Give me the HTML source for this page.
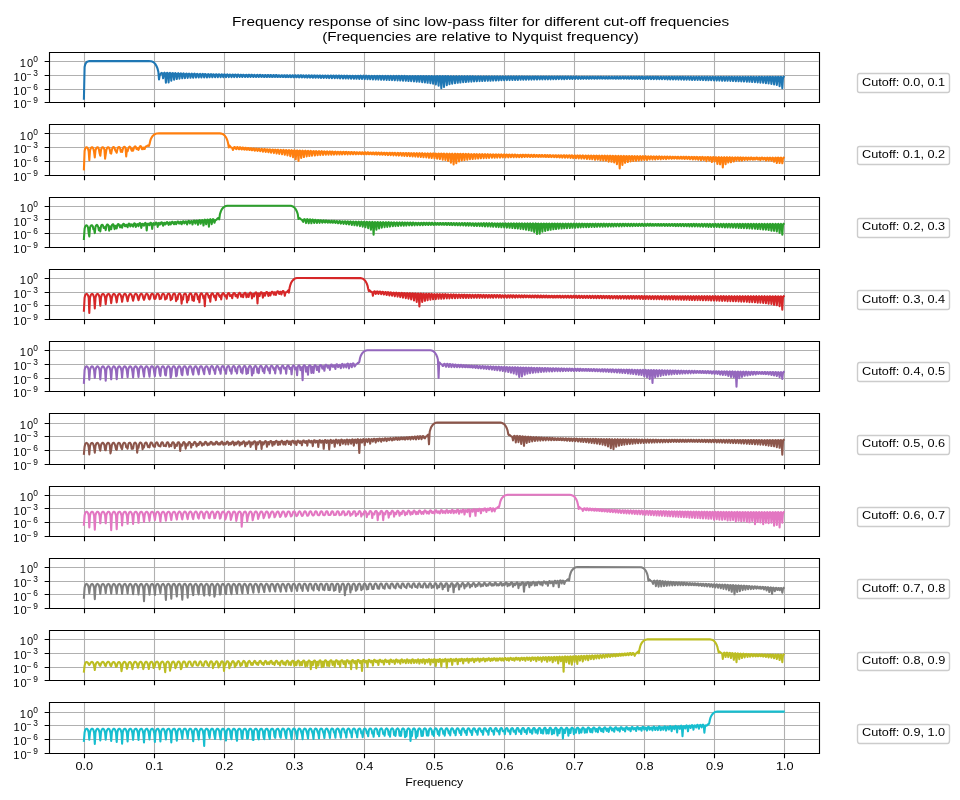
<!DOCTYPE html>
<html><head><meta charset="utf-8"><title>Frequency response of sinc low-pass filter</title>
<style>html,body{margin:0;padding:0;background:#fff;width:960px;height:800px;overflow:hidden}svg{display:block;will-change:transform}text{font-family:"Liberation Sans",sans-serif;fill:#000}</style>
</head><body>
<svg width="960" height="800" viewBox="0 0 960 800">
<defs><clipPath id="c0"><rect x="48.88" y="52" width="769.78" height="50.27"/></clipPath><clipPath id="c1"><rect x="48.88" y="124.27" width="769.78" height="50.27"/></clipPath><clipPath id="c2"><rect x="48.88" y="196.54" width="769.78" height="50.27"/></clipPath><clipPath id="c3"><rect x="48.88" y="268.82" width="769.78" height="50.27"/></clipPath><clipPath id="c4"><rect x="48.88" y="341.09" width="769.78" height="50.27"/></clipPath><clipPath id="c5"><rect x="48.88" y="413.36" width="769.78" height="50.27"/></clipPath><clipPath id="c6"><rect x="48.88" y="485.63" width="769.78" height="50.27"/></clipPath><clipPath id="c7"><rect x="48.88" y="557.91" width="769.78" height="50.27"/></clipPath><clipPath id="c8"><rect x="48.88" y="630.18" width="769.78" height="50.27"/></clipPath><clipPath id="c9"><rect x="48.88" y="702.45" width="769.78" height="50.27"/></clipPath></defs>
<rect width="960" height="800" fill="#fff"/>
<path d="M84.5 52.5V102.5M154.5 52.5V102.5M224.5 52.5V102.5M294.5 52.5V102.5M364.5 52.5V102.5M434.5 52.5V102.5M504.5 52.5V102.5M574.5 52.5V102.5M644.5 52.5V102.5M714.5 52.5V102.5M784.5 52.5V102.5M49.5 102.5H819.5M49.5 89.5H819.5M49.5 75.5H819.5M49.5 61.5H819.5" stroke="#b0b0b0" stroke-width="1.11" fill="none" stroke-linecap="square" clip-path="url(#c0)"/>
<path d="M84.5 102.5v4.86M154.5 102.5v4.86M224.5 102.5v4.86M294.5 102.5v4.86M364.5 102.5v4.86M434.5 102.5v4.86M504.5 102.5v4.86M574.5 102.5v4.86M644.5 102.5v4.86M714.5 102.5v4.86M784.5 102.5v4.86M49.5 102.5h-4.86M49.5 89.5h-4.86M49.5 75.5h-4.86M49.5 61.5h-4.86" stroke="#000" stroke-width="1.11" fill="none"/>
<path d="M49.5 52.5H819.5V102.5H49.5Z" stroke="#000" stroke-width="1.11" fill="none" stroke-linecap="square"/>
<path d="M859.5 92.5L947.5 92.5Q949.5 92.5 949.5 90.5L949.5 76.5Q949.5 73.5 947.5 73.5L859.5 73.5Q857.5 73.5 857.5 76.5L857.5 90.5Q857.5 92.5 859.5 92.5Z" fill="#fff" fill-opacity="0.8" stroke="#ccc" stroke-width="1.39"/>
<path d="M83.9 98.8 84.6 67.1 85.2 64.5 85.9 63.1 86.6 62.2 87.3 61.7 88.0 61.4 89.3 61.1 94.8 61.1 102.3 61.1 111.2 61.1 124.9 61.1 148.8 61.1 150.8 61.3 152.2 61.6 153.6 62.3 154.3 62.9 154.9 63.6 155.6 64.5 156.3 65.7 157.0 67.2 157.7 69.2 158.4 72.1 159.0 79.5 159.7 75.6 160.4 74.3 161.1 73.2 161.8 72.9 162.5 73.7 163.1 78.3 163.8 73.3 164.5 72.7 165.2 73.4 165.9 82.7 166.6 73.4 167.2 72.8 167.9 73.5 168.6 82.4 169.3 73.5 170.0 72.9 170.7 73.7 171.3 80.6 172.0 73.6 172.7 73.0 173.4 73.8 174.1 79.6 174.8 73.7 175.4 73.1 176.1 73.9 176.8 79.0 177.5 73.8 178.2 73.2 178.9 74.1 179.5 78.6 180.2 73.9 180.9 73.3 181.6 74.2 182.3 78.3 183.0 73.9 183.6 73.4 184.3 74.3 185.0 78.1 185.7 74.0 186.4 73.5 187.1 74.4 187.7 77.9 188.4 74.1 189.1 73.6 189.8 74.6 190.5 77.8 191.2 74.1 191.8 73.7 192.5 74.7 193.2 77.7 193.9 74.2 194.6 73.7 195.3 74.8 196.0 77.6 196.6 74.2 197.3 73.8 198.0 74.9 198.7 77.5 199.4 74.3 200.1 73.9 200.7 74.9 201.4 77.5 202.1 74.3 202.8 73.9 203.5 75.0 204.2 77.4 204.8 74.3 205.5 74.0 206.2 75.1 206.9 77.4 207.6 74.4 208.3 74.1 208.9 75.2 209.6 77.3 210.3 74.4 211.0 74.1 211.7 75.3 212.4 77.3 213.0 74.5 213.7 74.2 214.4 75.4 215.1 77.2 215.8 74.5 216.5 74.2 217.1 75.4 217.8 77.2 218.5 74.5 219.2 74.3 219.9 75.5 220.6 77.2 221.2 74.6 221.9 74.3 222.6 75.6 223.3 77.2 224.0 74.6 224.7 74.4 226.0 77.1 226.7 74.7 227.4 74.4 228.8 77.1 229.4 74.7 230.1 74.5 231.5 77.1 232.2 74.7 232.9 74.5 234.2 77.1 234.9 74.8 235.6 74.6 237.0 77.1 237.6 74.8 238.3 74.6 239.0 76.0 239.7 77.0 240.4 74.8 241.1 74.7 241.7 76.1 242.4 77.0 243.1 74.8 243.8 74.7 244.5 76.1 245.2 77.0 245.8 74.9 246.5 74.7 247.2 76.2 247.9 77.0 248.6 74.9 249.3 74.8 249.9 76.3 250.6 77.0 251.3 74.9 252.0 74.8 252.7 76.3 253.4 77.0 254.0 75.0 254.7 74.9 255.4 76.4 256.1 77.0 256.8 75.0 257.5 74.9 258.1 76.4 258.8 77.0 259.5 75.0 260.2 74.9 260.9 76.5 261.6 77.0 262.2 75.0 262.9 75.0 263.6 76.6 264.3 77.0 265.0 75.1 265.7 75.0 266.3 76.6 267.0 77.0 267.7 75.1 268.4 75.0 269.1 76.7 269.8 76.9 270.4 75.1 271.1 75.1 271.8 76.8 272.5 76.9 273.2 75.1 273.9 75.1 274.5 76.8 275.2 76.9 275.9 75.1 276.6 75.1 277.3 76.9 278.0 76.9 278.6 75.2 279.3 75.2 280.0 76.9 280.7 76.9 281.4 75.2 282.1 75.2 282.7 77.0 283.4 76.9 284.1 75.2 284.8 75.2 285.5 77.1 286.2 76.9 286.8 75.2 287.5 75.3 288.2 77.1 288.9 76.9 289.6 75.3 290.3 75.3 290.9 77.2 291.6 76.9 292.3 75.3 293.0 75.3 293.7 77.3 294.4 76.9 295.0 75.3 295.7 75.4 296.4 77.3 297.1 76.9 297.8 75.3 298.5 75.4 299.1 77.4 299.8 76.9 300.5 75.3 301.2 75.4 301.9 77.4 302.6 76.9 303.2 75.4 303.9 75.5 304.6 77.5 305.3 76.9 306.0 75.4 306.7 75.5 307.3 77.6 308.0 76.9 308.7 75.4 309.4 75.5 310.1 77.6 310.8 76.9 311.4 75.4 312.1 75.6 312.8 77.7 313.5 76.9 314.2 75.4 314.9 75.6 315.5 77.8 316.2 76.9 316.9 75.5 317.6 75.6 318.3 77.8 319.0 76.9 319.6 75.5 320.3 75.6 321.0 77.9 321.7 76.9 322.4 75.5 323.1 75.7 323.7 78.0 324.4 76.9 325.1 75.5 325.8 75.7 326.5 78.0 327.8 75.5 328.5 75.7 329.2 78.1 330.6 75.5 331.3 75.8 331.9 78.2 333.3 75.6 334.0 75.8 334.7 78.2 336.0 75.6 336.7 75.8 337.4 78.3 338.8 75.6 339.5 75.8 340.1 78.4 340.8 76.8 341.5 75.6 342.2 75.9 342.9 78.5 343.6 76.8 344.2 75.6 344.9 75.9 345.6 78.5 346.3 76.8 347.0 75.6 347.7 75.9 348.3 78.6 349.0 76.8 349.7 75.7 350.4 76.0 351.1 78.7 351.8 76.8 352.4 75.7 353.1 76.0 353.8 78.8 354.5 76.8 355.2 75.7 355.9 76.0 356.5 78.8 357.2 76.8 357.9 75.7 358.6 76.0 359.3 78.9 360.0 76.8 360.6 75.7 361.3 76.1 362.0 79.0 362.7 76.8 363.4 75.7 364.1 76.1 364.7 79.1 365.4 76.8 366.1 75.7 366.8 76.1 367.5 79.2 368.2 76.8 368.8 75.8 369.5 76.1 370.2 79.3 370.9 76.8 371.6 75.8 372.3 76.2 372.9 79.4 373.6 76.8 374.3 75.8 375.0 76.2 375.7 79.5 376.4 76.8 377.1 75.8 377.7 76.2 378.4 79.6 379.1 76.8 379.8 75.8 380.5 76.2 381.2 79.7 381.8 76.8 382.5 75.8 383.2 76.3 383.9 79.8 384.6 76.8 385.3 75.8 385.9 76.3 386.6 79.9 387.3 76.8 388.0 75.9 388.7 76.3 389.4 80.0 390.0 76.8 390.7 75.9 391.4 76.3 392.1 80.1 392.8 76.8 393.5 75.9 394.1 76.4 394.8 80.2 395.5 76.8 396.2 75.9 396.9 76.4 397.6 80.4 398.2 76.8 398.9 75.9 399.6 76.4 400.3 80.5 401.0 76.8 401.7 75.9 402.3 76.4 403.0 80.7 403.7 76.8 404.4 75.9 405.1 76.5 405.8 80.8 406.4 76.8 407.1 76.0 407.8 76.5 408.5 81.0 409.2 76.8 409.9 76.0 410.5 76.5 411.2 81.2 411.9 76.8 412.6 76.0 413.3 76.5 414.0 81.4 414.6 76.8 415.3 76.0 416.0 76.6 416.7 81.6 417.4 76.8 418.1 76.0 418.7 76.6 419.4 81.8 420.1 76.8 420.8 76.0 421.5 76.6 422.2 82.1 422.8 76.8 423.5 76.0 424.2 76.6 424.9 82.4 425.6 76.8 426.3 76.0 426.9 76.7 427.6 82.8 428.3 76.8 429.0 76.1 429.7 76.7 430.4 83.2 431.0 76.8 431.7 76.1 432.4 76.7 433.1 83.7 433.8 76.8 434.5 76.1 435.1 76.7 435.8 84.4 436.5 76.8 437.2 76.1 437.9 76.8 438.6 85.6 439.2 76.8 439.9 76.1 440.6 76.8 441.3 88.2 442.0 76.8 442.7 76.1 443.3 76.8 444.0 87.0 444.7 76.8 445.4 76.1 446.1 76.8 446.8 85.2 447.4 76.8 448.1 76.1 448.8 76.9 449.5 84.2 450.2 76.8 450.9 76.2 451.5 76.9 452.2 83.6 452.9 76.8 453.6 76.2 454.3 76.9 455.0 83.1 455.6 76.8 456.3 76.2 457.0 76.9 457.7 82.8 458.4 76.8 459.1 76.2 459.7 77.0 460.4 82.5 461.1 76.8 461.8 76.2 462.5 77.0 463.2 82.2 463.8 76.8 464.5 76.2 465.2 77.0 465.9 82.0 466.6 76.8 467.3 76.2 467.9 77.0 468.6 81.8 469.3 76.8 470.0 76.2 470.7 77.1 471.4 81.6 472.0 76.8 472.7 76.2 473.4 77.1 474.1 81.4 474.8 76.8 475.5 76.3 476.1 77.1 476.8 81.3 477.5 76.8 478.2 76.3 478.9 77.1 479.6 81.1 480.2 76.8 480.9 76.3 481.6 77.2 482.3 81.0 483.0 76.8 483.7 76.3 484.3 77.2 485.0 80.9 485.7 76.8 486.4 76.3 487.1 77.2 487.8 80.8 488.4 76.8 489.1 76.3 489.8 77.2 490.5 80.7 491.2 76.8 491.9 76.3 492.5 77.3 493.2 80.6 493.9 76.8 494.6 76.3 495.3 77.3 496.0 80.5 496.6 76.8 497.3 76.3 498.0 77.3 498.7 80.4 499.4 76.8 500.1 76.4 500.7 77.3 501.4 80.3 502.1 76.8 502.8 76.4 503.5 77.4 504.2 80.2 504.8 76.8 505.5 76.4 506.2 77.4 506.9 80.1 507.6 76.8 508.3 76.4 508.9 77.4 509.6 80.1 510.3 76.8 511.0 76.4 511.7 77.4 512.4 80.0 513.0 76.8 513.7 76.4 514.4 77.5 515.1 79.9 515.8 76.8 516.5 76.4 517.1 77.5 517.8 79.9 518.5 76.8 519.2 76.4 519.9 77.5 520.6 79.8 521.2 76.8 521.9 76.4 522.6 77.5 523.3 79.7 524.0 76.8 524.7 76.5 525.3 77.6 526.0 79.7 526.7 76.8 527.4 76.5 528.1 77.6 528.8 79.6 529.4 76.8 530.1 76.5 530.8 77.6 531.5 79.6 532.2 76.8 532.9 76.5 533.5 77.7 534.2 79.5 534.9 76.8 535.6 76.5 536.3 77.7 537.0 79.5 537.6 76.8 538.3 76.5 539.0 77.7 539.7 79.4 540.4 76.8 541.1 76.5 541.7 77.7 542.4 79.4 543.1 76.8 543.8 76.5 544.5 77.8 545.2 79.3 545.8 76.8 546.5 76.5 547.2 77.8 547.9 79.3 548.6 76.8 549.3 76.5 550.6 79.3 551.3 76.8 552.0 76.6 553.4 79.2 554.1 76.8 554.7 76.6 556.1 79.2 556.8 76.8 557.5 76.6 558.8 79.1 559.5 76.8 560.2 76.6 561.6 79.1 562.3 76.8 562.9 76.6 563.6 78.0 564.3 79.1 565.0 76.8 565.7 76.6 566.4 78.0 567.0 79.0 567.7 76.8 568.4 76.6 569.1 78.0 569.8 79.0 570.5 76.8 571.1 76.6 571.8 78.1 572.5 79.0 573.2 76.8 573.9 76.6 574.6 78.1 575.2 78.9 575.9 76.8 576.6 76.6 577.3 78.1 578.0 78.9 578.7 76.8 579.3 76.7 580.0 78.1 580.7 78.9 581.4 76.8 582.1 76.7 582.8 78.2 583.4 78.8 584.1 76.8 584.8 76.7 585.5 78.2 586.2 78.8 586.9 76.8 587.5 76.7 588.2 78.2 588.9 78.8 589.6 76.8 590.3 76.7 591.0 78.3 591.6 78.7 592.3 76.8 593.0 76.7 593.7 78.3 594.4 78.7 595.1 76.8 595.7 76.7 596.4 78.3 597.1 78.7 597.8 76.8 598.5 76.7 599.2 78.4 599.8 78.6 600.5 76.8 601.2 76.7 601.9 78.4 602.6 78.6 603.3 76.8 603.9 76.8 604.6 78.4 605.3 78.6 606.0 76.8 606.7 76.8 607.4 78.5 608.0 78.6 608.7 76.8 609.4 76.8 610.1 78.5 610.8 78.5 611.5 76.8 612.1 76.8 612.8 78.5 613.5 78.5 614.2 76.8 614.9 76.8 615.6 78.6 616.2 78.5 616.9 76.8 617.6 76.8 618.3 78.6 619.0 78.5 619.7 76.8 620.3 76.8 621.0 78.6 621.7 78.4 622.4 76.8 623.1 76.8 623.8 78.7 624.4 78.4 625.1 76.8 625.8 76.8 626.5 78.7 627.2 78.4 627.9 76.8 628.5 76.8 629.2 78.8 629.9 78.4 630.6 76.8 631.3 76.9 632.0 78.8 632.6 78.4 633.3 76.8 634.0 76.9 634.7 78.8 635.4 78.3 636.1 76.8 636.7 76.9 637.4 78.9 638.1 78.3 638.8 76.8 639.5 76.9 640.2 78.9 640.8 78.3 641.5 76.8 642.2 76.9 642.9 79.0 643.6 78.3 644.3 76.8 644.9 76.9 645.6 79.0 646.3 78.3 647.0 76.8 647.7 76.9 648.4 79.0 649.0 78.2 649.7 76.8 650.4 76.9 651.1 79.1 651.8 78.2 652.5 76.8 653.1 76.9 653.8 79.1 654.5 78.2 655.2 76.8 655.9 76.9 656.6 79.2 657.2 78.2 657.9 76.8 658.6 77.0 659.3 79.2 660.0 78.2 660.7 76.8 661.3 77.0 662.0 79.3 662.7 78.1 663.4 76.8 664.1 77.0 664.8 79.3 666.1 76.8 666.8 77.0 667.5 79.4 668.9 76.8 669.5 77.0 670.2 79.4 671.6 76.8 672.3 77.0 673.0 79.5 674.3 76.8 675.0 77.0 675.7 79.5 677.1 76.8 677.7 77.0 678.4 79.6 679.1 78.0 679.8 76.8 680.5 77.0 681.2 79.6 681.8 78.0 682.5 76.8 683.2 77.0 683.9 79.7 684.6 78.0 685.3 76.8 685.9 77.1 686.6 79.7 687.3 78.0 688.0 76.8 688.7 77.1 689.4 79.8 690.0 78.0 690.7 76.8 691.4 77.1 692.1 79.9 692.8 77.9 693.5 76.8 694.1 77.1 694.8 79.9 695.5 77.9 696.2 76.8 696.9 77.1 697.6 80.0 698.2 77.9 698.9 76.8 699.6 77.1 700.3 80.0 701.0 77.9 701.7 76.8 702.3 77.1 703.0 80.1 703.7 77.9 704.4 76.8 705.1 77.1 705.8 80.2 706.4 77.9 707.1 76.8 707.8 77.1 708.5 80.3 709.2 77.8 709.9 76.8 710.5 77.2 711.2 80.3 711.9 77.8 712.6 76.8 713.3 77.2 714.0 80.4 714.6 77.8 715.3 76.8 716.0 77.2 716.7 80.5 717.4 77.8 718.1 76.8 718.7 77.2 719.4 80.6 720.1 77.8 720.8 76.8 721.5 77.2 722.2 80.7 722.8 77.8 723.5 76.8 724.2 77.2 724.9 80.7 725.6 77.8 726.3 76.8 726.9 77.2 727.6 80.8 728.3 77.7 729.0 76.8 729.7 77.2 730.4 80.9 731.0 77.7 731.7 76.8 732.4 77.2 733.1 81.0 733.8 77.7 734.5 76.8 735.2 77.3 735.8 81.2 736.5 77.7 737.2 76.8 737.9 77.3 738.6 81.3 739.3 77.7 739.9 76.8 740.6 77.3 741.3 81.4 742.0 77.7 742.7 76.8 743.4 77.3 744.0 81.5 744.7 77.7 745.4 76.8 746.1 77.3 746.8 81.7 747.5 77.6 748.1 76.8 748.8 77.3 749.5 81.8 750.2 77.6 750.9 76.8 751.6 77.3 752.2 82.0 752.9 77.6 753.6 76.8 754.3 77.3 755.0 82.2 755.7 77.6 756.3 76.8 757.0 77.3 757.7 82.4 758.4 77.6 759.1 76.8 759.8 77.4 760.4 82.6 761.1 77.6 761.8 76.8 762.5 77.4 763.2 82.8 763.9 77.6 764.5 76.8 765.2 77.4 765.9 83.1 766.6 77.5 767.3 76.8 768.0 77.4 768.6 83.5 769.3 77.5 770.0 76.8 770.7 77.4 771.4 83.9 772.1 77.5 772.7 76.8 773.4 77.4 774.1 84.4 774.8 77.5 775.5 76.8 776.2 77.4 776.8 85.0 777.5 77.5 778.2 76.8 778.9 77.4 779.6 86.1 780.3 77.5 780.9 76.8 781.6 77.5 782.3 88.2 783.0 77.5 783.7 76.8 783.7 76.8" stroke="#1f77b4" stroke-width="2.08" fill="none" stroke-linecap="square" stroke-linejoin="round" clip-path="url(#c0)"/>
<path d="M84.5 124.5V175.5M154.5 124.5V175.5M224.5 124.5V175.5M294.5 124.5V175.5M364.5 124.5V175.5M434.5 124.5V175.5M504.5 124.5V175.5M574.5 124.5V175.5M644.5 124.5V175.5M714.5 124.5V175.5M784.5 124.5V175.5M49.5 175.5H819.5M49.5 161.5H819.5M49.5 147.5H819.5M49.5 133.5H819.5" stroke="#b0b0b0" stroke-width="1.11" fill="none" stroke-linecap="square" clip-path="url(#c1)"/>
<path d="M84.5 175.5v4.86M154.5 175.5v4.86M224.5 175.5v4.86M294.5 175.5v4.86M364.5 175.5v4.86M434.5 175.5v4.86M504.5 175.5v4.86M574.5 175.5v4.86M644.5 175.5v4.86M714.5 175.5v4.86M784.5 175.5v4.86M49.5 175.5h-4.86M49.5 161.5h-4.86M49.5 147.5h-4.86M49.5 133.5h-4.86" stroke="#000" stroke-width="1.11" fill="none"/>
<path d="M49.5 124.5H819.5V175.5H49.5Z" stroke="#000" stroke-width="1.11" fill="none" stroke-linecap="square"/>
<path d="M859.5 164.5L947.5 164.5Q949.5 164.5 949.5 162.5L949.5 148.5Q949.5 146.5 947.5 146.5L859.5 146.5Q857.5 146.5 857.5 148.5L857.5 162.5Q857.5 164.5 859.5 164.5Z" fill="#fff" fill-opacity="0.8" stroke="#ccc" stroke-width="1.39"/>
<path d="M83.9 169.3 84.6 151.0 85.2 148.6 85.9 147.5 86.6 147.2 87.3 147.6 88.0 148.8 88.7 151.5 89.3 160.3 90.0 150.7 90.7 148.4 91.4 147.5 92.1 147.2 92.8 147.7 93.4 148.9 94.1 152.1 94.8 157.4 95.5 150.4 96.2 148.3 96.9 147.4 97.5 147.2 98.2 147.7 98.9 149.2 99.6 153.3 100.3 155.8 101.0 150.1 101.6 148.1 102.3 147.3 103.0 147.2 103.7 147.8 104.4 149.5 105.1 158.7 106.4 149.9 107.1 148.0 107.8 147.2 108.5 147.2 109.2 147.9 109.8 149.9 110.5 153.2 111.2 153.6 111.9 149.7 112.6 147.8 113.3 147.1 113.9 147.1 114.6 148.0 115.3 150.5 116.0 151.5 116.7 152.7 117.4 149.4 118.0 147.6 118.7 147.0 119.4 147.1 120.1 148.1 120.8 151.7 121.5 150.4 122.1 152.0 122.8 149.1 123.5 147.4 124.2 146.8 124.9 147.0 125.6 148.3 126.2 156.4 126.9 149.5 127.6 151.3 128.3 148.8 129.0 147.1 129.7 146.6 130.3 147.0 131.0 148.6 131.7 150.8 132.4 148.8 133.1 150.6 133.8 148.5 134.4 146.8 135.1 146.4 135.8 146.9 136.5 149.0 137.2 149.2 137.9 148.0 138.5 149.9 139.9 146.5 140.6 146.1 141.3 146.7 142.0 149.3 143.3 147.6 144.0 149.1 144.7 148.9 145.4 146.9 146.1 146.4 146.7 146.2 148.1 145.3 148.8 146.0 149.5 144.3 150.2 141.1 150.8 139.1 151.5 137.7 152.2 136.6 152.9 135.7 154.3 134.5 155.6 133.8 157.0 133.5 159.0 133.4 219.9 133.4 221.2 133.6 222.6 134.0 223.3 134.4 224.0 134.9 224.7 135.5 225.3 136.4 226.0 137.4 226.7 138.8 227.4 140.6 228.1 143.3 228.8 147.4 229.4 145.6 230.1 146.3 230.8 147.3 232.2 147.9 232.9 150.0 234.2 147.1 234.9 147.1 235.6 148.7 236.3 149.1 237.0 147.2 237.6 147.1 238.3 148.7 239.0 149.3 239.7 147.4 240.4 147.4 241.1 149.0 241.7 149.5 242.4 147.6 243.1 147.6 243.8 149.3 244.5 149.6 245.2 147.8 245.8 147.9 246.5 149.7 247.2 149.7 247.9 148.0 248.6 148.1 249.3 150.0 249.9 149.8 250.6 148.2 251.3 148.3 252.0 150.3 252.7 149.9 253.4 148.4 254.0 148.6 254.7 150.7 255.4 150.0 256.1 148.6 256.8 148.8 257.5 151.0 258.1 150.1 258.8 148.7 259.5 149.0 260.2 151.3 261.6 148.9 262.2 149.2 262.9 151.7 264.3 149.0 265.0 149.3 265.7 152.0 266.3 150.4 267.0 149.2 267.7 149.5 268.4 152.3 269.1 150.4 269.8 149.3 270.4 149.7 271.1 152.7 271.8 150.5 272.5 149.5 273.2 149.9 273.9 153.1 274.5 150.6 275.2 149.6 275.9 150.0 276.6 153.5 277.3 150.7 278.0 149.7 278.6 150.2 279.3 153.9 280.0 150.7 280.7 149.8 281.4 150.3 282.1 154.3 282.7 150.8 283.4 149.9 284.1 150.5 284.8 154.8 285.5 150.9 286.2 150.0 286.8 150.6 287.5 155.4 288.2 150.9 288.9 150.1 289.6 150.7 290.3 156.2 290.9 151.0 291.6 150.2 292.3 150.9 293.0 157.2 293.7 151.1 294.4 150.3 295.0 151.0 295.7 159.3 296.4 151.1 297.1 150.4 297.8 151.1 298.5 161.0 299.1 151.2 299.8 150.5 300.5 151.3 301.2 158.0 301.9 151.2 302.6 150.6 303.2 151.4 303.9 157.0 304.6 151.3 305.3 150.7 306.0 151.5 306.7 156.4 307.3 151.3 308.0 150.8 308.7 151.6 309.4 156.0 310.1 151.4 310.8 150.9 311.4 151.8 312.1 155.7 312.8 151.5 313.5 151.0 314.2 151.9 314.9 155.5 315.5 151.5 316.2 151.1 316.9 152.0 317.6 155.2 318.3 151.6 319.0 151.1 319.6 152.1 320.3 155.1 321.0 151.6 321.7 151.2 322.4 152.2 323.1 154.9 323.7 151.7 324.4 151.3 325.1 152.4 325.8 154.8 326.5 151.7 327.2 151.4 327.8 152.5 328.5 154.7 329.2 151.8 329.9 151.4 330.6 152.6 331.3 154.7 331.9 151.8 332.6 151.5 333.3 152.7 334.0 154.6 334.7 151.9 335.4 151.6 336.0 152.8 336.7 154.5 337.4 151.9 338.1 151.7 338.8 152.9 339.5 154.5 340.1 152.0 340.8 151.7 342.2 154.4 342.9 152.0 343.6 151.8 344.9 154.4 345.6 152.1 346.3 151.9 347.0 153.3 347.7 154.3 348.3 152.1 349.0 152.0 349.7 153.4 350.4 154.3 351.1 152.1 351.8 152.0 352.4 153.5 353.1 154.3 353.8 152.2 354.5 152.1 355.2 153.6 355.9 154.3 356.5 152.2 357.2 152.2 357.9 153.7 358.6 154.2 359.3 152.3 360.0 152.2 360.6 153.8 361.3 154.2 362.0 152.3 362.7 152.3 363.4 154.0 364.1 154.2 364.7 152.4 365.4 152.4 366.1 154.1 366.8 154.2 367.5 152.4 368.2 152.4 368.8 154.2 369.5 154.2 370.2 152.5 370.9 152.5 371.6 154.3 372.3 154.2 372.9 152.5 373.6 152.6 374.3 154.4 375.0 154.2 375.7 152.5 376.4 152.6 377.1 154.6 377.7 154.2 378.4 152.6 379.1 152.7 379.8 154.7 380.5 154.2 381.2 152.6 381.8 152.8 382.5 154.8 383.2 154.2 383.9 152.7 384.6 152.8 385.3 155.0 385.9 154.2 386.6 152.7 387.3 152.9 388.0 155.1 388.7 154.2 389.4 152.8 390.0 152.9 390.7 155.2 391.4 154.2 392.1 152.8 392.8 153.0 393.5 155.4 394.8 152.8 395.5 153.1 396.2 155.5 397.6 152.9 398.2 153.1 398.9 155.6 400.3 152.9 401.0 153.2 401.7 155.8 402.3 154.2 403.0 153.0 403.7 153.3 404.4 155.9 405.1 154.2 405.8 153.0 406.4 153.3 407.1 156.1 407.8 154.2 408.5 153.0 409.2 153.4 409.9 156.3 410.5 154.2 411.2 153.1 411.9 153.4 412.6 156.5 413.3 154.2 414.0 153.1 414.6 153.5 415.3 156.6 416.0 154.2 416.7 153.2 417.4 153.6 418.1 156.8 418.7 154.2 419.4 153.2 420.1 153.6 420.8 157.0 421.5 154.2 422.2 153.2 422.8 153.7 423.5 157.2 424.2 154.3 424.9 153.3 425.6 153.8 426.3 157.4 426.9 154.3 427.6 153.3 428.3 153.8 429.0 157.7 429.7 154.3 430.4 153.4 431.0 153.9 431.7 158.0 432.4 154.3 433.1 153.4 433.8 153.9 434.5 158.3 435.1 154.3 435.8 153.5 436.5 154.0 437.2 158.6 437.9 154.3 438.6 153.5 439.2 154.1 439.9 159.0 440.6 154.3 441.3 153.5 442.0 154.1 442.7 159.6 443.3 154.3 444.0 153.6 444.7 154.2 445.4 159.9 446.1 154.4 446.8 153.6 447.4 154.3 448.1 161.0 448.8 154.4 449.5 153.7 450.2 154.3 450.9 162.6 451.5 154.4 452.2 153.7 452.9 154.4 453.6 164.5 454.3 154.4 455.0 153.7 455.6 154.4 456.3 163.1 457.0 154.4 457.7 153.8 458.4 154.5 459.1 161.4 459.7 154.4 460.4 153.8 461.1 154.6 461.8 160.4 462.5 154.4 463.2 153.8 463.8 154.6 464.5 160.0 465.2 154.5 465.9 153.9 466.6 154.7 467.3 159.6 467.9 154.5 468.6 153.9 469.3 154.8 470.0 159.2 470.7 154.5 471.4 154.0 472.0 154.8 472.7 159.0 473.4 154.5 474.1 154.0 474.8 154.9 475.5 158.7 476.1 154.5 476.8 154.0 477.5 155.0 478.2 158.5 478.9 154.6 479.6 154.1 480.2 155.0 480.9 158.3 481.6 154.6 482.3 154.1 483.0 155.1 483.7 158.2 484.3 154.6 485.0 154.2 485.7 155.2 486.4 158.1 487.1 154.6 487.8 154.2 488.4 155.2 489.1 157.9 489.8 154.6 490.5 154.3 491.2 155.3 491.9 157.8 492.5 154.7 493.2 154.3 493.9 155.4 494.6 157.7 495.3 154.7 496.0 154.3 496.6 155.5 497.3 157.6 498.0 154.7 498.7 154.4 499.4 155.5 500.1 157.6 500.7 154.7 501.4 154.4 502.1 155.6 502.8 157.4 503.5 154.7 504.2 154.4 504.8 155.6 505.5 157.4 506.2 154.8 506.9 154.5 507.6 155.7 508.3 157.4 508.9 154.8 509.6 154.6 511.0 157.2 511.7 154.8 512.4 154.6 513.7 157.2 514.4 154.8 515.1 154.6 516.5 157.2 517.1 154.9 517.8 154.7 518.5 156.1 519.2 157.1 519.9 154.9 520.6 154.7 521.2 156.1 521.9 157.1 522.6 154.9 523.3 154.8 524.0 156.2 524.7 157.0 525.3 154.9 526.0 154.8 526.7 156.3 527.4 156.9 528.1 154.9 528.8 154.8 529.4 156.4 530.1 157.0 530.8 155.0 531.5 154.9 532.2 156.5 532.9 156.9 533.5 155.0 534.2 154.9 534.9 156.6 535.6 156.9 536.3 155.0 537.0 155.0 537.6 156.6 538.3 156.9 539.0 155.0 539.7 155.0 540.4 156.8 541.1 156.8 541.7 155.1 542.4 155.1 543.1 156.8 543.8 156.8 544.5 155.1 545.2 155.1 545.8 156.9 546.5 156.8 547.2 155.1 547.9 155.2 548.6 157.0 549.3 156.7 549.9 155.1 550.6 155.2 551.3 157.1 552.0 156.7 552.7 155.2 553.4 155.2 554.1 157.2 554.7 156.7 555.4 155.2 556.1 155.3 556.8 157.3 557.5 156.7 558.2 155.2 558.8 155.3 559.5 157.5 560.2 156.7 560.9 155.2 561.6 155.4 562.3 157.6 562.9 156.7 563.6 155.3 564.3 155.4 565.0 157.7 565.7 156.6 566.4 155.3 567.0 155.5 567.7 157.8 569.1 155.3 569.8 155.5 570.5 158.0 571.8 155.3 572.5 155.6 573.2 158.1 574.6 155.4 575.2 155.7 575.9 158.3 576.6 156.6 577.3 155.4 578.0 155.7 578.7 158.4 579.3 156.6 580.0 155.4 580.7 155.7 581.4 158.6 582.1 156.6 582.8 155.4 583.4 155.8 584.1 158.6 584.8 156.6 585.5 155.5 586.2 155.9 586.9 159.0 587.5 156.6 588.2 155.5 588.9 155.9 589.6 159.1 590.3 156.6 591.0 155.5 591.6 155.9 592.3 159.2 593.0 156.6 593.7 155.6 594.4 156.0 595.1 159.7 595.7 156.5 596.4 155.6 597.1 156.0 597.8 159.6 598.5 156.6 599.2 155.7 599.8 156.1 600.5 160.3 601.2 156.5 601.9 155.7 602.6 156.2 603.3 160.5 603.9 156.5 604.6 155.7 605.3 156.2 606.0 160.6 606.7 156.6 607.4 155.7 608.0 156.3 608.7 161.6 609.4 156.5 610.1 155.7 610.8 156.3 611.5 161.8 612.1 156.6 612.8 155.8 613.5 156.4 614.2 162.5 614.9 156.6 615.6 155.8 616.2 156.5 616.9 164.1 617.6 156.6 618.3 155.9 619.0 156.5 619.7 168.5 620.3 156.6 621.0 155.9 621.7 156.6 622.4 164.9 623.1 156.6 623.8 155.9 624.4 156.7 625.1 162.8 625.8 156.6 626.5 156.0 627.2 156.8 627.9 162.0 628.5 156.6 629.2 156.0 629.9 156.8 630.6 161.4 631.3 156.6 632.0 156.0 632.6 156.9 633.3 161.0 634.0 156.6 634.7 156.1 635.4 157.0 636.1 160.8 636.7 156.6 637.4 156.1 638.1 157.0 638.8 160.4 639.5 156.6 640.2 156.2 640.8 157.1 641.5 160.2 642.2 156.6 642.9 156.2 643.6 157.2 644.3 160.0 644.9 156.6 645.6 156.2 646.3 157.2 647.0 160.0 647.7 156.7 648.4 156.3 649.0 157.4 649.7 159.5 650.4 156.6 651.1 156.3 651.8 157.4 652.5 159.5 653.1 156.7 653.8 156.4 654.5 157.5 655.2 159.4 655.9 156.7 656.6 156.4 657.9 159.1 658.6 156.7 659.3 156.4 660.7 159.2 661.3 156.7 662.0 156.5 662.7 157.9 663.4 158.9 664.1 156.7 664.8 156.5 666.1 159.1 666.8 156.8 667.5 156.6 668.2 158.1 668.9 158.7 669.5 156.7 670.2 156.6 670.9 158.1 671.6 158.8 672.3 156.8 673.0 156.7 673.6 158.3 674.3 158.6 675.0 156.8 675.7 156.7 676.4 158.4 677.1 158.7 677.7 156.8 678.4 156.8 679.1 158.6 679.8 158.5 680.5 156.8 681.2 156.8 681.8 158.7 682.5 158.5 683.2 156.8 683.9 156.9 684.6 158.9 685.3 158.4 685.9 156.8 686.6 156.9 687.3 159.0 688.0 158.4 688.7 156.9 689.4 157.0 690.0 159.2 690.7 158.3 691.4 156.9 692.1 157.1 692.8 159.4 693.5 158.2 694.1 156.9 694.8 157.1 695.5 159.5 696.9 156.9 697.6 157.2 698.2 159.8 698.9 158.2 699.6 157.0 700.3 157.3 701.0 160.2 701.7 158.0 702.3 156.9 703.0 157.2 703.7 160.0 704.4 158.2 705.1 157.1 705.8 157.5 706.4 161.1 707.1 157.9 707.8 157.0 708.5 157.4 709.2 160.6 709.9 158.1 710.5 157.1 711.2 157.6 711.9 162.0 712.6 157.9 713.3 157.0 714.0 157.6 714.6 161.6 715.3 158.0 716.0 157.2 716.7 157.8 717.4 164.0 718.1 157.9 718.7 157.1 719.4 157.8 720.1 164.3 720.8 157.9 721.5 157.2 722.2 157.9 722.8 167.5 723.5 157.9 724.2 157.2 724.9 157.9 725.6 164.2 726.3 157.8 726.9 157.2 727.6 158.1 728.3 162.5 729.0 157.8 729.7 157.2 730.4 158.1 731.0 162.3 731.7 157.8 732.4 157.3 733.1 158.3 733.8 161.5 734.5 157.8 735.2 157.4 735.8 158.5 736.5 160.6 737.2 157.7 737.9 157.3 738.6 158.4 739.3 160.8 739.9 157.7 740.6 157.4 741.3 158.5 742.0 160.6 742.7 157.8 743.4 157.5 744.7 160.0 745.4 157.7 746.1 157.5 746.8 158.9 747.5 159.9 748.1 157.7 748.8 157.6 749.5 159.1 750.2 159.6 750.9 157.6 751.6 157.5 752.2 159.1 752.9 159.7 753.6 157.7 754.3 157.7 755.0 159.5 755.7 159.2 756.3 157.6 757.0 157.6 757.7 159.4 758.4 159.5 759.1 157.8 759.8 157.9 760.4 160.2 761.8 157.5 762.5 157.7 763.2 159.7 763.9 159.2 764.5 157.7 765.2 157.9 765.9 160.6 766.6 158.8 767.3 157.6 768.0 157.9 768.6 160.6 769.3 158.7 770.0 157.6 770.7 157.9 771.4 160.8 772.1 158.7 772.7 157.7 773.4 158.1 774.1 161.7 774.8 158.6 775.5 157.6 776.2 158.1 776.8 163.0 777.5 158.4 778.2 157.5 778.9 158.1 779.6 163.0 780.3 158.4 780.9 157.6 781.6 158.2 782.3 163.3 783.0 158.4 783.7 157.7 783.7 157.7" stroke="#ff7f0e" stroke-width="2.08" fill="none" stroke-linecap="square" stroke-linejoin="round" clip-path="url(#c1)"/>
<path d="M84.5 197.5V247.5M154.5 197.5V247.5M224.5 197.5V247.5M294.5 197.5V247.5M364.5 197.5V247.5M434.5 197.5V247.5M504.5 197.5V247.5M574.5 197.5V247.5M644.5 197.5V247.5M714.5 197.5V247.5M784.5 197.5V247.5M49.5 247.5H819.5M49.5 233.5H819.5M49.5 219.5H819.5M49.5 206.5H819.5" stroke="#b0b0b0" stroke-width="1.11" fill="none" stroke-linecap="square" clip-path="url(#c2)"/>
<path d="M84.5 247.5v4.86M154.5 247.5v4.86M224.5 247.5v4.86M294.5 247.5v4.86M364.5 247.5v4.86M434.5 247.5v4.86M504.5 247.5v4.86M574.5 247.5v4.86M644.5 247.5v4.86M714.5 247.5v4.86M784.5 247.5v4.86M49.5 247.5h-4.86M49.5 233.5h-4.86M49.5 219.5h-4.86M49.5 206.5h-4.86" stroke="#000" stroke-width="1.11" fill="none"/>
<path d="M49.5 197.5H819.5V247.5H49.5Z" stroke="#000" stroke-width="1.11" fill="none" stroke-linecap="square"/>
<path d="M859.5 237.5L947.5 237.5Q949.5 237.5 949.5 235.5L949.5 220.5Q949.5 218.5 947.5 218.5L859.5 218.5Q857.5 218.5 857.5 220.5L857.5 235.5Q857.5 237.5 859.5 237.5Z" fill="#fff" fill-opacity="0.8" stroke="#ccc" stroke-width="1.39"/>
<path d="M83.9 239.0 84.6 228.8 85.2 226.5 85.9 225.5 86.6 225.3 87.3 225.8 88.0 227.4 88.7 233.2 89.3 236.4 90.0 227.6 90.7 225.8 91.4 225.2 92.1 225.3 92.8 226.3 93.4 229.3 94.1 229.5 94.8 233.1 95.5 226.7 96.2 225.3 96.9 224.9 97.5 225.3 98.2 226.9 98.9 230.2 99.6 228.0 100.3 231.4 101.0 226.1 101.6 224.9 102.3 224.7 103.0 225.4 103.7 228.0 104.4 227.7 105.1 227.2 105.7 230.1 106.4 225.6 107.1 224.6 107.8 224.5 108.5 225.5 109.2 230.7 109.8 226.6 110.5 226.6 111.2 229.2 111.9 225.2 112.6 224.3 113.3 224.4 113.9 225.7 114.6 229.1 115.3 225.8 116.0 226.2 116.7 228.4 117.4 224.8 118.0 224.0 118.7 224.2 120.1 227.3 120.8 225.3 121.5 225.9 122.1 227.8 122.8 224.5 123.5 223.8 124.2 224.1 124.9 226.1 125.6 226.2 126.2 224.8 126.9 225.6 127.6 227.2 128.3 224.2 129.0 223.6 129.7 224.0 130.3 226.5 131.7 224.4 132.4 225.4 133.1 226.6 133.8 223.9 134.4 223.3 135.1 223.9 135.8 227.0 136.5 225.0 137.2 224.1 138.5 226.1 139.2 223.6 139.9 223.1 140.6 223.8 141.3 227.9 142.0 224.5 142.6 223.8 143.3 225.0 144.0 225.6 144.7 223.3 145.4 222.9 146.1 223.7 146.7 230.4 147.4 224.0 148.1 223.5 148.8 224.8 149.5 225.2 150.2 223.0 150.8 222.7 151.5 223.6 152.2 228.9 152.9 223.6 153.6 223.2 154.3 224.7 154.9 224.8 155.6 222.8 156.3 222.5 157.0 223.5 157.7 226.9 158.4 223.2 159.0 222.9 159.7 224.6 160.4 224.3 161.1 222.5 161.8 222.3 162.5 223.5 163.1 225.8 163.8 222.9 164.5 222.7 165.2 224.5 165.9 223.9 166.6 222.2 167.2 222.1 168.6 224.9 169.3 222.5 170.0 222.4 170.7 224.4 171.3 223.5 172.0 221.9 172.7 221.9 173.4 223.4 174.1 224.2 174.8 222.1 175.4 222.1 176.1 224.3 177.5 221.6 178.2 221.6 178.9 223.4 179.5 223.5 180.2 221.8 180.9 221.9 181.6 224.3 182.3 222.6 183.0 221.3 183.6 221.4 184.3 223.4 185.0 222.9 185.7 221.4 186.4 221.6 187.1 224.4 187.7 222.1 188.4 220.9 189.1 221.1 189.8 223.4 190.5 222.3 191.2 221.0 191.8 221.2 192.5 224.5 193.2 221.6 193.9 220.6 194.6 220.8 195.3 223.6 196.0 221.7 196.6 220.5 197.3 220.9 198.0 224.8 198.7 221.1 199.4 220.1 200.1 220.5 200.7 223.8 201.4 221.1 202.1 220.0 202.8 220.5 203.5 225.5 204.2 220.6 204.8 219.7 205.5 220.1 206.2 224.3 206.9 220.4 207.6 219.5 208.3 220.1 208.9 226.7 209.6 220.0 210.3 219.2 211.0 219.8 211.7 224.1 212.4 220.1 213.0 219.2 213.7 219.7 214.4 222.8 215.1 220.9 215.8 219.9 216.5 219.7 217.1 219.1 217.8 218.2 218.5 217.9 219.2 219.3 219.9 214.3 220.6 212.1 221.2 210.5 221.9 209.2 222.6 208.3 223.3 207.5 224.7 206.5 226.0 206.0 227.4 205.7 230.1 205.7 290.9 205.8 292.3 206.2 293.7 207.0 294.4 207.5 295.0 208.3 295.7 209.2 296.4 210.5 297.1 212.1 297.8 214.3 298.5 219.0 299.1 218.0 299.8 218.2 300.5 219.0 301.2 219.5 301.9 219.7 302.6 221.0 303.2 221.8 303.9 219.4 304.6 219.1 305.3 220.1 306.0 223.1 306.7 219.5 307.3 219.1 308.0 220.1 308.7 223.3 309.4 219.7 310.1 219.3 310.8 220.4 311.4 223.2 312.1 219.9 312.8 219.5 313.5 220.7 314.2 223.0 314.9 220.0 315.5 219.8 316.2 221.0 316.9 222.9 317.6 220.2 318.3 220.0 319.6 222.8 320.3 220.3 321.0 220.2 321.7 221.6 322.4 222.7 323.1 220.5 323.7 220.4 324.4 221.9 325.1 222.6 325.8 220.6 326.5 220.5 327.2 222.2 327.8 222.6 328.5 220.7 329.2 220.7 329.9 222.4 330.6 222.6 331.3 220.8 331.9 220.9 332.6 222.7 333.3 222.5 334.0 220.9 334.7 221.0 335.4 223.0 336.0 222.5 336.7 221.0 337.4 221.2 338.1 223.3 338.8 222.5 339.5 221.1 340.1 221.3 340.8 223.6 341.5 222.5 342.2 221.2 342.9 221.4 343.6 223.9 344.9 221.3 345.6 221.5 346.3 224.2 347.0 222.5 347.7 221.3 348.3 221.7 349.0 224.5 349.7 222.5 350.4 221.4 351.1 221.8 351.8 224.9 352.4 222.5 353.1 221.5 353.8 221.9 354.5 225.2 355.2 222.6 355.9 221.6 356.5 222.0 357.2 225.6 357.9 222.6 358.6 221.6 359.3 222.1 360.0 226.1 360.6 222.6 361.3 221.7 362.0 222.2 362.7 226.6 363.4 222.6 364.1 221.8 364.7 222.3 365.4 227.3 366.1 222.6 366.8 221.8 367.5 222.4 368.2 228.2 368.8 222.6 369.5 221.9 370.2 222.5 370.9 229.6 371.6 222.6 372.3 221.9 372.9 222.6 373.6 234.6 374.3 222.6 375.0 222.0 375.7 222.7 376.4 229.7 377.1 222.7 377.7 222.0 378.4 222.8 379.1 228.4 379.8 222.7 380.5 222.1 381.2 222.9 381.8 227.7 382.5 222.7 383.2 222.1 383.9 223.0 384.6 227.2 385.3 222.7 385.9 222.2 386.6 223.1 387.3 226.9 388.0 222.7 388.7 222.2 389.4 223.2 390.0 226.6 390.7 222.7 391.4 222.3 392.1 223.2 392.8 226.3 393.5 222.7 394.1 222.3 394.8 223.3 395.5 226.1 396.2 222.8 396.9 222.4 397.6 223.4 398.2 225.9 398.9 222.8 399.6 222.4 400.3 223.5 401.0 225.8 401.7 222.8 402.3 222.4 403.0 223.6 403.7 225.7 404.4 222.8 405.1 222.5 405.8 223.7 406.4 225.6 407.1 222.8 407.8 222.5 408.5 223.7 409.2 225.4 409.9 222.8 410.5 222.6 411.2 223.8 411.9 225.4 412.6 222.8 413.3 222.6 414.6 225.3 415.3 222.9 416.0 222.7 417.4 225.2 418.1 222.9 418.7 222.7 419.4 224.1 420.1 225.1 420.8 222.9 421.5 222.7 422.2 224.2 422.8 225.1 423.5 222.9 424.2 222.8 424.9 224.2 425.6 225.0 426.3 222.9 426.9 222.8 427.6 224.3 428.3 225.0 429.0 222.9 429.7 222.8 430.4 224.4 431.0 224.9 431.7 222.9 432.4 222.9 433.1 224.5 433.8 224.9 434.5 223.0 435.1 222.9 435.8 224.6 436.5 224.8 437.2 223.0 437.9 223.0 438.6 224.7 439.2 224.8 439.9 223.0 440.6 223.0 441.3 224.7 442.0 224.7 442.7 223.0 443.3 223.0 444.0 224.8 444.7 224.7 445.4 223.0 446.1 223.1 446.8 224.9 447.4 224.7 448.1 223.0 448.8 223.1 449.5 225.0 450.2 224.6 450.9 223.0 451.5 223.1 452.2 225.1 452.9 224.6 453.6 223.1 454.3 223.2 455.0 225.2 455.6 224.6 456.3 223.1 457.0 223.2 457.7 225.3 458.4 224.5 459.1 223.1 459.7 223.2 460.4 225.4 461.1 224.5 461.8 223.1 462.5 223.3 463.2 225.5 463.8 224.5 464.5 223.1 465.2 223.3 465.9 225.6 466.6 224.5 467.3 223.1 467.9 223.3 468.6 225.7 470.0 223.1 470.7 223.4 471.4 225.8 472.7 223.2 473.4 223.4 474.1 225.9 475.5 223.2 476.1 223.4 476.8 226.0 477.5 224.4 478.2 223.2 478.9 223.5 479.6 226.1 480.2 224.4 480.9 223.2 481.6 223.5 482.3 226.2 483.0 224.4 483.7 223.2 484.3 223.5 485.0 226.4 485.7 224.4 486.4 223.2 487.1 223.6 487.8 226.5 488.4 224.3 489.1 223.2 489.8 223.6 490.5 226.6 491.2 224.3 491.9 223.2 492.5 223.6 493.2 226.8 493.9 224.3 494.6 223.3 495.3 223.7 496.0 226.9 496.6 224.3 497.3 223.3 498.0 223.7 498.7 227.1 499.4 224.3 500.1 223.3 500.7 223.7 501.4 227.2 502.1 224.3 502.8 223.3 503.5 223.8 504.2 227.4 504.8 224.3 505.5 223.3 506.2 223.8 506.9 227.6 507.6 224.2 508.3 223.3 508.9 223.8 509.6 227.8 510.3 224.2 511.0 223.3 511.7 223.8 512.4 228.0 513.0 224.2 513.7 223.3 514.4 223.9 515.1 228.3 515.8 224.2 516.5 223.4 517.1 223.9 517.8 228.5 518.5 224.2 519.2 223.4 519.9 223.9 520.6 228.9 521.2 224.2 521.9 223.4 522.6 224.0 523.3 229.2 524.0 224.2 524.7 223.4 525.3 224.0 526.0 229.6 526.7 224.2 527.4 223.4 528.1 224.0 528.8 230.2 529.4 224.2 530.1 223.4 530.8 224.1 531.5 230.8 532.2 224.2 532.9 223.4 533.5 224.1 534.2 232.0 534.9 224.2 535.6 223.4 536.3 224.1 537.0 234.0 537.6 224.1 538.3 223.5 539.0 224.2 539.7 233.7 540.4 224.1 541.1 223.5 541.7 224.2 542.4 231.7 543.1 224.1 543.8 223.5 544.5 224.2 545.2 231.0 545.8 224.1 546.5 223.5 547.2 224.3 547.9 230.1 548.6 224.1 549.3 223.5 549.9 224.3 550.6 229.8 551.3 224.1 552.0 223.5 552.7 224.3 553.4 229.3 554.1 224.1 554.7 223.5 555.4 224.3 556.1 229.0 556.8 224.1 557.5 223.5 558.2 224.4 558.8 228.7 559.5 224.1 560.2 223.6 560.9 224.4 561.6 228.5 562.3 224.1 562.9 223.6 563.6 224.4 564.3 228.3 565.0 224.1 565.7 223.6 566.4 224.5 567.0 228.1 567.7 224.1 568.4 223.6 569.1 224.5 569.8 228.0 570.5 224.1 571.1 223.6 571.8 224.5 572.5 227.8 573.2 224.1 573.9 223.6 574.6 224.6 575.2 227.7 575.9 224.1 576.6 223.6 577.3 224.6 578.0 227.5 578.7 224.1 579.3 223.6 580.0 224.6 580.7 227.4 581.4 224.1 582.1 223.6 582.8 224.7 583.4 227.3 584.1 224.0 584.8 223.7 585.5 224.7 586.2 227.2 586.9 224.0 587.5 223.7 588.2 224.7 588.9 227.1 589.6 224.0 590.3 223.7 591.0 224.8 591.6 227.0 592.3 224.0 593.0 223.7 593.7 224.8 594.4 226.9 595.1 224.0 595.7 223.7 596.4 224.9 597.1 226.8 597.8 224.0 598.5 223.7 599.2 224.9 599.8 226.8 600.5 224.0 601.2 223.7 601.9 224.9 602.6 226.7 603.3 224.0 603.9 223.7 604.6 225.0 605.3 226.6 606.0 224.0 606.7 223.8 607.4 225.0 608.0 226.6 608.7 224.0 609.4 223.8 610.8 226.5 611.5 224.0 612.1 223.8 613.5 226.5 614.2 224.0 614.9 223.8 616.2 226.4 616.9 224.0 617.6 223.8 619.0 226.3 619.7 224.0 620.3 223.8 621.0 225.2 621.7 226.3 622.4 224.0 623.1 223.8 623.8 225.2 624.4 226.2 625.1 224.0 625.8 223.8 626.5 225.3 627.2 226.2 627.9 224.0 628.5 223.8 629.2 225.3 629.9 226.1 630.6 224.0 631.3 223.9 632.0 225.3 632.6 226.1 633.3 224.0 634.0 223.9 634.7 225.4 635.4 226.0 636.1 224.0 636.7 223.9 637.4 225.4 638.1 226.0 638.8 224.0 639.5 223.9 640.2 225.5 640.8 225.9 641.5 224.0 642.2 223.9 642.9 225.5 643.6 225.9 644.3 224.0 644.9 223.9 645.6 225.6 646.3 225.9 647.0 224.0 647.7 223.9 648.4 225.6 649.0 225.8 649.7 224.0 650.4 223.9 651.1 225.6 651.8 225.8 652.5 224.0 653.1 224.0 653.8 225.7 654.5 225.7 655.2 224.0 655.9 224.0 656.6 225.7 657.2 225.7 657.9 224.0 658.6 224.0 659.3 225.8 660.0 225.7 660.7 224.0 661.3 224.0 662.0 225.8 662.7 225.6 663.4 224.0 664.1 224.0 664.8 225.9 665.4 225.6 666.1 224.0 666.8 224.0 667.5 225.9 668.2 225.6 668.9 224.0 669.5 224.0 670.2 226.0 670.9 225.5 671.6 224.0 672.3 224.0 673.0 226.0 673.6 225.5 674.3 224.0 675.0 224.1 675.7 226.1 676.4 225.5 677.1 224.0 677.7 224.1 678.4 226.1 679.1 225.4 679.8 224.0 680.5 224.1 681.2 226.2 681.8 225.4 682.5 224.0 683.2 224.1 683.9 226.2 684.6 225.4 685.3 224.0 685.9 224.1 686.6 226.3 687.3 225.4 688.0 224.0 688.7 224.1 689.4 226.4 690.0 225.3 690.7 224.0 691.4 224.1 692.1 226.4 692.8 225.3 693.5 223.9 694.1 224.1 694.8 226.5 696.2 223.9 696.9 224.2 697.6 226.5 698.9 224.0 699.6 224.2 700.3 226.6 701.7 223.9 702.3 224.2 703.0 226.7 704.4 223.9 705.1 224.2 705.8 226.7 706.4 225.2 707.1 223.9 707.8 224.2 708.5 226.9 709.2 225.1 709.9 223.9 710.5 224.2 711.2 226.9 711.9 225.1 712.6 224.0 713.3 224.2 714.0 227.0 714.6 225.1 715.3 223.9 716.0 224.2 716.7 227.0 717.4 225.1 718.1 223.9 718.7 224.3 719.4 227.2 720.1 225.1 720.8 223.9 721.5 224.3 722.2 227.2 722.8 225.0 723.5 223.9 724.2 224.3 724.9 227.4 725.6 225.0 726.3 223.9 726.9 224.3 727.6 227.4 728.3 225.0 729.0 223.9 729.7 224.3 730.4 227.5 731.0 225.0 731.7 223.9 732.4 224.3 733.1 227.6 733.8 225.0 734.5 223.9 735.2 224.3 735.8 227.7 736.5 224.9 737.2 223.9 737.9 224.4 738.6 227.9 739.3 224.9 739.9 223.9 740.6 224.4 741.3 228.0 742.0 224.9 742.7 223.9 743.4 224.4 744.0 228.1 744.7 224.9 745.4 223.9 746.1 224.4 746.8 228.2 747.5 224.9 748.1 223.9 748.8 224.4 749.5 228.4 750.2 224.8 750.9 223.9 751.6 224.4 752.2 228.6 752.9 224.8 753.6 223.9 754.3 224.4 755.0 228.7 755.7 224.8 756.3 223.9 757.0 224.5 757.7 229.0 758.4 224.8 759.1 223.9 759.8 224.5 760.4 229.1 761.1 224.8 761.8 223.9 762.5 224.5 763.2 229.5 763.9 224.7 764.5 223.9 765.2 224.5 765.9 229.7 766.6 224.7 767.3 223.9 768.0 224.5 768.6 230.0 769.3 224.7 770.0 223.9 770.7 224.5 771.4 230.6 772.1 224.7 772.7 223.9 773.4 224.5 774.1 230.8 774.8 224.7 775.5 223.9 776.2 224.6 776.8 231.4 777.5 224.7 778.2 223.9 778.9 224.6 779.6 232.9 780.3 224.6 780.9 223.9 781.6 224.6 782.3 234.8 783.0 224.6 783.7 223.9 783.7 223.9" stroke="#2ca02c" stroke-width="2.08" fill="none" stroke-linecap="square" stroke-linejoin="round" clip-path="url(#c2)"/>
<path d="M84.5 269.5V319.5M154.5 269.5V319.5M224.5 269.5V319.5M294.5 269.5V319.5M364.5 269.5V319.5M434.5 269.5V319.5M504.5 269.5V319.5M574.5 269.5V319.5M644.5 269.5V319.5M714.5 269.5V319.5M784.5 269.5V319.5M49.5 319.5H819.5M49.5 305.5H819.5M49.5 292.5H819.5M49.5 278.5H819.5" stroke="#b0b0b0" stroke-width="1.11" fill="none" stroke-linecap="square" clip-path="url(#c3)"/>
<path d="M84.5 319.5v4.86M154.5 319.5v4.86M224.5 319.5v4.86M294.5 319.5v4.86M364.5 319.5v4.86M434.5 319.5v4.86M504.5 319.5v4.86M574.5 319.5v4.86M644.5 319.5v4.86M714.5 319.5v4.86M784.5 319.5v4.86M49.5 319.5h-4.86M49.5 305.5h-4.86M49.5 292.5h-4.86M49.5 278.5h-4.86" stroke="#000" stroke-width="1.11" fill="none"/>
<path d="M49.5 269.5H819.5V319.5H49.5Z" stroke="#000" stroke-width="1.11" fill="none" stroke-linecap="square"/>
<path d="M859.5 309.5L947.5 309.5Q949.5 309.5 949.5 307.5L949.5 292.5Q949.5 290.5 947.5 290.5L859.5 290.5Q857.5 290.5 857.5 292.5L857.5 307.5Q857.5 309.5 859.5 309.5Z" fill="#fff" fill-opacity="0.8" stroke="#ccc" stroke-width="1.39"/>
<path d="M83.9 310.7 84.6 297.7 85.2 295.3 85.9 294.2 86.6 293.9 87.3 294.2 88.0 295.3 88.7 297.7 89.3 313.0 90.0 297.7 90.7 295.3 91.4 294.2 92.1 293.9 92.8 294.2 93.4 295.3 94.1 297.7 94.8 308.4 95.5 297.7 96.2 295.2 96.9 294.2 97.5 293.9 98.2 294.2 98.9 295.3 99.6 297.7 100.3 305.7 101.0 297.7 101.6 295.2 102.3 294.2 103.0 293.9 103.7 294.2 104.4 295.3 105.1 297.8 105.7 304.1 106.4 297.7 107.1 295.2 107.8 294.2 108.5 293.9 109.2 294.2 109.8 295.3 110.5 297.8 111.2 303.1 111.9 297.8 112.6 295.2 113.3 294.2 113.9 293.9 114.6 294.2 115.3 295.3 116.0 297.9 116.7 302.4 117.4 297.8 118.0 295.2 118.7 294.2 119.4 293.8 120.1 294.2 120.8 295.3 121.5 297.9 122.1 301.8 122.8 297.8 123.5 295.2 124.2 294.1 124.9 293.8 125.6 294.2 126.2 295.3 127.6 301.2 128.3 297.9 129.0 295.2 129.7 294.1 130.3 293.8 131.0 294.2 131.7 295.3 133.1 300.7 134.4 295.2 135.1 294.1 135.8 293.8 136.5 294.1 137.2 295.3 137.9 298.2 138.5 300.2 139.2 298.1 139.9 295.2 140.6 294.1 141.3 293.8 142.0 294.1 142.6 295.3 143.3 298.4 144.0 299.8 144.7 298.1 145.4 295.2 146.1 294.1 146.7 293.8 147.4 294.1 148.1 295.3 148.8 298.5 149.5 299.4 150.2 298.3 150.8 295.2 151.5 294.1 152.2 293.7 152.9 294.1 153.6 295.3 154.3 298.8 154.9 299.0 155.6 298.4 156.3 295.2 157.0 294.0 157.7 293.7 158.4 294.1 159.0 295.3 159.7 299.1 160.4 298.7 161.1 298.6 161.8 295.2 162.5 294.0 163.1 293.7 163.8 294.1 164.5 295.3 165.2 299.5 165.9 298.4 166.6 298.7 167.2 295.2 167.9 294.0 168.6 293.7 169.3 294.0 170.0 295.4 170.7 300.1 171.3 298.0 172.0 299.0 172.7 295.2 173.4 294.0 174.1 293.6 174.8 294.0 175.4 295.4 176.1 301.1 176.8 297.7 177.5 299.3 178.2 295.1 178.9 293.9 179.5 293.6 180.2 294.0 180.9 295.4 181.6 303.7 182.3 297.5 183.0 299.6 183.6 295.1 184.3 293.9 185.0 293.6 185.7 294.0 186.4 295.4 187.1 302.4 187.7 297.2 188.4 300.1 189.1 295.1 189.8 293.8 190.5 293.5 191.2 293.9 191.8 295.5 192.5 300.3 193.2 296.9 193.9 300.9 194.6 295.1 195.3 293.8 196.0 293.5 196.6 293.9 197.3 295.5 198.0 299.2 198.7 296.7 199.4 302.3 200.1 295.0 200.7 293.7 201.4 293.4 202.1 293.9 202.8 295.6 203.5 298.5 204.2 296.4 204.8 306.1 205.5 295.0 206.2 293.7 206.9 293.4 207.6 293.9 208.3 295.6 208.9 297.8 209.6 296.1 210.3 301.7 211.0 294.9 211.7 293.6 212.4 293.3 213.0 293.8 214.4 297.3 215.1 295.9 215.8 300.2 216.5 294.9 217.1 293.5 217.8 293.2 218.5 293.8 219.2 295.8 219.9 296.8 220.6 295.6 221.2 299.4 221.9 294.8 222.6 293.4 223.3 293.1 224.0 293.7 224.7 295.9 225.3 296.3 226.0 295.3 226.7 298.7 227.4 294.7 228.1 293.3 228.8 293.1 229.4 293.7 230.1 296.1 230.8 295.9 231.5 295.1 232.2 298.2 232.9 294.6 233.5 293.2 234.2 293.0 234.9 293.6 235.6 296.3 237.0 294.8 237.6 297.7 238.3 294.5 239.0 293.1 239.7 292.8 240.4 293.6 241.1 296.7 241.7 295.1 242.4 294.5 243.1 297.3 243.8 294.4 244.5 292.9 245.2 292.7 245.8 293.5 246.5 297.3 247.2 294.6 247.9 294.2 248.6 296.9 249.3 294.2 249.9 292.8 250.6 292.6 251.3 293.4 252.0 298.4 252.7 294.2 253.4 293.9 254.0 296.5 254.7 294.0 255.4 292.6 256.1 292.4 256.8 293.4 257.5 303.5 258.1 293.8 258.8 293.5 259.5 296.1 260.2 293.7 260.9 292.3 261.6 292.2 262.2 293.3 262.9 297.6 263.6 293.3 264.3 293.1 265.0 295.7 265.7 293.4 266.3 292.1 267.0 292.0 267.7 293.2 268.4 295.9 269.1 292.8 269.8 292.7 270.4 295.4 271.1 293.1 271.8 291.7 272.5 291.7 273.2 293.0 273.9 294.7 274.5 292.3 275.2 292.3 275.9 295.0 276.6 292.7 277.3 291.4 278.0 291.4 278.6 292.9 279.3 293.9 280.0 291.8 280.7 291.8 281.4 294.4 282.1 292.4 282.7 291.1 283.4 291.1 284.1 292.4 284.8 295.8 285.5 292.5 286.2 292.2 286.8 292.1 288.2 290.4 288.9 292.7 289.6 287.8 290.3 285.1 290.9 283.3 291.6 282.0 292.3 280.9 293.0 280.1 294.4 278.9 295.7 278.3 297.1 278.0 299.1 278.0 360.6 278.1 362.0 278.4 363.4 279.0 364.1 279.6 364.7 280.2 365.4 281.1 366.1 282.2 366.8 283.6 367.5 285.6 368.2 288.7 368.8 291.1 369.5 290.3 370.9 291.8 371.6 291.8 372.3 292.3 372.9 295.8 373.6 292.4 374.3 291.3 375.0 291.5 375.7 293.9 377.1 291.4 377.7 291.6 378.4 294.0 379.8 291.6 380.5 291.8 381.2 294.3 382.5 291.8 383.2 292.0 383.9 294.6 384.6 293.1 385.3 292.0 385.9 292.3 386.6 295.0 387.3 293.3 388.0 292.1 388.7 292.5 389.4 295.4 390.0 293.4 390.7 292.3 391.4 292.7 392.1 295.8 392.8 293.5 393.5 292.5 394.1 292.9 394.8 296.2 395.5 293.6 396.2 292.6 396.9 293.1 397.6 296.6 398.2 293.7 398.9 292.8 399.6 293.2 400.3 297.1 401.0 293.8 401.7 292.9 402.3 293.4 403.0 297.6 403.7 293.9 404.4 293.0 405.1 293.6 405.8 298.1 406.4 293.9 407.1 293.1 407.8 293.7 408.5 298.7 409.2 294.0 409.9 293.2 410.5 293.8 411.2 299.4 411.9 294.1 412.6 293.3 413.3 294.0 414.0 300.4 414.6 294.1 415.3 293.4 416.0 294.1 416.7 302.0 417.4 294.2 418.1 293.5 418.7 294.2 419.4 306.4 420.1 294.3 420.8 293.6 421.5 294.3 422.2 301.9 422.8 294.3 423.5 293.7 424.2 294.4 424.9 300.8 425.6 294.4 426.3 293.8 426.9 294.6 427.6 300.1 428.3 294.4 429.0 293.8 429.7 294.7 430.4 299.6 431.0 294.5 431.7 293.9 432.4 294.8 433.1 299.3 433.8 294.5 434.5 294.0 435.1 294.8 435.8 299.1 436.5 294.6 437.2 294.1 437.9 294.9 438.6 298.8 439.2 294.6 439.9 294.1 440.6 295.0 441.3 298.7 442.0 294.7 442.7 294.2 443.3 295.1 444.0 298.6 444.7 294.7 445.4 294.2 446.1 295.2 446.8 298.4 447.4 294.7 448.1 294.3 448.8 295.3 449.5 298.4 450.2 294.8 450.9 294.4 451.5 295.4 452.2 298.2 452.9 294.8 453.6 294.4 454.3 295.4 455.0 298.2 455.6 294.9 456.3 294.5 457.0 295.5 457.7 298.1 458.4 294.9 459.1 294.5 459.7 295.6 460.4 298.0 461.1 294.9 461.8 294.6 462.5 295.7 463.2 298.0 463.8 295.0 464.5 294.6 465.2 295.7 465.9 297.9 466.6 295.0 467.3 294.7 467.9 295.8 468.6 297.9 469.3 295.0 470.0 294.7 470.7 295.9 471.4 297.9 472.0 295.1 472.7 294.8 473.4 295.9 474.1 297.8 474.8 295.1 475.5 294.8 476.1 296.0 476.8 297.8 477.5 295.1 478.2 294.8 478.9 296.1 479.6 297.8 480.2 295.1 480.9 294.9 481.6 296.1 482.3 297.7 483.0 295.2 483.7 294.9 484.3 296.2 485.0 297.7 485.7 295.2 486.4 295.0 487.8 297.7 488.4 295.2 489.1 295.0 490.5 297.7 491.2 295.3 491.9 295.0 493.2 297.7 493.9 295.3 494.6 295.1 496.0 297.6 496.6 295.3 497.3 295.1 498.7 297.6 499.4 295.3 500.1 295.1 500.7 296.5 501.4 297.6 502.1 295.4 502.8 295.2 503.5 296.6 504.2 297.6 504.8 295.4 505.5 295.2 506.2 296.6 506.9 297.6 507.6 295.4 508.3 295.2 508.9 296.7 509.6 297.6 510.3 295.4 511.0 295.3 511.7 296.7 512.4 297.6 513.0 295.4 513.7 295.3 514.4 296.8 515.1 297.6 515.8 295.5 516.5 295.3 517.1 296.8 517.8 297.5 518.5 295.5 519.2 295.4 519.9 296.9 520.6 297.5 521.2 295.5 521.9 295.4 522.6 296.9 523.3 297.5 524.0 295.5 524.7 295.4 525.3 297.0 526.0 297.5 526.7 295.5 527.4 295.5 528.1 297.0 528.8 297.5 529.4 295.6 530.1 295.5 530.8 297.1 531.5 297.5 532.2 295.6 532.9 295.5 533.5 297.1 534.2 297.5 534.9 295.6 535.6 295.5 536.3 297.2 537.0 297.5 537.6 295.6 538.3 295.6 539.0 297.2 539.7 297.5 540.4 295.6 541.1 295.6 541.7 297.3 542.4 297.5 543.1 295.7 543.8 295.6 544.5 297.3 545.2 297.5 545.8 295.7 546.5 295.6 547.2 297.4 547.9 297.5 548.6 295.7 549.3 295.7 549.9 297.4 550.6 297.4 551.3 295.7 552.0 295.7 552.7 297.5 553.4 297.5 554.1 295.7 554.7 295.7 555.4 297.5 556.1 297.4 556.8 295.7 557.5 295.7 558.2 297.5 558.8 297.4 559.5 295.7 560.2 295.8 560.9 297.6 561.6 297.4 562.3 295.8 562.9 295.8 563.6 297.7 564.3 297.4 565.0 295.8 565.7 295.8 566.4 297.7 567.0 297.4 567.7 295.8 568.4 295.8 569.1 297.7 569.8 297.4 570.5 295.8 571.1 295.9 571.8 297.8 572.5 297.4 573.2 295.8 573.9 295.9 574.6 297.8 575.2 297.4 575.9 295.8 576.6 295.9 577.3 297.9 578.0 297.4 578.7 295.8 579.3 295.9 580.0 297.9 580.7 297.4 581.4 295.9 582.1 296.0 582.8 298.0 583.4 297.4 584.1 295.9 584.8 296.0 585.5 298.0 586.2 297.4 586.9 295.9 587.5 296.0 588.2 298.0 588.9 297.4 589.6 295.9 590.3 296.0 591.0 298.1 591.6 297.4 592.3 295.9 593.0 296.0 593.7 298.1 594.4 297.4 595.1 295.9 595.7 296.0 596.4 298.2 597.1 297.4 597.8 295.9 598.5 296.1 599.2 298.2 599.8 297.4 600.5 295.9 601.2 296.1 601.9 298.3 602.6 297.4 603.3 295.9 603.9 296.1 604.6 298.3 605.3 297.4 606.0 296.0 606.7 296.1 607.4 298.3 608.0 297.4 608.7 296.0 609.4 296.1 610.1 298.4 610.8 297.3 611.5 296.0 612.1 296.2 612.8 298.4 613.5 297.3 614.2 296.0 614.9 296.2 615.6 298.5 616.9 296.0 617.6 296.2 618.3 298.6 619.7 296.0 620.3 296.2 621.0 298.6 622.4 296.0 623.1 296.2 623.8 298.6 625.1 296.0 625.8 296.2 626.5 298.7 627.9 296.0 628.5 296.3 629.2 298.7 630.6 296.0 631.3 296.3 632.0 298.8 633.3 296.0 634.0 296.3 634.7 298.8 635.4 297.3 636.1 296.0 636.7 296.3 637.4 298.8 638.1 297.3 638.8 296.1 639.5 296.3 640.2 298.9 640.8 297.3 641.5 296.1 642.2 296.3 642.9 299.0 643.6 297.3 644.3 296.1 644.9 296.3 645.6 299.0 646.3 297.3 647.0 296.1 647.7 296.4 648.4 299.1 649.0 297.3 649.7 296.1 650.4 296.4 651.1 299.1 651.8 297.3 652.5 296.1 653.1 296.4 653.8 299.2 654.5 297.3 655.2 296.1 655.9 296.4 656.6 299.2 657.2 297.3 657.9 296.1 658.6 296.4 659.3 299.3 660.0 297.3 660.7 296.1 661.3 296.4 662.0 299.3 662.7 297.2 663.4 296.1 664.1 296.5 664.8 299.4 665.4 297.2 666.1 296.1 666.8 296.5 667.5 299.4 668.2 297.2 668.9 296.1 669.5 296.5 670.2 299.5 670.9 297.2 671.6 296.1 672.3 296.5 673.0 299.5 673.6 297.2 674.3 296.1 675.0 296.5 675.7 299.6 676.4 297.2 677.1 296.2 677.7 296.5 678.4 299.6 679.1 297.2 679.8 296.2 680.5 296.5 681.2 299.7 681.8 297.2 682.5 296.2 683.2 296.5 683.9 299.8 684.6 297.2 685.3 296.2 685.9 296.6 686.6 299.8 687.3 297.2 688.0 296.2 688.7 296.6 689.4 299.9 690.0 297.2 690.7 296.2 691.4 296.6 692.1 300.0 692.8 297.2 693.5 296.2 694.1 296.6 694.8 300.1 695.5 297.2 696.2 296.2 696.9 296.6 697.6 300.1 698.2 297.2 698.9 296.2 699.6 296.6 700.3 300.1 701.0 297.2 701.7 296.2 702.3 296.6 703.0 300.2 703.7 297.2 704.4 296.2 705.1 296.6 705.8 300.3 706.4 297.1 707.1 296.2 707.8 296.7 708.5 300.3 709.2 297.2 709.9 296.2 710.5 296.7 711.2 300.5 711.9 297.1 712.6 296.2 713.3 296.7 714.0 300.5 714.6 297.1 715.3 296.2 716.0 296.7 716.7 300.6 717.4 297.1 718.1 296.2 718.7 296.7 719.4 300.7 720.1 297.1 720.8 296.2 721.5 296.7 722.2 300.9 722.8 297.1 723.5 296.2 724.2 296.7 724.9 300.8 725.6 297.1 726.3 296.2 726.9 296.7 727.6 301.1 728.3 297.1 729.0 296.2 729.7 296.7 730.4 301.1 731.0 297.1 731.7 296.2 732.4 296.8 733.1 301.2 733.8 297.1 734.5 296.2 735.2 296.8 735.8 301.3 736.5 297.1 737.2 296.2 737.9 296.8 738.6 301.4 739.3 297.1 739.9 296.2 740.6 296.8 741.3 301.6 742.0 297.1 742.7 296.2 743.4 296.8 744.0 301.7 744.7 297.1 745.4 296.2 746.1 296.8 746.8 301.8 747.5 297.1 748.1 296.2 748.8 296.8 749.5 302.1 750.2 297.0 750.9 296.2 751.6 296.8 752.2 302.1 752.9 297.0 753.6 296.2 754.3 296.8 755.0 302.3 755.7 297.0 756.3 296.2 757.0 296.9 757.7 302.6 758.4 297.0 759.1 296.2 759.8 296.9 760.4 302.7 761.1 297.0 761.8 296.2 762.5 296.9 763.2 303.0 763.9 297.0 764.5 296.2 765.2 296.9 765.9 303.2 766.6 297.0 767.3 296.3 768.0 296.9 768.6 303.7 769.3 297.0 770.0 296.2 770.7 296.9 771.4 303.9 772.1 297.0 772.7 296.3 773.4 296.9 774.1 304.8 774.8 297.0 775.5 296.2 776.2 296.9 776.8 305.1 777.5 297.0 778.2 296.3 778.9 296.9 779.6 306.2 780.3 297.0 780.9 296.3 781.6 296.9 782.3 309.8 783.0 296.9 783.7 296.2 783.7 296.2" stroke="#d62728" stroke-width="2.08" fill="none" stroke-linecap="square" stroke-linejoin="round" clip-path="url(#c3)"/>
<path d="M84.5 341.5V391.5M154.5 341.5V391.5M224.5 341.5V391.5M294.5 341.5V391.5M364.5 341.5V391.5M434.5 341.5V391.5M504.5 341.5V391.5M574.5 341.5V391.5M644.5 341.5V391.5M714.5 341.5V391.5M784.5 341.5V391.5M49.5 391.5H819.5M49.5 378.5H819.5M49.5 364.5H819.5M49.5 350.5H819.5" stroke="#b0b0b0" stroke-width="1.11" fill="none" stroke-linecap="square" clip-path="url(#c4)"/>
<path d="M84.5 391.5v4.86M154.5 391.5v4.86M224.5 391.5v4.86M294.5 391.5v4.86M364.5 391.5v4.86M434.5 391.5v4.86M504.5 391.5v4.86M574.5 391.5v4.86M644.5 391.5v4.86M714.5 391.5v4.86M784.5 391.5v4.86M49.5 391.5h-4.86M49.5 378.5h-4.86M49.5 364.5h-4.86M49.5 350.5h-4.86" stroke="#000" stroke-width="1.11" fill="none"/>
<path d="M49.5 341.5H819.5V391.5H49.5Z" stroke="#000" stroke-width="1.11" fill="none" stroke-linecap="square"/>
<path d="M859.5 381.5L947.5 381.5Q949.5 381.5 949.5 379.5L949.5 365.5Q949.5 362.5 947.5 362.5L859.5 362.5Q857.5 362.5 857.5 365.5L857.5 379.5Q857.5 381.5 859.5 381.5Z" fill="#fff" fill-opacity="0.8" stroke="#ccc" stroke-width="1.39"/>
<path d="M83.9 382.8 84.6 370.1 85.2 367.7 85.9 366.6 86.6 366.3 87.3 366.6 88.0 367.7 88.7 370.2 89.3 379.6 90.0 370.0 90.7 367.6 91.4 366.6 92.1 366.3 92.8 366.7 93.4 367.8 94.1 370.4 94.8 377.9 95.5 369.9 96.2 367.6 96.9 366.6 97.5 366.3 98.2 366.7 98.9 367.8 99.6 370.5 100.3 379.4 101.0 369.8 101.6 367.6 102.3 366.6 103.0 366.3 103.7 366.7 104.4 367.9 105.1 370.6 105.7 380.6 106.4 369.7 107.1 367.5 107.8 366.5 108.5 366.3 109.2 366.7 109.8 367.9 110.5 370.8 111.2 379.3 111.9 369.7 112.6 367.5 113.3 366.5 113.9 366.3 114.6 366.7 115.3 368.0 116.0 370.9 116.7 379.2 117.4 369.6 118.0 367.4 118.7 366.5 119.4 366.3 120.1 366.8 120.8 368.0 121.5 371.1 122.1 377.7 122.8 369.5 123.5 367.4 124.2 366.5 124.9 366.3 125.6 366.8 126.2 368.1 126.9 371.3 127.6 377.2 128.3 369.4 129.0 367.4 129.7 366.5 130.3 366.3 131.0 366.8 131.7 368.1 132.4 371.5 133.1 377.4 133.8 369.3 134.4 367.3 135.1 366.5 135.8 366.3 136.5 366.8 137.2 368.2 137.9 371.8 138.5 376.9 139.2 369.3 139.9 367.3 140.6 366.4 141.3 366.3 142.0 366.8 142.6 368.3 144.0 376.6 144.7 369.2 145.4 367.2 146.1 366.4 146.7 366.3 147.4 366.9 148.1 368.3 149.5 376.6 150.2 369.1 150.8 367.2 151.5 366.4 152.2 366.3 152.9 366.9 153.6 368.4 154.3 373.0 154.9 376.2 155.6 369.1 156.3 367.2 157.0 366.4 157.7 366.3 158.4 366.9 159.0 368.5 159.7 373.7 160.4 375.9 161.1 369.0 161.8 367.1 162.5 366.4 163.1 366.3 163.8 366.9 164.5 368.6 165.2 374.9 165.9 375.5 166.6 368.9 167.2 367.1 167.9 366.3 168.6 366.3 169.3 367.0 170.0 368.6 170.7 377.7 171.3 375.5 172.0 368.9 172.7 367.0 173.4 366.3 174.1 366.3 174.8 367.0 175.4 368.7 176.1 376.2 176.8 375.5 177.5 368.8 178.2 367.0 178.9 366.3 179.5 366.3 180.2 367.0 180.9 368.8 181.6 374.2 182.3 375.2 183.0 368.7 183.6 366.9 184.3 366.3 185.0 366.3 185.7 367.0 186.4 369.0 187.1 373.1 187.7 374.8 188.4 368.7 189.1 366.9 189.8 366.2 190.5 366.3 191.2 367.1 191.8 369.1 192.5 372.5 193.2 374.6 193.9 368.6 194.6 366.9 195.3 366.2 196.0 366.3 196.6 367.1 197.3 369.2 198.7 374.4 199.4 368.5 200.1 366.8 200.7 366.2 201.4 366.3 202.1 367.1 204.2 374.2 204.8 368.4 205.5 366.8 206.2 366.2 206.9 366.3 207.6 367.2 208.3 369.6 208.9 371.2 209.6 374.1 210.3 368.4 211.0 366.7 211.7 366.1 212.4 366.3 213.0 367.2 213.7 369.8 214.4 370.8 215.1 373.9 215.8 368.3 216.5 366.7 217.1 366.1 217.8 366.3 218.5 367.3 219.2 370.1 219.9 370.6 220.6 373.8 221.2 368.2 221.9 366.6 222.6 366.1 223.3 366.3 224.0 367.3 224.7 370.4 225.3 370.3 226.0 373.8 226.7 368.1 227.4 366.6 228.1 366.0 228.8 366.3 229.4 367.3 230.1 370.8 230.8 370.1 231.5 373.7 232.2 368.1 232.9 366.5 233.5 366.0 234.2 366.3 234.9 367.4 235.6 371.3 236.3 369.8 237.0 373.5 237.6 368.0 238.3 366.5 239.0 366.0 239.7 366.3 240.4 367.5 241.1 372.2 241.7 369.6 242.4 373.4 243.1 367.9 243.8 366.4 244.5 366.0 245.2 366.3 245.8 367.5 246.5 373.9 247.2 369.4 247.9 373.3 248.6 367.8 249.3 366.3 249.9 365.9 250.6 366.3 251.3 367.6 252.0 375.4 252.7 369.2 253.4 373.3 254.0 367.7 254.7 366.3 255.4 365.9 256.1 366.3 256.8 367.7 257.5 372.5 258.1 369.0 258.8 373.2 259.5 367.6 260.2 366.2 260.9 365.8 261.6 366.3 262.2 367.8 262.9 371.2 263.6 368.8 264.3 373.2 265.0 367.5 265.7 366.1 266.3 365.8 267.0 366.3 267.7 368.0 268.4 370.4 269.1 368.6 269.8 373.3 270.4 367.4 271.1 366.0 271.8 365.7 272.5 366.3 273.9 369.8 274.5 368.4 275.2 373.4 275.9 367.3 276.6 366.0 277.3 365.7 278.0 366.3 278.6 368.3 279.3 369.3 280.0 368.2 280.7 373.5 281.4 367.2 282.1 365.9 282.7 365.6 283.4 366.3 284.1 368.6 284.8 368.8 285.5 368.0 286.2 373.7 286.8 367.0 287.5 365.8 288.2 365.6 288.9 366.3 289.6 368.9 290.9 367.8 291.6 374.3 292.3 366.9 293.0 365.7 293.7 365.5 294.4 366.3 295.0 369.4 295.7 368.0 296.4 367.6 297.1 375.2 297.8 366.7 298.5 365.6 299.1 365.4 299.8 366.3 300.5 370.1 301.2 367.6 301.9 367.4 302.6 380.3 303.2 366.5 303.9 365.4 304.6 365.4 305.3 366.3 306.0 371.7 306.7 367.3 307.3 367.2 308.0 374.6 308.7 366.3 309.4 365.3 310.1 365.3 310.8 366.4 311.4 372.9 312.1 366.9 312.8 367.0 313.5 373.0 314.2 366.1 314.9 365.1 315.5 365.2 316.2 366.4 316.9 370.0 317.6 366.5 318.3 366.7 319.0 371.8 319.6 365.9 320.3 365.0 321.0 365.1 321.7 366.5 322.4 368.6 323.1 366.1 323.7 366.5 324.4 370.8 325.1 365.6 325.8 364.7 326.5 365.0 327.2 366.6 327.8 367.6 328.5 365.8 329.2 366.2 329.9 369.9 330.6 365.3 331.3 364.5 331.9 364.8 332.6 366.8 333.3 366.8 334.0 365.3 334.7 365.9 335.4 369.0 336.0 365.0 336.7 364.2 337.4 364.6 338.1 367.1 339.5 364.9 340.1 365.6 340.8 368.2 341.5 364.6 342.2 363.9 342.9 364.4 343.6 367.6 344.2 365.3 344.9 364.4 345.6 365.2 346.3 367.4 347.0 364.1 347.7 363.6 348.3 364.2 349.0 368.4 349.7 364.7 350.4 363.9 351.1 364.8 351.8 367.2 352.4 363.9 353.1 363.3 353.8 363.9 354.5 366.5 355.2 365.7 355.9 364.5 356.5 364.3 357.2 363.7 357.9 362.8 358.6 363.0 359.3 361.9 360.0 358.3 360.6 356.2 361.3 354.7 362.0 353.6 362.7 352.7 363.4 352.0 364.7 351.0 366.1 350.5 367.5 350.3 370.2 350.2 430.4 350.3 431.7 350.5 433.1 351.1 433.8 351.6 434.5 352.2 435.1 353.0 435.8 354.0 436.5 355.3 437.2 357.0 437.9 359.5 438.6 377.9 439.2 362.4 439.9 362.9 440.6 363.9 441.3 364.2 442.0 364.5 442.7 366.0 443.3 366.0 444.0 364.0 444.7 363.7 445.4 364.9 446.1 366.8 446.8 364.1 447.4 363.8 448.1 365.0 448.8 367.0 449.5 364.3 450.2 364.0 450.9 365.3 451.5 367.1 452.2 364.5 452.9 364.3 454.3 367.1 455.0 364.7 455.6 364.5 457.0 367.1 457.7 364.9 458.4 364.7 459.1 366.2 459.7 367.2 460.4 365.0 461.1 364.9 461.8 366.5 462.5 367.2 463.2 365.2 463.8 365.1 464.5 366.8 465.2 367.2 465.9 365.3 466.6 365.3 467.3 367.1 467.9 367.3 468.6 365.5 469.3 365.5 470.0 367.3 470.7 367.3 471.4 365.6 472.0 365.7 472.7 367.6 473.4 367.3 474.1 365.8 474.8 365.9 475.5 367.9 476.1 367.4 476.8 365.9 477.5 366.0 478.2 368.2 478.9 367.4 479.6 366.0 480.2 366.2 480.9 368.5 481.6 367.5 482.3 366.1 483.0 366.3 483.7 368.7 485.0 366.2 485.7 366.5 486.4 369.0 487.8 366.3 488.4 366.6 489.1 369.3 489.8 367.6 490.5 366.4 491.2 366.8 491.9 369.6 492.5 367.6 493.2 366.5 493.9 366.9 494.6 370.0 495.3 367.7 496.0 366.6 496.6 367.0 497.3 370.3 498.0 367.7 498.7 366.7 499.4 367.2 500.1 370.6 500.7 367.8 501.4 366.8 502.1 367.3 502.8 371.0 503.5 367.8 504.2 366.9 504.8 367.4 505.5 371.5 506.2 367.9 506.9 367.0 507.6 367.5 508.3 372.0 508.9 367.9 509.6 367.1 510.3 367.6 511.0 372.6 511.7 367.9 512.4 367.2 513.0 367.8 513.7 373.4 514.4 368.0 515.1 367.2 515.8 367.9 516.5 374.5 517.1 368.0 517.8 367.3 518.5 368.0 519.2 376.9 519.9 368.1 520.6 367.4 521.2 368.1 521.9 376.5 522.6 368.1 523.3 367.5 524.0 368.2 524.7 374.7 525.3 368.1 526.0 367.5 526.7 368.3 527.4 373.7 528.1 368.2 528.8 367.6 529.4 368.4 530.1 373.2 530.8 368.2 531.5 367.7 532.2 368.5 532.9 372.8 533.5 368.3 534.2 367.8 534.9 368.7 535.6 372.4 536.3 368.3 537.0 367.8 537.6 368.8 538.3 372.2 539.0 368.4 539.7 367.9 540.4 368.9 541.1 372.0 541.7 368.4 542.4 368.0 543.1 369.0 543.8 371.8 544.5 368.4 545.2 368.0 545.8 369.1 546.5 371.6 547.2 368.5 547.9 368.1 548.6 369.2 549.3 371.5 549.9 368.5 550.6 368.2 551.3 369.3 552.0 371.4 552.7 368.5 553.4 368.2 554.1 369.4 554.7 371.3 555.4 368.6 556.1 368.3 556.8 369.5 557.5 371.2 558.2 368.6 558.8 368.4 559.5 369.6 560.2 371.2 560.9 368.7 561.6 368.4 562.9 371.1 563.6 368.7 564.3 368.5 565.7 371.0 566.4 368.7 567.0 368.6 567.7 370.0 568.4 371.0 569.1 368.8 569.8 368.6 570.5 370.1 571.1 370.9 571.8 368.8 572.5 368.7 573.2 370.2 573.9 370.9 574.6 368.9 575.2 368.8 575.9 370.3 576.6 370.9 577.3 368.9 578.0 368.8 578.7 370.4 579.3 370.8 580.0 368.9 580.7 368.9 581.4 370.6 582.1 370.8 582.8 369.0 583.4 369.0 584.1 370.7 584.8 370.8 585.5 369.0 586.2 369.0 586.9 370.8 587.5 370.8 588.2 369.1 588.9 369.1 589.6 370.9 590.3 370.7 591.0 369.1 591.6 369.2 592.3 371.1 593.0 370.7 593.7 369.1 594.4 369.2 595.1 371.2 595.7 370.7 596.4 369.2 597.1 369.3 597.8 371.3 598.5 370.7 599.2 369.2 599.8 369.4 600.5 371.5 601.2 370.7 601.9 369.3 602.6 369.4 603.3 371.6 603.9 370.7 604.6 369.3 605.3 369.5 606.0 371.8 606.7 370.7 607.4 369.3 608.0 369.6 608.7 371.9 610.1 369.4 610.8 369.6 611.5 372.2 612.1 370.6 612.8 369.4 613.5 369.7 614.2 372.3 614.9 370.7 615.6 369.5 616.2 369.8 616.9 372.5 617.6 370.7 618.3 369.5 619.0 369.8 619.7 372.7 620.3 370.6 621.0 369.5 621.7 369.9 622.4 372.9 623.1 370.7 623.8 369.6 624.4 370.0 625.1 373.1 625.8 370.7 626.5 369.6 627.2 370.0 627.9 373.4 628.5 370.7 629.2 369.7 629.9 370.1 630.6 373.7 631.3 370.7 632.0 369.7 632.6 370.2 633.3 374.0 634.0 370.7 634.7 369.8 635.4 370.3 636.1 374.4 636.7 370.7 637.4 369.8 638.1 370.3 638.8 374.8 639.5 370.7 640.2 369.8 640.8 370.4 641.5 375.0 642.2 370.7 642.9 369.9 643.6 370.5 644.3 376.3 644.9 370.7 645.6 369.9 646.3 370.6 647.0 377.2 647.7 370.7 648.4 370.0 649.0 370.7 649.7 379.0 650.4 370.7 651.1 370.0 651.8 370.7 652.5 382.9 653.1 370.8 653.8 370.1 654.5 370.8 655.2 377.1 655.9 370.7 656.6 370.1 657.2 370.9 657.9 376.4 658.6 370.8 659.3 370.2 660.0 371.0 660.7 375.9 661.3 370.8 662.0 370.2 662.7 371.1 663.4 375.1 664.1 370.8 664.8 370.3 665.4 371.2 666.1 374.9 666.8 370.8 667.5 370.3 668.2 371.3 668.9 374.5 669.5 370.8 670.2 370.4 670.9 371.4 671.6 374.4 672.3 370.9 673.0 370.5 673.6 371.5 674.3 373.9 675.0 370.8 675.7 370.5 676.4 371.6 677.1 374.0 677.7 370.9 678.4 370.6 679.1 371.7 679.8 373.7 680.5 370.9 681.2 370.6 681.8 371.8 682.5 373.6 683.2 370.9 683.9 370.7 685.3 373.4 685.9 370.9 686.6 370.7 688.0 373.3 688.7 371.0 689.4 370.8 690.0 372.2 690.7 373.3 691.4 371.0 692.1 370.9 692.8 372.3 693.5 373.1 694.1 371.0 694.8 370.9 695.5 372.5 696.2 373.0 696.9 371.0 697.6 371.0 698.2 372.6 698.9 372.9 699.6 371.1 700.3 371.1 701.0 372.8 701.7 372.9 702.3 371.1 703.0 371.1 703.7 373.0 704.4 372.8 705.1 371.1 705.8 371.2 706.4 373.2 707.1 372.7 707.8 371.1 708.5 371.2 709.2 373.3 709.9 372.7 710.5 371.2 711.2 371.4 711.9 373.6 712.6 372.6 713.3 371.2 714.0 371.4 714.6 373.9 716.0 371.2 716.7 371.5 717.4 374.0 718.7 371.3 719.4 371.6 720.1 374.6 720.8 372.4 721.5 371.3 722.2 371.7 722.8 374.9 723.5 372.3 724.2 371.3 724.9 371.7 725.6 375.0 726.3 372.4 726.9 371.4 727.6 371.9 728.3 375.9 729.0 372.3 729.7 371.4 730.4 372.0 731.0 377.0 731.7 372.2 732.4 371.4 733.1 372.0 733.8 377.3 734.5 372.3 735.2 371.5 735.8 372.2 736.5 386.8 737.2 372.2 737.9 371.6 738.6 372.3 739.3 378.1 739.9 372.2 740.6 371.6 741.3 372.4 742.0 376.9 742.7 372.2 743.4 371.7 744.0 372.6 744.7 375.8 745.4 372.1 746.1 371.7 746.8 372.7 747.5 375.5 748.1 372.1 748.8 371.8 749.5 372.9 750.2 375.0 750.9 372.1 751.6 371.8 752.2 373.1 752.9 374.6 753.6 372.1 754.3 371.9 755.7 374.4 756.3 372.1 757.0 371.9 757.7 373.5 758.4 374.0 759.1 372.0 759.8 372.0 760.4 373.6 761.1 373.9 761.8 372.1 762.5 372.1 763.2 373.9 763.9 373.7 764.5 372.0 765.2 372.1 765.9 374.1 766.6 373.5 767.3 372.0 768.0 372.2 768.6 374.5 769.3 373.4 770.0 372.0 770.7 372.3 771.4 375.0 772.1 373.2 772.7 372.0 773.4 372.3 774.1 375.4 774.8 373.1 775.5 372.0 776.2 372.4 776.8 376.0 777.5 373.0 778.2 372.0 778.9 372.5 779.6 377.2 780.3 372.8 780.9 372.0 781.6 372.6 782.3 378.9 783.0 372.7 783.7 372.0 783.7 372.0" stroke="#9467bd" stroke-width="2.08" fill="none" stroke-linecap="square" stroke-linejoin="round" clip-path="url(#c4)"/>
<path d="M84.5 413.5V464.5M154.5 413.5V464.5M224.5 413.5V464.5M294.5 413.5V464.5M364.5 413.5V464.5M434.5 413.5V464.5M504.5 413.5V464.5M574.5 413.5V464.5M644.5 413.5V464.5M714.5 413.5V464.5M784.5 413.5V464.5M49.5 464.5H819.5M49.5 450.5H819.5M49.5 436.5H819.5M49.5 423.5H819.5" stroke="#b0b0b0" stroke-width="1.11" fill="none" stroke-linecap="square" clip-path="url(#c5)"/>
<path d="M84.5 464.5v4.86M154.5 464.5v4.86M224.5 464.5v4.86M294.5 464.5v4.86M364.5 464.5v4.86M434.5 464.5v4.86M504.5 464.5v4.86M574.5 464.5v4.86M644.5 464.5v4.86M714.5 464.5v4.86M784.5 464.5v4.86M49.5 464.5h-4.86M49.5 450.5h-4.86M49.5 436.5h-4.86M49.5 423.5h-4.86" stroke="#000" stroke-width="1.11" fill="none"/>
<path d="M49.5 413.5H819.5V464.5H49.5Z" stroke="#000" stroke-width="1.11" fill="none" stroke-linecap="square"/>
<path d="M859.5 454.5L947.5 454.5Q949.5 454.5 949.5 451.5L949.5 437.5Q949.5 435.5 947.5 435.5L859.5 435.5Q857.5 435.5 857.5 437.5L857.5 451.5Q857.5 454.5 859.5 454.5Z" fill="#fff" fill-opacity="0.8" stroke="#ccc" stroke-width="1.39"/>
<path d="M83.9 453.8 84.6 446.7 85.2 444.2 85.9 443.2 86.6 442.9 87.3 443.3 88.0 444.4 88.7 447.2 89.3 454.5 90.0 446.2 90.7 444.0 91.4 443.1 92.1 442.9 92.8 443.3 93.4 444.6 94.1 447.8 94.8 452.6 95.5 445.8 96.2 443.8 96.9 443.0 97.5 442.9 98.2 443.4 98.9 444.9 99.6 448.5 100.3 450.7 101.0 445.4 101.6 443.7 102.3 442.9 103.0 442.9 103.7 443.5 104.4 445.2 105.1 450.2 105.7 450.3 106.4 445.2 107.1 443.5 107.8 442.9 108.5 442.9 109.2 443.6 109.8 445.5 110.5 453.4 111.2 449.8 111.9 444.9 112.6 443.4 113.3 442.8 113.9 442.9 114.6 443.8 115.3 446.0 116.0 449.2 116.7 449.8 117.4 444.8 118.0 443.3 118.7 442.8 119.4 443.0 120.1 443.9 120.8 446.6 121.5 448.1 122.1 449.1 122.8 444.5 123.5 443.1 124.2 442.7 124.9 443.0 125.6 444.1 126.2 447.3 126.9 447.4 127.6 448.7 128.3 444.3 129.0 443.0 129.7 442.7 130.3 443.0 131.0 444.2 131.7 448.8 132.4 446.9 133.1 448.6 133.8 444.2 134.4 443.0 135.1 442.6 135.8 443.1 136.5 444.5 137.2 452.7 137.9 446.5 138.5 447.9 139.2 444.0 139.9 442.8 140.6 442.5 141.3 443.0 142.0 444.6 142.6 449.3 143.3 446.4 144.0 447.4 144.7 443.8 145.4 442.7 146.1 442.5 146.7 443.1 148.1 447.1 148.8 445.9 149.5 447.4 150.2 443.7 150.8 442.6 151.5 442.5 152.2 443.2 152.9 445.3 153.6 446.5 154.3 445.7 154.9 446.9 155.6 443.5 156.3 442.5 157.0 442.4 157.7 443.2 158.4 445.6 159.0 446.0 159.7 445.6 160.4 446.5 161.1 443.4 161.8 442.4 162.5 442.4 163.1 443.2 163.8 446.0 164.5 445.6 165.2 445.5 165.9 446.2 166.6 443.2 167.2 442.3 167.9 442.4 168.6 443.3 169.3 446.7 170.0 445.1 170.7 445.3 171.3 446.1 172.0 443.1 172.7 442.3 173.4 442.3 174.1 443.4 174.8 448.1 175.4 444.7 176.1 445.1 176.8 445.9 177.5 443.0 178.2 442.2 178.9 442.3 179.5 443.4 180.2 451.0 180.9 444.5 181.6 445.0 182.3 445.6 183.0 442.9 183.6 442.1 184.3 442.3 185.0 443.5 185.7 448.7 186.4 444.2 187.1 444.9 187.7 445.3 188.4 442.7 189.1 442.0 189.8 442.2 190.5 443.6 191.2 447.6 191.8 444.1 192.5 444.9 193.2 445.0 193.9 442.6 194.6 441.9 195.3 442.2 196.0 443.7 196.6 446.4 197.3 443.9 198.0 444.7 198.7 444.9 199.4 442.5 200.1 441.9 200.7 442.2 202.1 445.6 202.8 443.6 203.5 444.6 204.2 444.7 204.8 442.4 205.5 441.8 206.2 442.2 206.9 444.0 207.6 445.2 208.3 443.5 208.9 444.6 209.6 444.5 210.3 442.3 211.0 441.8 211.7 442.2 212.4 444.2 213.0 444.7 213.7 443.3 214.4 444.5 215.1 444.3 215.8 442.2 216.5 441.7 217.1 442.1 217.8 444.3 218.5 444.4 219.2 443.2 219.9 444.5 220.6 444.1 221.2 442.1 221.9 441.6 222.6 442.2 223.3 444.7 224.0 443.9 224.7 443.0 225.3 444.3 226.0 444.0 226.7 442.0 227.4 441.6 228.1 442.2 228.8 444.9 229.4 443.7 230.1 442.8 230.8 444.3 231.5 443.8 232.2 441.9 232.9 441.5 233.5 442.1 234.2 445.3 234.9 443.5 235.6 442.7 236.3 444.4 237.0 443.5 237.6 441.7 238.3 441.4 239.0 442.1 239.7 445.5 240.4 443.3 241.1 442.6 241.7 444.3 242.4 443.4 243.1 441.6 243.8 441.3 244.5 442.1 245.2 446.3 245.8 443.0 246.5 442.5 247.2 444.3 247.9 443.2 248.6 441.5 249.3 441.3 249.9 442.1 250.6 446.9 251.3 442.8 252.0 442.4 252.7 444.4 254.0 441.4 254.7 441.2 255.4 442.1 256.1 449.1 256.8 442.6 257.5 442.3 258.1 444.4 259.5 441.3 260.2 441.1 260.9 442.1 261.6 448.9 262.2 442.4 262.9 442.2 263.6 444.4 265.0 441.2 265.7 441.1 266.3 442.1 267.0 446.8 267.7 442.2 268.4 442.1 269.1 444.4 269.8 442.5 270.4 441.1 271.1 441.0 271.8 442.1 272.5 445.7 273.2 442.1 273.9 441.9 274.5 444.5 275.2 442.4 275.9 441.0 276.6 440.9 277.3 442.2 278.0 445.0 278.6 441.9 279.3 441.9 280.0 444.6 280.7 442.2 281.4 440.9 282.1 440.9 282.7 442.2 283.4 444.4 284.1 441.7 284.8 441.7 285.5 444.7 286.2 442.0 286.8 440.8 287.5 440.8 288.2 442.2 288.9 444.0 289.6 441.6 290.3 441.6 290.9 444.9 291.6 441.9 292.3 440.7 293.0 440.8 293.7 442.3 294.4 443.5 295.0 441.4 295.7 441.5 296.4 445.0 297.1 441.7 297.8 440.6 298.5 440.7 299.1 442.3 299.8 443.1 300.5 441.2 301.2 441.4 301.9 445.2 302.6 441.5 303.2 440.5 303.9 440.6 304.6 442.4 305.3 442.8 306.0 441.1 306.7 441.3 307.3 445.6 308.0 441.4 308.7 440.3 309.4 440.6 310.1 442.5 310.8 442.5 311.4 440.9 312.1 441.3 312.8 446.1 313.5 441.2 314.2 440.2 314.9 440.5 315.5 442.6 316.2 442.2 316.9 440.8 317.6 441.2 318.3 447.0 319.0 441.0 319.6 440.1 320.3 440.4 321.0 442.7 321.7 441.9 322.4 440.6 323.1 441.1 323.7 448.8 324.4 440.9 325.1 440.0 325.8 440.4 326.5 442.9 327.8 440.4 328.5 441.0 329.2 449.4 329.9 440.7 330.6 439.9 331.3 440.3 331.9 443.1 332.6 441.3 333.3 440.3 334.0 440.9 334.7 446.6 335.4 440.5 336.0 439.7 336.7 440.2 337.4 443.4 338.1 441.1 338.8 440.1 339.5 440.8 340.1 445.3 340.8 440.3 341.5 439.6 342.2 440.1 342.9 443.7 343.6 440.8 344.2 440.0 344.9 440.7 345.6 444.4 346.3 440.1 347.0 439.5 347.7 440.1 348.3 444.4 349.0 440.6 349.7 439.8 350.4 440.6 351.1 443.7 351.8 439.9 352.4 439.3 353.1 440.0 353.8 445.6 354.5 440.3 355.2 439.6 355.9 440.5 356.5 443.2 357.2 439.7 357.9 439.2 358.6 439.9 359.3 453.0 360.0 440.0 360.6 439.4 361.3 440.4 362.0 442.6 362.7 439.5 363.4 439.0 364.1 439.9 364.7 445.2 365.4 439.8 366.1 439.2 366.8 440.3 367.5 442.1 368.2 439.3 368.8 438.9 369.5 439.8 370.2 443.7 370.9 439.5 371.6 439.0 372.3 440.2 372.9 441.6 373.6 439.0 374.3 438.7 375.0 439.7 375.7 442.6 376.4 439.2 377.1 438.8 377.7 440.1 378.4 441.1 379.1 438.8 379.8 438.5 380.5 439.6 381.2 441.8 381.8 438.9 382.5 438.6 383.2 440.0 383.9 440.7 384.6 438.5 385.3 438.3 385.9 439.5 386.6 441.1 387.3 438.6 388.0 438.4 388.7 439.9 389.4 440.2 390.0 438.2 390.7 438.1 391.4 439.5 392.1 440.5 392.8 438.2 393.5 438.1 394.1 439.8 394.8 439.7 395.5 437.9 396.2 437.8 396.9 439.4 397.6 439.8 398.2 437.9 398.9 437.8 399.6 439.7 400.3 439.2 401.0 437.5 401.7 437.6 402.3 439.3 403.0 439.2 403.7 437.5 404.4 437.5 405.1 439.6 405.8 438.6 406.4 437.2 407.1 437.2 407.8 439.3 408.5 438.6 409.2 437.0 409.9 437.2 410.5 439.6 411.9 436.7 412.6 436.9 413.3 439.2 414.6 436.6 415.3 436.8 416.0 439.5 416.7 437.5 417.4 436.3 418.1 436.5 418.7 439.1 419.4 437.3 420.1 436.1 420.8 436.4 421.5 439.2 422.2 437.2 422.8 436.0 423.5 436.2 424.2 438.1 424.9 438.4 425.6 436.8 426.3 436.6 426.9 436.2 427.6 435.2 428.3 434.7 429.0 444.3 429.7 431.7 430.4 429.3 431.0 427.6 431.7 426.3 432.4 425.3 433.1 424.5 434.5 423.4 435.8 422.8 437.2 422.6 439.2 422.5 500.7 422.6 502.1 423.0 503.5 423.7 504.2 424.2 504.8 424.9 505.5 425.9 506.2 427.0 506.9 428.5 507.6 430.6 508.3 434.3 508.9 435.1 509.6 434.9 510.3 435.7 511.0 436.2 511.7 436.4 512.4 437.3 513.0 440.4 513.7 436.5 514.4 435.8 515.1 436.5 515.8 442.5 516.5 436.7 517.1 435.9 517.8 436.6 518.5 442.2 519.2 436.8 519.9 436.1 520.6 436.8 521.2 443.9 521.9 437.0 522.6 436.3 523.3 437.1 524.0 445.8 524.7 437.1 525.3 436.5 526.0 437.3 526.7 442.9 527.4 437.3 528.1 436.7 528.8 437.6 529.4 442.0 530.1 437.4 530.8 436.9 531.5 437.8 532.2 441.4 532.9 437.5 533.5 437.1 534.2 438.1 534.9 441.0 535.6 437.6 536.3 437.2 537.0 438.3 537.6 440.8 538.3 437.7 539.0 437.4 539.7 438.6 540.4 440.6 541.1 437.8 541.7 437.5 542.4 438.8 543.1 440.4 543.8 437.9 544.5 437.7 545.8 440.3 546.5 438.0 547.2 437.8 547.9 439.2 548.6 440.2 549.3 438.0 549.9 437.9 550.6 439.4 551.3 440.2 552.0 438.1 552.7 438.0 553.4 439.6 554.1 440.1 554.7 438.2 555.4 438.2 556.1 439.8 556.8 440.1 557.5 438.3 558.2 438.3 558.8 440.0 559.5 440.0 560.2 438.3 560.9 438.4 561.6 440.2 562.3 440.0 562.9 438.4 563.6 438.5 564.3 440.4 565.0 440.0 565.7 438.4 566.4 438.6 567.0 440.7 567.7 439.9 568.4 438.5 569.1 438.6 569.8 440.9 570.5 439.9 571.1 438.5 571.8 438.7 572.5 441.1 573.9 438.6 574.6 438.8 575.2 441.3 576.6 438.6 577.3 438.9 578.0 441.5 578.7 439.9 579.3 438.7 580.0 439.0 580.7 441.8 581.4 439.9 582.1 438.7 582.8 439.1 583.4 442.0 584.1 439.9 584.8 438.8 585.5 439.2 586.2 442.3 586.9 439.9 587.5 438.8 588.2 439.2 588.9 442.6 589.6 439.9 590.3 438.9 591.0 439.3 591.6 442.9 592.3 439.9 593.0 438.9 593.7 439.4 594.4 443.2 595.1 439.9 595.7 438.9 596.4 439.4 597.1 443.6 597.8 439.8 598.5 439.0 599.2 439.5 599.8 444.1 600.5 439.8 601.2 439.0 601.9 439.6 602.6 444.6 603.3 439.8 603.9 439.1 604.6 439.7 605.3 445.3 606.0 439.8 606.7 439.1 607.4 439.7 608.0 446.5 608.7 439.8 609.4 439.1 610.1 439.8 610.8 448.1 611.5 439.9 612.1 439.2 612.8 439.9 613.5 449.2 614.2 439.9 614.9 439.2 615.6 439.9 616.2 446.6 616.9 439.8 617.6 439.2 618.3 440.0 619.0 445.7 619.7 439.9 620.3 439.3 621.0 440.1 621.7 445.0 622.4 439.9 623.1 439.3 623.8 440.1 624.4 444.6 625.1 439.9 625.8 439.3 626.5 440.2 627.2 444.2 627.9 439.9 628.5 439.3 629.2 440.2 629.9 443.9 630.6 439.9 631.3 439.4 632.0 440.3 632.6 443.7 633.3 439.9 634.0 439.4 634.7 440.4 635.4 443.4 636.1 439.9 636.7 439.4 637.4 440.4 638.1 443.3 638.8 439.9 639.5 439.5 640.2 440.5 640.8 443.1 641.5 439.9 642.2 439.5 642.9 440.5 643.6 443.0 644.3 439.9 644.9 439.5 645.6 440.6 646.3 442.8 647.0 439.9 647.7 439.5 648.4 440.7 649.0 442.7 649.7 439.9 650.4 439.6 651.1 440.7 651.8 442.6 652.5 439.9 653.1 439.6 653.8 440.8 654.5 442.5 655.2 439.9 655.9 439.6 656.6 440.9 657.2 442.4 657.9 439.9 658.6 439.7 660.0 442.3 660.7 439.9 661.3 439.7 662.7 442.3 663.4 439.9 664.1 439.7 664.8 441.1 665.4 442.2 666.1 439.9 666.8 439.7 667.5 441.1 668.2 442.1 668.9 439.9 669.5 439.7 670.2 441.2 670.9 442.0 671.6 439.9 672.3 439.8 673.0 441.2 673.6 442.0 674.3 439.9 675.0 439.8 675.7 441.3 676.4 441.9 677.1 439.9 677.7 439.8 678.4 441.4 679.1 441.9 679.8 439.9 680.5 439.8 681.2 441.5 681.8 441.8 682.5 439.9 683.2 439.9 683.9 441.5 684.6 441.8 685.3 439.9 685.9 439.9 686.6 441.6 687.3 441.7 688.0 439.9 688.7 439.9 689.4 441.7 690.0 441.7 690.7 439.9 691.4 439.9 692.1 441.7 692.8 441.6 693.5 439.9 694.1 440.0 694.8 441.8 695.5 441.6 696.2 439.9 696.9 440.0 697.6 441.9 698.2 441.5 698.9 439.9 699.6 440.0 700.3 441.9 701.0 441.5 701.7 439.9 702.3 440.0 703.0 442.0 703.7 441.5 704.4 439.9 705.1 440.0 705.8 442.1 706.4 441.4 707.1 439.9 707.8 440.1 708.5 442.2 709.2 441.4 709.9 439.9 710.5 440.1 711.2 442.3 711.9 441.3 712.6 439.9 713.3 440.1 714.0 442.3 714.6 441.3 715.3 439.9 716.0 440.1 716.7 442.4 718.1 439.9 718.7 440.1 719.4 442.5 720.8 439.9 721.5 440.2 722.2 442.6 723.5 439.9 724.2 440.2 724.9 442.8 725.6 441.2 726.3 439.9 726.9 440.2 727.6 442.8 728.3 441.2 729.0 439.9 729.7 440.2 730.4 442.9 731.0 441.1 731.7 440.0 732.4 440.3 733.1 443.1 733.8 441.1 734.5 439.9 735.2 440.3 735.8 443.1 736.5 441.1 737.2 440.0 737.9 440.3 738.6 443.3 739.3 441.0 739.9 440.0 740.6 440.3 741.3 443.4 742.0 441.0 742.7 440.0 743.4 440.3 744.0 443.6 744.7 441.0 745.4 440.0 746.1 440.4 746.8 443.7 747.5 441.0 748.1 440.0 748.8 440.4 749.5 443.9 750.2 440.9 750.9 440.0 751.6 440.4 752.2 444.0 752.9 440.9 753.6 440.0 754.3 440.4 755.0 444.2 755.7 440.9 756.3 440.0 757.0 440.4 757.7 444.4 758.4 440.9 759.1 440.0 759.8 440.5 760.4 444.6 761.1 440.8 761.8 440.0 762.5 440.5 763.2 444.8 763.9 440.8 764.5 440.0 765.2 440.5 765.9 445.2 766.6 440.8 767.3 440.0 768.0 440.5 768.6 445.6 769.3 440.8 770.0 440.0 770.7 440.5 771.4 446.0 772.1 440.7 772.7 440.0 773.4 440.6 774.1 446.3 774.8 440.7 775.5 440.0 776.2 440.6 776.8 447.2 777.5 440.7 778.2 440.0 778.9 440.6 779.6 447.8 780.3 440.7 780.9 440.0 781.6 440.6 782.3 454.8 783.0 440.6 783.7 439.9 783.7 439.9" stroke="#8c564b" stroke-width="2.08" fill="none" stroke-linecap="square" stroke-linejoin="round" clip-path="url(#c5)"/>
<path d="M84.5 486.5V536.5M154.5 486.5V536.5M224.5 486.5V536.5M294.5 486.5V536.5M364.5 486.5V536.5M434.5 486.5V536.5M504.5 486.5V536.5M574.5 486.5V536.5M644.5 486.5V536.5M714.5 486.5V536.5M784.5 486.5V536.5M49.5 536.5H819.5M49.5 522.5H819.5M49.5 508.5H819.5M49.5 495.5H819.5" stroke="#b0b0b0" stroke-width="1.11" fill="none" stroke-linecap="square" clip-path="url(#c6)"/>
<path d="M84.5 536.5v4.86M154.5 536.5v4.86M224.5 536.5v4.86M294.5 536.5v4.86M364.5 536.5v4.86M434.5 536.5v4.86M504.5 536.5v4.86M574.5 536.5v4.86M644.5 536.5v4.86M714.5 536.5v4.86M784.5 536.5v4.86M49.5 536.5h-4.86M49.5 522.5h-4.86M49.5 508.5h-4.86M49.5 495.5h-4.86" stroke="#000" stroke-width="1.11" fill="none"/>
<path d="M49.5 486.5H819.5V536.5H49.5Z" stroke="#000" stroke-width="1.11" fill="none" stroke-linecap="square"/>
<path d="M859.5 526.5L947.5 526.5Q949.5 526.5 949.5 524.5L949.5 509.5Q949.5 507.5 947.5 507.5L859.5 507.5Q857.5 507.5 857.5 509.5L857.5 524.5Q857.5 526.5 859.5 526.5Z" fill="#fff" fill-opacity="0.8" stroke="#ccc" stroke-width="1.39"/>
<path d="M83.9 524.7 84.6 515.5 85.2 513.1 85.9 512.0 86.6 511.7 87.3 512.0 88.0 513.1 88.7 515.5 89.3 527.5 90.0 515.4 90.7 513.0 91.4 512.0 92.1 511.7 92.8 512.0 93.4 513.1 94.1 515.6 94.8 529.7 95.5 515.4 96.2 513.0 96.9 512.0 97.5 511.7 98.2 512.0 98.9 513.1 99.6 515.6 100.3 523.3 101.0 515.3 101.6 513.0 102.3 512.0 103.0 511.7 103.7 512.0 104.4 513.1 105.1 515.6 105.7 523.3 106.4 515.3 107.1 513.0 107.8 512.0 108.5 511.7 109.2 512.0 109.8 513.1 110.5 515.7 111.2 530.1 111.9 515.3 112.6 513.0 113.3 512.0 113.9 511.7 114.6 512.0 115.3 513.2 116.0 515.7 116.7 529.3 117.4 515.2 118.0 512.9 118.7 511.9 119.4 511.7 120.1 512.0 120.8 513.2 121.5 515.8 122.1 525.5 122.8 515.2 123.5 512.9 124.2 511.9 124.9 511.7 125.6 512.0 126.2 513.2 126.9 515.9 127.6 523.8 128.3 515.2 129.0 512.9 129.7 511.9 130.3 511.7 131.0 512.1 131.7 513.2 132.4 515.9 133.1 523.9 133.8 515.1 134.4 512.9 135.1 511.9 135.8 511.7 136.5 512.1 137.2 513.2 137.9 516.0 138.5 522.8 139.2 515.1 139.9 512.9 140.6 511.9 141.3 511.7 142.0 512.1 142.6 513.3 143.3 516.1 144.0 521.9 144.7 515.1 145.4 512.9 146.1 511.9 146.7 511.7 147.4 512.1 148.1 513.3 148.8 516.2 149.5 520.9 150.2 515.1 150.8 512.9 151.5 511.9 152.2 511.7 152.9 512.1 153.6 513.3 154.3 516.4 154.9 520.2 155.6 515.1 156.3 512.8 157.0 511.9 157.7 511.7 158.4 512.1 159.0 513.3 159.7 516.3 160.4 521.6 161.1 515.0 161.8 512.8 162.5 511.9 163.1 511.7 163.8 512.1 164.5 513.3 165.2 516.4 165.9 520.6 166.6 515.0 167.2 512.8 167.9 511.9 168.6 511.7 169.3 512.1 170.0 513.4 171.3 520.0 172.0 515.0 172.7 512.8 173.4 511.9 174.1 511.7 174.8 512.1 175.4 513.4 176.8 519.6 177.5 515.0 178.2 512.8 178.9 511.8 179.5 511.6 180.2 512.1 180.9 513.4 181.6 516.9 182.3 519.4 183.0 515.0 183.6 512.8 184.3 511.8 185.0 511.6 185.7 512.1 186.4 513.4 187.1 517.0 187.7 519.2 188.4 514.9 189.1 512.7 189.8 511.8 190.5 511.6 191.2 512.1 191.8 513.5 192.5 517.1 193.2 519.1 193.9 514.9 194.6 512.7 195.3 511.8 196.0 511.6 196.6 512.1 197.3 513.5 198.0 517.4 198.7 518.6 199.4 514.9 200.1 512.7 200.7 511.8 201.4 511.6 202.1 512.1 202.8 513.5 203.5 517.7 204.2 518.4 204.8 514.9 205.5 512.7 206.2 511.8 206.9 511.6 207.6 512.1 208.3 513.6 208.9 517.9 209.6 518.2 210.3 514.9 211.0 512.7 211.7 511.8 212.4 511.6 213.0 512.1 213.7 513.6 214.4 518.3 215.1 518.1 215.8 514.9 216.5 512.6 217.1 511.7 217.8 511.6 218.5 512.1 219.2 513.6 219.9 518.6 220.6 517.9 221.2 514.9 221.9 512.6 222.6 511.7 223.3 511.6 224.0 512.1 224.7 513.7 225.3 519.5 226.0 517.6 226.7 514.9 227.4 512.6 228.1 511.7 228.8 511.6 229.4 512.1 230.1 513.7 230.8 520.0 232.9 512.6 233.5 511.7 234.2 511.6 234.9 512.1 235.6 513.7 236.3 520.9 237.0 517.5 237.6 514.8 238.3 512.5 239.0 511.7 239.7 511.6 240.4 512.1 241.1 513.7 241.7 526.6 242.4 517.3 243.8 512.5 244.5 511.7 245.2 511.6 245.8 512.1 246.5 513.8 247.2 521.4 247.9 517.2 249.3 512.5 249.9 511.7 250.6 511.5 251.3 512.1 252.0 513.8 252.7 520.3 253.4 517.1 254.7 512.5 255.4 511.6 256.1 511.5 256.8 512.2 257.5 513.9 258.1 518.9 260.2 512.5 260.9 511.6 261.6 511.5 262.2 512.2 262.9 513.9 263.6 518.2 264.3 516.6 265.0 514.7 265.7 512.4 266.3 511.6 267.0 511.5 267.7 512.2 268.4 514.0 269.1 517.8 269.8 516.5 270.4 514.7 271.1 512.4 271.8 511.6 272.5 511.5 273.2 512.2 273.9 514.0 274.5 517.3 275.2 516.4 275.9 514.7 276.6 512.4 277.3 511.6 278.0 511.5 278.6 512.2 279.3 514.1 280.0 517.0 280.7 516.2 281.4 514.7 282.1 512.4 282.7 511.5 283.4 511.5 284.1 512.2 284.8 514.1 285.5 516.7 286.2 516.1 286.8 514.7 287.5 512.3 288.2 511.5 288.9 511.5 289.6 512.2 290.9 516.5 291.6 516.0 292.3 514.7 293.0 512.3 293.7 511.5 294.4 511.5 295.0 512.2 296.4 516.1 297.1 515.8 297.8 514.7 298.5 512.3 299.1 511.5 299.8 511.4 300.5 512.2 301.2 514.4 301.9 515.9 302.6 515.7 303.2 514.6 303.9 512.3 304.6 511.4 305.3 511.4 306.0 512.2 306.7 514.4 307.3 515.7 308.0 515.6 308.7 514.6 309.4 512.2 310.1 511.4 310.8 511.4 311.4 512.2 312.1 514.5 312.8 515.5 313.5 515.4 314.2 514.6 314.9 512.2 315.5 511.4 316.2 511.4 316.9 512.2 317.6 514.7 318.3 515.3 319.0 515.3 319.6 514.6 320.3 512.2 321.0 511.4 321.7 511.4 322.4 512.2 323.1 514.8 323.7 515.1 324.4 515.1 325.1 514.6 325.8 512.1 326.5 511.3 327.2 511.4 327.8 512.2 328.5 514.9 329.2 514.9 329.9 515.0 330.6 514.6 331.3 512.1 331.9 511.3 332.6 511.3 333.3 512.2 334.0 515.1 334.7 514.7 335.4 514.9 336.0 514.6 336.7 512.1 337.4 511.3 338.1 511.3 338.8 512.2 339.5 515.2 340.1 514.5 340.8 514.8 341.5 514.5 342.2 512.0 342.9 511.2 343.6 511.3 344.2 512.2 344.9 515.4 345.6 514.4 346.3 514.6 347.0 514.5 347.7 512.0 348.3 511.2 349.0 511.3 349.7 512.2 350.4 515.7 351.1 514.2 351.8 514.5 352.4 514.5 353.1 511.9 353.8 511.2 354.5 511.2 355.2 512.2 355.9 516.0 356.5 514.0 357.2 514.4 357.9 514.5 358.6 511.9 359.3 511.1 360.0 511.2 360.6 512.2 361.3 516.5 362.0 513.8 362.7 514.2 363.4 514.5 364.1 511.8 364.7 511.1 365.4 511.2 366.1 512.3 366.8 517.1 367.5 513.7 368.2 514.1 368.8 514.4 369.5 511.8 370.2 511.0 370.9 511.2 371.6 512.3 372.3 518.0 372.9 513.5 374.3 514.4 375.0 511.7 375.7 511.0 376.4 511.1 377.1 512.3 377.7 520.1 378.4 513.3 379.8 514.4 380.5 511.7 381.2 510.9 381.8 511.1 382.5 512.3 383.2 520.1 383.9 513.2 385.3 514.3 385.9 511.6 386.6 510.9 387.3 511.1 388.0 512.3 388.7 517.7 389.4 513.0 390.7 514.3 391.4 511.6 392.1 510.8 392.8 511.0 393.5 512.3 394.1 516.6 394.8 512.8 395.5 513.5 396.2 514.2 396.9 511.5 397.6 510.8 398.2 511.0 398.9 512.3 399.6 515.8 400.3 512.7 401.0 513.3 401.7 514.2 402.3 511.4 403.0 510.7 403.7 510.9 404.4 512.4 405.1 515.2 405.8 512.5 406.4 513.2 407.1 514.1 407.8 511.3 408.5 510.6 409.2 510.9 409.9 512.4 410.5 514.7 411.2 512.3 411.9 513.0 412.6 514.0 413.3 511.2 414.0 510.6 414.6 510.8 416.0 514.2 416.7 512.1 417.4 512.9 418.1 513.9 418.7 511.2 419.4 510.5 420.1 510.8 420.8 512.5 421.5 513.8 422.2 512.0 422.8 512.7 423.5 513.8 424.2 511.0 424.9 510.4 425.6 510.7 426.3 512.5 426.9 513.4 427.6 511.8 428.3 512.6 429.0 513.7 429.7 510.9 430.4 510.3 431.0 510.7 431.7 512.6 432.4 513.0 433.1 511.6 433.8 512.4 434.5 513.6 435.1 510.8 435.8 510.2 436.5 510.6 437.2 512.7 437.9 512.7 438.6 511.4 439.2 512.3 439.9 513.4 440.6 510.7 441.3 510.1 442.0 510.5 442.7 512.9 443.3 512.3 444.0 511.1 445.4 513.2 446.1 510.5 446.8 510.0 447.4 510.5 448.1 513.0 449.5 510.9 450.9 513.0 451.5 510.3 452.2 509.8 452.9 510.4 453.6 513.3 454.3 511.6 455.0 510.7 456.3 512.7 457.0 510.1 457.7 509.6 458.4 510.3 459.1 513.7 459.7 511.2 460.4 510.4 461.8 512.4 462.5 509.9 463.2 509.5 463.8 510.1 464.5 514.5 465.2 510.8 465.9 510.1 466.6 511.3 467.3 512.1 467.9 509.7 468.6 509.3 469.3 510.0 470.0 516.4 470.7 510.3 471.4 509.8 472.0 511.0 472.7 511.7 473.4 509.4 474.1 509.0 474.8 509.9 475.5 515.8 476.1 509.9 476.8 509.4 477.5 510.7 478.2 511.2 478.9 509.0 479.6 508.7 480.2 509.7 480.9 513.3 481.6 509.4 482.3 509.0 483.0 510.4 483.7 510.7 484.3 508.6 485.0 508.4 485.7 509.5 486.4 512.0 487.1 508.9 487.8 508.6 488.4 510.1 489.1 510.2 489.8 508.2 490.5 508.0 491.2 509.2 491.9 511.5 492.5 508.6 493.2 508.3 493.9 509.6 494.6 511.4 495.3 508.8 496.0 508.4 496.6 508.4 497.3 507.8 498.0 507.0 498.7 507.8 499.4 505.6 500.1 502.4 500.7 500.5 501.4 499.0 502.1 497.9 502.8 497.1 504.2 495.9 505.5 495.2 506.9 494.9 508.9 494.8 569.8 494.8 571.1 495.0 572.5 495.4 573.2 495.8 573.9 496.3 574.6 496.9 575.2 497.7 575.9 498.8 576.6 500.1 577.3 501.9 578.0 504.7 578.7 509.0 579.3 507.1 580.7 508.5 581.4 508.6 582.1 508.9 582.8 511.0 583.4 509.8 584.1 508.2 584.8 508.2 585.5 509.8 586.2 510.2 586.9 508.3 587.5 508.3 588.2 509.9 588.9 510.4 589.6 508.5 590.3 508.5 591.0 510.1 591.6 510.5 592.3 508.7 593.0 508.7 593.7 510.4 594.4 510.7 595.1 508.9 595.7 508.9 596.4 510.7 597.1 510.7 597.8 509.1 598.5 509.1 599.2 511.0 599.8 510.8 600.5 509.2 601.2 509.3 601.9 511.3 602.6 510.9 603.3 509.4 603.9 509.5 604.6 511.5 605.3 511.0 606.0 509.5 606.7 509.7 607.4 511.8 608.0 511.1 608.7 509.6 609.4 509.8 610.1 512.0 610.8 511.1 611.5 509.8 612.1 510.0 612.8 512.3 613.5 511.2 614.2 509.9 614.9 510.1 615.6 512.5 616.9 510.0 617.6 510.2 618.3 512.7 619.7 510.1 620.3 510.4 621.0 513.0 621.7 511.4 622.4 510.2 623.1 510.5 623.8 513.2 624.4 511.4 625.1 510.3 625.8 510.6 626.5 513.4 627.2 511.5 627.9 510.4 628.5 510.7 629.2 513.6 629.9 511.6 630.6 510.4 631.3 510.8 632.0 513.8 632.6 511.6 633.3 510.5 634.0 510.9 634.7 514.0 635.4 511.7 636.1 510.6 636.7 511.0 637.4 514.2 638.1 511.7 638.8 510.7 639.5 511.1 640.2 514.3 640.8 511.8 641.5 510.7 642.2 511.2 642.9 514.5 643.6 511.8 644.3 510.8 644.9 511.2 645.6 514.7 646.3 511.8 647.0 510.9 647.7 511.3 648.4 514.9 649.0 511.9 649.7 510.9 650.4 511.4 651.1 515.1 651.8 511.9 652.5 511.0 653.1 511.5 653.8 515.3 654.5 512.0 655.2 511.0 655.9 511.5 656.6 515.5 657.2 512.0 657.9 511.1 658.6 511.6 659.3 515.6 660.0 512.0 660.7 511.1 661.3 511.7 662.0 515.8 662.7 512.1 663.4 511.2 664.1 511.7 664.8 515.9 665.4 512.1 666.1 511.2 666.8 511.8 667.5 516.2 668.2 512.1 668.9 511.3 669.5 511.8 670.2 516.3 670.9 512.2 671.6 511.3 672.3 511.9 673.0 516.5 673.6 512.2 674.3 511.4 675.0 511.9 675.7 516.6 676.4 512.2 677.1 511.4 677.7 512.0 678.4 516.9 679.1 512.2 679.8 511.4 680.5 512.0 681.2 517.0 681.8 512.3 682.5 511.5 683.2 512.1 683.9 517.2 684.6 512.3 685.3 511.5 685.9 512.1 686.6 517.3 687.3 512.3 688.0 511.5 688.7 512.1 689.4 517.6 690.0 512.4 690.7 511.6 691.4 512.2 692.1 517.7 692.8 512.4 693.5 511.6 694.1 512.2 694.8 517.9 695.5 512.4 696.2 511.6 696.9 512.2 697.6 518.0 698.2 512.4 698.9 511.7 699.6 512.3 700.3 518.2 701.0 512.4 701.7 511.7 702.3 512.3 703.0 518.4 703.7 512.5 704.4 511.7 705.1 512.3 705.8 518.5 706.4 512.5 707.1 511.7 707.8 512.4 708.5 518.8 709.2 512.5 709.9 511.8 710.5 512.4 711.2 518.7 711.9 512.5 712.6 511.8 713.3 512.5 714.0 519.7 714.6 512.5 715.3 511.8 716.0 512.4 716.7 519.1 717.4 512.6 718.1 511.8 718.7 512.5 719.4 519.6 720.1 512.6 720.8 511.9 721.5 512.5 722.2 519.8 722.8 512.6 723.5 511.9 724.2 512.5 724.9 519.4 725.6 512.6 726.3 511.9 726.9 512.6 727.6 520.5 728.3 512.6 729.0 511.9 729.7 512.6 730.4 520.3 731.0 512.6 731.7 511.9 732.4 512.6 733.1 519.9 733.8 512.7 734.5 512.0 735.2 512.6 735.8 521.5 736.5 512.7 737.2 511.9 737.9 512.6 738.6 520.6 739.3 512.7 739.9 512.0 740.6 512.6 741.3 521.3 742.0 512.7 742.7 512.0 743.4 512.6 744.0 520.9 744.7 512.7 745.4 512.0 746.1 512.7 746.8 521.8 747.5 512.7 748.1 512.0 748.8 512.7 749.5 522.3 750.2 512.7 750.9 512.0 751.6 512.7 752.2 521.0 752.9 512.7 753.6 512.0 754.3 512.7 755.0 524.3 755.7 512.7 756.3 512.0 757.0 512.7 757.7 522.0 758.4 512.7 759.1 512.0 759.8 512.7 760.4 522.5 761.1 512.7 761.8 512.1 762.5 512.7 763.2 524.2 763.9 512.7 764.5 512.1 765.2 512.7 765.9 522.8 766.6 512.8 767.3 512.1 768.0 512.7 768.6 523.2 769.3 512.8 770.0 512.1 770.7 512.7 771.4 522.7 772.1 512.8 772.7 512.1 773.4 512.8 774.1 525.7 774.8 512.8 775.5 512.1 776.2 512.8 776.8 525.0 777.5 512.8 778.2 512.1 778.9 512.8 779.6 527.5 780.3 512.8 780.9 512.1 781.6 512.8 782.3 522.7 783.0 512.8 783.7 512.1 783.7 512.1" stroke="#e377c2" stroke-width="2.08" fill="none" stroke-linecap="square" stroke-linejoin="round" clip-path="url(#c6)"/>
<path d="M84.5 558.5V608.5M154.5 558.5V608.5M224.5 558.5V608.5M294.5 558.5V608.5M364.5 558.5V608.5M434.5 558.5V608.5M504.5 558.5V608.5M574.5 558.5V608.5M644.5 558.5V608.5M714.5 558.5V608.5M784.5 558.5V608.5M49.5 608.5H819.5M49.5 594.5H819.5M49.5 581.5H819.5M49.5 567.5H819.5" stroke="#b0b0b0" stroke-width="1.11" fill="none" stroke-linecap="square" clip-path="url(#c7)"/>
<path d="M84.5 608.5v4.86M154.5 608.5v4.86M224.5 608.5v4.86M294.5 608.5v4.86M364.5 608.5v4.86M434.5 608.5v4.86M504.5 608.5v4.86M574.5 608.5v4.86M644.5 608.5v4.86M714.5 608.5v4.86M784.5 608.5v4.86M49.5 608.5h-4.86M49.5 594.5h-4.86M49.5 581.5h-4.86M49.5 567.5h-4.86" stroke="#000" stroke-width="1.11" fill="none"/>
<path d="M49.5 558.5H819.5V608.5H49.5Z" stroke="#000" stroke-width="1.11" fill="none" stroke-linecap="square"/>
<path d="M859.5 598.5L947.5 598.5Q949.5 598.5 949.5 596.5L949.5 581.5Q949.5 579.5 947.5 579.5L859.5 579.5Q857.5 579.5 857.5 581.5L857.5 596.5Q857.5 598.5 859.5 598.5Z" fill="#fff" fill-opacity="0.8" stroke="#ccc" stroke-width="1.39"/>
<path d="M83.9 597.7 84.6 587.7 85.2 585.3 85.9 584.2 86.6 583.9 87.3 584.3 88.0 585.3 88.7 587.9 89.3 593.1 90.0 587.8 90.7 585.3 91.4 584.2 92.1 583.9 92.8 584.3 93.4 585.4 94.1 587.9 94.8 599.3 95.5 587.6 96.2 585.2 96.9 584.2 97.5 583.9 98.2 584.3 98.9 585.4 99.6 588.1 100.3 593.9 101.0 587.6 101.6 585.2 102.3 584.2 103.0 583.9 103.7 584.3 104.4 585.5 105.1 588.2 105.7 593.0 106.4 587.5 107.1 585.2 107.8 584.2 108.5 583.9 109.2 584.3 109.8 585.5 110.5 588.3 111.2 593.7 111.9 587.4 112.6 585.2 113.3 584.2 113.9 583.9 114.6 584.3 115.3 585.5 116.0 588.4 116.7 593.7 117.4 587.4 118.0 585.1 118.7 584.2 119.4 583.9 120.1 584.3 120.8 585.6 121.5 588.5 122.1 594.0 122.8 587.3 123.5 585.1 124.2 584.2 124.9 583.9 125.6 584.4 126.2 585.6 126.9 588.7 127.6 593.7 128.3 587.2 129.0 585.1 129.7 584.1 130.3 583.9 131.0 584.4 131.7 585.6 132.4 588.7 133.1 594.1 133.8 587.2 134.4 585.0 135.1 584.1 135.8 583.9 136.5 584.4 137.2 585.7 137.9 588.9 138.5 594.5 139.2 587.1 139.9 585.0 140.6 584.1 141.3 583.9 142.0 584.4 142.6 585.7 143.3 589.0 144.0 601.2 144.7 587.0 145.4 585.0 146.1 584.1 146.7 583.9 147.4 584.4 148.1 585.8 148.8 589.2 149.5 594.6 150.2 587.0 150.8 584.9 151.5 584.1 152.2 583.9 152.9 584.4 153.6 585.8 154.3 589.2 154.9 595.0 155.6 586.9 156.3 584.9 157.0 584.1 157.7 583.9 158.4 584.5 159.0 585.9 160.4 593.1 161.1 586.9 161.8 584.9 162.5 584.1 163.1 583.9 163.8 584.5 164.5 585.9 165.2 589.7 165.9 600.0 166.6 586.8 167.2 584.9 167.9 584.0 168.6 583.9 169.3 584.5 170.0 585.9 170.7 589.9 171.3 598.6 172.0 586.8 172.7 584.8 173.4 584.0 174.1 583.9 174.8 584.5 175.4 586.0 176.1 590.2 176.8 596.4 177.5 586.7 178.2 584.8 178.9 584.0 179.5 583.9 180.2 584.5 180.9 586.1 181.6 590.6 182.3 599.7 183.0 586.7 183.6 584.8 184.3 584.0 185.0 583.9 185.7 584.5 186.4 586.1 187.1 590.9 187.7 597.7 188.4 586.6 189.1 584.7 189.8 584.0 190.5 583.9 191.2 584.6 191.8 586.2 192.5 591.4 193.2 595.1 193.9 586.5 194.6 584.7 195.3 584.0 196.0 583.9 196.6 584.6 197.3 586.2 198.0 592.0 198.7 594.5 199.4 586.5 200.1 584.7 200.7 584.0 201.4 583.9 202.1 584.6 202.8 586.3 203.5 593.0 204.2 595.6 204.8 586.4 205.5 584.7 206.2 584.0 206.9 583.9 207.6 584.6 208.3 586.3 208.9 594.1 209.6 595.3 210.3 586.4 211.0 584.6 211.7 583.9 212.4 583.9 213.0 584.6 213.7 586.4 214.4 596.6 215.1 594.2 215.8 586.3 216.5 584.6 217.1 583.9 217.8 583.9 218.5 584.7 219.2 586.5 219.9 594.5 220.6 594.1 221.2 586.3 221.9 584.6 222.6 583.9 223.3 584.0 224.0 584.7 224.7 586.5 225.3 592.7 226.0 594.1 226.7 586.2 227.4 584.6 228.1 583.9 228.8 584.0 229.4 584.7 230.1 586.6 230.8 591.7 231.5 594.2 232.2 586.2 232.9 584.5 233.5 583.9 234.2 584.0 234.9 584.7 235.6 586.7 236.3 591.1 237.0 593.8 237.6 586.1 238.3 584.5 239.0 583.9 239.7 584.0 240.4 584.8 241.1 586.8 241.7 590.8 242.4 593.4 243.1 586.1 243.8 584.5 244.5 583.9 245.2 584.0 245.8 584.8 246.5 586.9 247.9 593.3 248.6 586.0 249.3 584.5 249.9 583.9 250.6 584.0 251.3 584.8 252.0 587.0 253.4 592.7 254.0 586.0 254.7 584.4 255.4 583.9 256.1 584.0 256.8 584.8 257.5 587.1 258.8 592.5 259.5 585.9 260.2 584.4 260.9 583.8 261.6 584.0 262.2 584.9 264.3 592.1 265.0 585.9 265.7 584.4 266.3 583.8 267.0 584.0 267.7 584.9 269.1 589.5 269.8 591.5 270.4 585.8 271.1 584.3 271.8 583.8 272.5 584.0 273.2 584.9 273.9 587.4 275.2 591.5 275.9 585.8 276.6 584.3 277.3 583.8 278.0 584.0 278.6 584.9 279.3 587.5 280.0 589.0 280.7 591.7 281.4 585.8 282.1 584.3 282.7 583.8 283.4 584.0 284.1 585.0 284.8 587.7 285.5 588.8 286.2 591.4 286.8 585.7 287.5 584.3 288.2 583.8 288.9 584.0 289.6 585.0 290.3 587.9 290.9 588.7 291.6 591.2 292.3 585.6 293.0 584.2 293.7 583.8 294.4 584.0 295.0 585.0 295.7 588.0 296.4 588.6 297.1 590.9 297.8 585.6 298.5 584.2 299.1 583.7 299.8 584.0 300.5 585.1 301.2 588.2 301.9 588.4 302.6 591.0 303.2 585.6 303.9 584.2 304.6 583.7 305.3 584.0 306.0 585.1 306.7 588.5 307.3 588.2 308.0 590.9 308.7 585.5 309.4 584.1 310.1 583.7 310.8 584.0 311.4 585.2 312.1 588.7 312.8 588.2 313.5 590.5 314.2 585.4 314.9 584.1 315.5 583.7 316.2 584.0 316.9 585.2 317.6 589.0 318.3 588.0 319.0 590.4 319.6 585.4 320.3 584.1 321.0 583.7 321.7 584.0 322.4 585.3 323.1 589.5 323.7 587.9 324.4 590.2 325.1 585.4 325.8 584.1 326.5 583.7 327.2 584.0 327.8 585.3 328.5 590.0 329.2 587.8 329.9 590.1 330.6 585.3 331.3 584.0 331.9 583.7 332.6 584.0 333.3 585.4 334.0 590.8 334.7 587.7 335.4 590.0 336.0 585.3 336.7 584.0 337.4 583.7 338.1 584.0 338.8 585.4 339.5 592.0 340.1 587.6 340.8 589.8 341.5 585.2 342.2 584.0 342.9 583.6 343.6 584.1 344.2 585.5 344.9 595.1 345.6 587.5 346.3 589.6 347.0 585.1 347.7 583.9 348.3 583.6 349.0 584.1 349.7 585.5 350.4 592.5 351.1 587.4 351.8 589.5 352.4 585.1 353.1 583.9 353.8 583.6 354.5 584.1 355.2 585.6 355.9 590.8 356.5 587.3 357.2 589.4 357.9 585.1 358.6 583.9 359.3 583.6 360.0 584.1 360.6 585.7 361.3 590.1 362.0 587.2 362.7 589.1 363.4 585.0 364.1 583.8 364.7 583.6 365.4 584.1 366.1 585.7 366.8 589.4 367.5 587.1 368.2 589.0 368.8 584.9 369.5 583.8 370.2 583.6 370.9 584.1 371.6 585.8 372.3 588.9 372.9 587.0 373.6 588.9 374.3 584.9 375.0 583.8 375.7 583.6 376.4 584.1 377.1 585.9 377.7 588.5 378.4 586.9 379.1 588.8 379.8 584.8 380.5 583.7 381.2 583.5 381.8 584.1 383.2 588.1 383.9 586.9 384.6 588.7 385.3 584.8 385.9 583.7 386.6 583.5 387.3 584.1 388.7 587.8 389.4 586.8 390.0 588.5 390.7 584.7 391.4 583.7 392.1 583.5 392.8 584.2 393.5 586.2 394.1 587.5 394.8 586.7 395.5 588.4 396.2 584.7 396.9 583.6 397.6 583.5 398.2 584.2 398.9 586.4 399.6 587.3 400.3 586.6 401.0 588.2 401.7 584.6 402.3 583.6 403.0 583.5 403.7 584.2 404.4 586.6 405.1 587.0 405.8 586.5 406.4 588.1 407.1 584.5 407.8 583.5 408.5 583.5 409.2 584.2 409.9 586.7 410.5 586.8 411.2 586.5 411.9 587.9 412.6 584.5 413.3 583.5 414.0 583.4 414.6 584.2 415.3 587.0 416.0 586.6 416.7 586.4 417.4 587.8 418.1 584.4 418.7 583.5 419.4 583.4 420.1 584.3 420.8 587.2 421.5 586.4 422.2 586.3 422.8 587.6 423.5 584.3 424.2 583.4 424.9 583.4 425.6 584.3 426.3 587.5 426.9 586.2 427.6 586.2 428.3 587.5 429.0 584.3 429.7 583.4 430.4 583.4 431.0 584.3 431.7 587.9 432.4 586.1 433.1 586.2 433.8 587.3 434.5 584.2 435.1 583.3 435.8 583.4 436.5 584.4 437.2 588.4 437.9 585.9 438.6 586.1 439.2 587.2 439.9 584.1 440.6 583.3 441.3 583.4 442.0 584.4 442.7 589.3 443.3 585.7 444.0 586.0 444.7 587.0 445.4 584.0 446.1 583.2 446.8 583.3 447.4 584.4 448.1 590.9 448.8 585.5 449.5 586.0 450.2 586.8 450.9 584.0 451.5 583.2 452.2 583.3 452.9 584.5 453.6 592.3 454.3 585.4 455.0 585.9 455.6 586.7 456.3 583.9 457.0 583.1 457.7 583.3 458.4 584.6 459.1 589.5 459.7 585.2 461.1 586.5 461.8 583.8 462.5 583.1 463.2 583.3 463.8 584.6 464.5 588.4 465.2 585.1 466.6 586.3 467.3 583.7 467.9 583.0 468.6 583.3 469.3 584.7 470.0 587.6 470.7 584.9 471.4 585.7 472.0 586.1 472.7 583.6 473.4 583.0 474.1 583.2 474.8 584.8 475.5 587.0 476.1 584.7 476.8 585.6 477.5 585.9 478.2 583.5 478.9 582.9 479.6 583.2 480.9 586.5 481.6 584.6 482.3 585.5 483.0 585.8 483.7 583.4 484.3 582.8 485.0 583.2 485.7 585.0 486.4 586.0 487.1 584.4 487.8 585.5 488.4 585.5 489.1 583.3 489.8 582.8 490.5 583.2 491.2 585.2 491.9 585.6 492.5 584.2 493.2 585.4 493.9 585.3 494.6 583.2 495.3 582.7 496.0 583.2 496.6 585.4 497.3 585.2 498.0 584.1 498.7 585.4 499.4 585.1 500.1 583.0 500.7 582.6 501.4 583.1 502.1 585.7 503.5 583.9 504.2 585.3 504.8 584.9 505.5 582.9 506.2 582.5 506.9 583.1 507.6 586.2 508.3 584.5 508.9 583.7 509.6 585.3 510.3 584.6 511.0 582.7 511.7 582.4 512.4 583.1 513.0 586.8 513.7 584.1 514.4 583.5 515.1 585.2 515.8 584.3 516.5 582.6 517.1 582.3 517.8 583.1 518.5 588.1 519.2 583.8 519.9 583.3 520.6 585.2 521.2 584.1 521.9 582.4 522.6 582.2 523.3 583.1 524.0 591.6 524.7 583.4 525.3 583.1 526.0 585.2 527.4 582.2 528.1 582.0 528.8 583.1 529.4 587.1 530.1 583.1 530.8 582.9 531.5 585.2 532.2 583.4 532.9 582.0 533.5 581.9 534.2 583.1 534.9 585.6 535.6 582.7 536.3 582.6 537.0 585.3 537.6 583.0 538.3 581.7 539.0 581.7 540.4 584.5 541.1 582.3 541.7 582.4 542.4 585.4 543.1 582.6 543.8 581.4 544.5 581.5 545.2 583.2 545.8 583.7 546.5 581.9 547.2 582.1 547.9 585.7 548.6 582.2 549.3 581.1 549.9 581.3 550.6 583.3 551.3 582.8 552.0 581.4 552.7 581.7 553.4 586.3 554.1 581.7 554.7 580.7 555.4 581.0 556.1 583.5 557.5 580.9 558.2 581.3 558.8 587.1 559.5 581.2 560.2 580.3 560.9 580.7 561.6 583.5 562.3 581.7 562.9 580.6 563.6 581.0 564.3 584.0 565.0 582.0 565.7 580.9 566.4 580.6 567.0 580.2 567.7 579.4 568.4 579.3 569.1 580.5 569.8 575.7 570.5 573.4 571.1 571.8 571.8 570.6 572.5 569.7 573.2 568.9 574.6 567.9 575.9 567.3 577.3 567.1 580.0 567.0 640.8 567.2 642.2 567.6 643.6 568.3 644.3 568.9 644.9 569.7 645.6 570.6 646.3 571.8 647.0 573.4 647.7 575.7 648.4 580.6 649.0 579.3 649.7 579.6 650.4 580.5 651.1 581.1 651.8 581.3 652.5 582.4 653.1 583.9 653.8 581.0 654.5 580.6 655.2 581.4 655.9 586.1 656.6 581.2 657.2 580.6 657.9 581.5 658.6 586.6 659.3 581.4 660.0 580.8 660.7 581.7 661.3 586.4 662.0 581.6 662.7 581.1 663.4 582.0 664.1 586.0 664.8 581.8 665.4 581.3 666.1 582.3 666.8 585.7 667.5 582.0 668.2 581.6 668.9 582.6 669.5 585.5 670.2 582.1 670.9 581.8 671.6 582.9 672.3 585.4 673.0 582.3 673.6 582.0 674.3 583.2 675.0 585.3 675.7 582.5 676.4 582.2 677.1 583.5 677.7 585.2 678.4 582.6 679.1 582.4 680.5 585.2 681.2 582.8 681.8 582.6 683.2 585.2 683.9 582.9 684.6 582.8 685.3 584.3 685.9 585.1 686.6 583.0 687.3 583.0 688.0 584.5 688.7 585.2 689.4 583.2 690.0 583.1 690.7 584.8 691.4 585.1 692.1 583.3 692.8 583.3 693.5 585.0 694.1 585.2 694.8 583.4 695.5 583.5 696.2 585.3 696.9 585.2 697.6 583.5 698.2 583.6 698.9 585.6 699.6 585.2 700.3 583.7 701.0 583.8 701.7 585.9 702.3 585.3 703.0 583.8 703.7 584.0 704.4 586.2 705.1 585.3 705.8 583.9 706.4 584.1 707.1 586.4 707.8 585.3 708.5 584.0 709.2 584.3 709.9 586.8 711.2 584.1 711.9 584.4 712.6 587.1 713.3 585.4 714.0 584.3 714.6 584.6 715.3 587.5 716.0 585.4 716.7 584.4 717.4 584.7 718.1 587.8 718.7 585.5 719.4 584.5 720.1 584.9 720.8 588.3 721.5 585.6 722.2 584.6 722.8 585.1 723.5 588.9 724.2 585.6 724.9 584.7 725.6 585.2 726.3 589.4 726.9 585.7 727.6 584.9 728.3 585.4 729.0 590.4 729.7 585.7 730.4 585.0 731.0 585.6 731.7 591.8 732.4 585.8 733.1 585.1 733.8 585.8 734.5 594.3 735.2 585.9 735.8 585.3 736.5 586.0 737.2 592.0 737.9 585.9 738.6 585.4 739.3 586.2 739.9 591.1 740.6 586.1 741.3 585.5 742.0 586.5 742.7 590.1 743.4 586.1 744.0 585.7 744.7 586.7 745.4 589.7 746.1 586.2 746.8 585.8 747.5 586.9 748.1 589.3 748.8 586.3 749.5 586.0 750.2 587.2 750.9 589.1 751.6 586.4 752.2 586.2 753.6 588.9 754.3 586.5 755.0 586.4 755.7 587.9 756.3 588.6 757.0 586.6 757.7 586.6 758.4 588.3 759.1 588.5 759.8 586.8 760.4 586.8 761.1 588.8 761.8 588.4 762.5 586.9 763.2 587.1 763.9 589.4 765.2 587.0 765.9 587.4 766.6 590.4 767.3 588.2 768.0 587.2 768.6 587.7 769.3 592.0 770.0 588.2 770.7 587.4 771.4 588.1 772.1 594.0 772.7 588.1 773.4 587.6 774.1 588.6 774.8 591.3 775.5 588.1 776.2 587.8 776.8 589.3 777.5 590.0 778.2 588.0 778.9 588.1 779.6 590.3 780.3 589.3 780.9 588.0 781.6 588.4 782.3 592.7 783.0 588.8 783.7 588.0 783.7 588.0" stroke="#7f7f7f" stroke-width="2.08" fill="none" stroke-linecap="square" stroke-linejoin="round" clip-path="url(#c7)"/>
<path d="M84.5 630.5V680.5M154.5 630.5V680.5M224.5 630.5V680.5M294.5 630.5V680.5M364.5 630.5V680.5M434.5 630.5V680.5M504.5 630.5V680.5M574.5 630.5V680.5M644.5 630.5V680.5M714.5 630.5V680.5M784.5 630.5V680.5M49.5 680.5H819.5M49.5 667.5H819.5M49.5 653.5H819.5M49.5 639.5H819.5" stroke="#b0b0b0" stroke-width="1.11" fill="none" stroke-linecap="square" clip-path="url(#c8)"/>
<path d="M84.5 680.5v4.86M154.5 680.5v4.86M224.5 680.5v4.86M294.5 680.5v4.86M364.5 680.5v4.86M434.5 680.5v4.86M504.5 680.5v4.86M574.5 680.5v4.86M644.5 680.5v4.86M714.5 680.5v4.86M784.5 680.5v4.86M49.5 680.5h-4.86M49.5 667.5h-4.86M49.5 653.5h-4.86M49.5 639.5h-4.86" stroke="#000" stroke-width="1.11" fill="none"/>
<path d="M49.5 630.5H819.5V680.5H49.5Z" stroke="#000" stroke-width="1.11" fill="none" stroke-linecap="square"/>
<path d="M859.5 670.5L947.5 670.5Q949.5 670.5 949.5 668.5L949.5 654.5Q949.5 652.5 947.5 652.5L859.5 652.5Q857.5 652.5 857.5 654.5L857.5 668.5Q857.5 670.5 859.5 670.5Z" fill="#fff" fill-opacity="0.8" stroke="#ccc" stroke-width="1.39"/>
<path d="M83.9 671.7 84.6 665.7 85.2 663.4 85.9 662.3 86.6 662.0 87.3 662.2 88.0 663.0 88.7 664.3 89.3 665.0 90.7 662.7 91.4 662.0 92.1 661.9 92.8 662.3 93.4 663.5 94.1 666.1 94.8 670.0 95.5 665.2 96.2 663.2 96.9 662.3 97.5 662.1 98.2 662.5 98.9 663.5 99.6 665.3 100.3 665.9 101.0 664.0 101.6 662.6 102.3 662.0 103.0 661.9 103.7 662.4 104.4 663.6 105.1 665.7 105.7 666.1 106.4 663.9 107.1 662.5 107.8 661.9 108.5 661.9 109.2 662.4 109.8 663.6 110.5 665.7 111.2 666.0 111.9 663.9 112.6 662.6 113.3 662.0 113.9 662.0 114.6 662.6 115.3 664.1 116.0 666.9 116.7 666.6 117.4 663.9 118.0 662.6 118.7 662.0 119.4 662.1 120.1 662.9 120.8 664.8 121.5 671.2 122.8 663.8 123.5 662.4 124.2 661.9 124.9 662.0 125.6 662.8 126.2 664.5 126.9 668.8 127.6 666.8 128.3 663.8 129.0 662.4 129.7 662.0 130.3 662.1 131.0 663.0 131.7 665.0 132.4 669.1 133.1 665.7 133.8 663.2 134.4 662.1 135.1 661.7 135.8 661.9 136.5 662.8 137.2 664.7 137.9 667.8 139.2 663.2 139.9 662.1 140.6 661.7 141.3 662.0 142.0 663.1 142.6 665.7 143.3 669.1 144.7 663.2 145.4 662.1 146.1 661.7 146.7 662.0 147.4 663.1 148.1 665.3 148.8 669.0 149.5 665.0 150.2 662.9 150.8 661.9 151.5 661.7 152.2 662.1 152.9 663.5 153.6 668.0 154.9 665.7 155.6 662.9 156.3 661.9 157.0 661.6 157.7 662.0 158.4 663.1 159.0 665.7 159.7 669.2 160.4 664.6 161.1 662.6 161.8 661.7 162.5 661.6 163.1 662.0 163.8 663.4 164.5 666.7 165.2 672.1 165.9 664.6 166.6 662.5 167.2 661.7 167.9 661.6 168.6 662.1 169.3 663.7 170.0 670.7 170.7 667.4 172.0 662.5 172.7 661.7 173.4 661.6 174.1 662.2 174.8 663.9 175.4 668.2 176.8 664.8 177.5 662.5 178.2 661.6 178.9 661.5 179.5 662.2 180.2 663.9 180.9 669.2 181.6 667.9 182.3 664.2 183.0 662.2 183.6 661.5 184.3 661.5 185.0 662.2 185.7 664.2 186.4 666.7 187.1 666.4 188.4 662.3 189.1 661.5 189.8 661.5 190.5 662.3 191.2 664.6 191.8 665.8 192.5 666.0 193.2 664.4 193.9 662.2 194.6 661.5 195.3 661.5 196.0 662.4 196.6 665.1 197.3 665.2 198.0 665.7 198.7 664.4 199.4 662.2 200.1 661.4 200.7 661.5 201.4 662.5 202.1 665.6 202.8 665.0 203.5 666.0 204.8 661.9 205.5 661.3 206.2 661.4 206.9 662.3 207.6 665.3 208.3 665.1 208.9 666.1 209.6 663.8 210.3 661.9 211.0 661.3 211.7 661.5 212.4 662.6 213.0 668.1 213.7 664.1 214.4 665.1 215.1 663.9 215.8 661.9 216.5 661.2 217.1 661.4 217.8 662.5 218.5 667.4 219.2 664.3 219.9 665.6 221.2 661.8 221.9 661.2 222.6 661.4 223.3 662.7 224.0 670.9 224.7 663.9 225.3 665.2 226.0 663.6 226.7 661.7 227.4 661.2 228.1 661.4 228.8 662.8 229.4 668.3 230.1 663.8 230.8 665.5 231.5 663.3 232.2 661.5 232.9 661.0 233.5 661.4 234.2 662.8 234.9 667.1 235.6 663.6 236.3 665.3 237.6 661.5 238.3 661.0 239.0 661.4 239.7 662.9 240.4 665.9 241.1 663.5 241.7 665.3 242.4 663.1 243.1 661.4 243.8 660.9 244.5 661.3 245.2 662.8 245.8 666.1 246.5 663.6 247.2 666.1 247.9 662.8 248.6 661.3 249.3 660.9 249.9 661.3 251.3 664.8 252.0 663.1 252.7 664.9 254.0 661.3 254.7 660.9 255.4 661.4 256.1 663.4 256.8 664.3 257.5 662.9 258.1 665.0 258.8 662.8 259.5 661.2 260.2 660.8 260.9 661.4 261.6 663.4 262.2 664.1 262.9 662.8 263.6 664.9 264.3 662.8 265.0 661.2 265.7 660.9 266.3 661.5 267.0 664.2 268.4 662.4 269.1 664.2 269.8 662.9 270.4 661.2 271.1 660.8 271.8 661.5 272.5 664.0 273.2 663.4 273.9 662.6 274.5 665.1 275.2 662.5 275.9 661.0 276.6 660.7 277.3 661.4 278.0 663.9 278.6 663.4 279.3 662.6 280.0 665.6 280.7 662.3 281.4 660.9 282.1 660.7 282.7 661.4 283.4 664.3 284.1 663.1 284.8 662.4 285.5 665.2 286.2 662.3 286.8 660.9 287.5 660.6 288.2 661.4 288.9 664.7 289.6 662.8 290.3 662.3 290.9 665.1 291.6 662.2 292.3 660.8 293.0 660.7 293.7 661.5 294.4 665.9 295.0 662.5 295.7 662.2 296.4 665.2 297.1 662.0 297.8 660.7 298.5 660.5 299.1 661.4 299.8 665.4 300.5 662.5 301.2 662.1 301.9 665.2 302.6 662.0 303.2 660.7 303.9 660.5 304.6 661.4 305.3 666.4 306.0 662.4 306.7 662.1 307.3 665.9 308.0 661.8 308.7 660.6 309.4 660.5 310.1 661.5 310.8 669.1 311.4 662.1 312.1 661.9 312.8 665.3 313.5 661.8 314.2 660.5 314.9 660.5 315.5 661.5 316.2 668.1 316.9 662.0 317.6 661.9 318.3 665.6 319.0 661.7 319.6 660.5 320.3 660.4 321.0 661.5 321.7 667.1 322.4 661.9 323.1 661.9 323.7 666.6 324.4 661.5 325.1 660.4 325.8 660.4 326.5 661.5 327.2 665.8 327.8 661.7 328.5 661.7 329.2 666.2 329.9 661.4 330.6 660.3 331.3 660.3 331.9 661.6 332.6 664.9 333.3 661.6 334.0 661.7 334.7 666.6 335.4 661.3 336.0 660.3 336.7 660.3 337.4 661.6 338.1 664.3 338.8 661.4 339.5 661.6 340.1 666.8 340.8 661.3 341.5 660.2 342.2 660.3 342.9 661.6 343.6 664.0 344.2 661.3 344.9 661.5 345.6 667.2 346.3 661.2 347.0 660.2 347.7 660.3 349.0 663.4 349.7 661.2 350.4 661.4 351.1 669.2 351.8 661.0 352.4 660.1 353.1 660.2 354.5 663.2 355.2 661.1 355.9 661.4 356.5 668.6 357.2 660.9 357.9 660.0 358.6 660.1 359.3 661.7 360.0 663.0 360.6 661.0 361.3 661.3 362.0 671.0 362.7 660.9 363.4 660.0 364.1 660.2 364.7 662.0 365.4 662.5 366.1 660.9 366.8 661.3 367.5 666.9 368.2 660.7 368.8 659.9 369.5 660.1 370.2 661.9 370.9 662.4 371.6 660.8 372.3 661.3 372.9 665.5 373.6 660.6 374.3 659.8 375.0 660.1 375.7 662.0 376.4 662.2 377.1 660.7 377.7 661.2 378.4 665.0 379.1 660.5 379.8 659.7 380.5 660.0 381.2 662.0 381.8 662.1 382.5 660.6 383.2 661.2 383.9 664.5 384.6 660.4 385.3 659.6 385.9 660.0 386.6 662.1 387.3 661.9 388.0 660.5 388.7 661.2 389.4 664.2 390.0 660.3 390.7 659.6 391.4 660.0 392.1 662.3 392.8 661.6 393.5 660.4 394.1 661.1 394.8 663.9 395.5 660.2 396.2 659.5 396.9 659.9 397.6 662.4 398.9 660.3 399.6 661.0 400.3 663.7 401.0 660.1 401.7 659.4 402.3 659.9 403.0 662.6 403.7 661.2 404.4 660.2 405.1 661.0 405.8 663.3 406.4 660.0 407.1 659.4 407.8 659.9 408.5 662.9 409.2 661.0 409.9 660.0 410.5 660.9 411.2 663.3 411.9 659.9 412.6 659.3 413.3 659.9 414.0 663.0 414.6 660.9 415.3 660.0 416.0 660.9 416.7 662.8 417.4 659.8 418.1 659.3 418.7 659.9 419.4 663.6 420.1 660.6 420.8 659.8 421.5 660.8 422.2 662.7 422.8 659.7 423.5 659.2 424.2 659.8 424.9 663.7 425.6 660.5 426.3 659.8 426.9 660.8 427.6 662.4 428.3 659.6 429.0 659.1 429.7 659.8 430.4 664.7 431.0 660.3 431.7 659.6 432.4 660.7 433.1 662.4 433.8 659.5 434.5 659.1 435.1 659.8 435.8 666.0 436.5 660.2 437.2 659.6 438.6 662.0 439.2 659.4 439.9 659.0 440.6 659.7 441.3 666.4 442.0 660.1 442.7 659.5 444.0 661.7 444.7 659.3 445.4 658.9 446.1 659.8 446.8 667.4 447.4 659.9 448.1 659.4 448.8 660.7 449.5 661.5 450.2 659.2 450.9 658.8 451.5 659.7 452.2 664.9 452.9 659.7 453.6 659.3 454.3 660.6 455.0 661.3 455.6 659.1 456.3 658.8 457.0 659.7 457.7 664.3 458.4 659.6 459.1 659.2 459.7 660.6 460.4 661.1 461.1 658.9 461.8 658.7 462.5 659.7 463.2 663.4 463.8 659.5 464.5 659.1 465.2 660.6 465.9 660.9 466.6 658.9 467.3 658.6 467.9 659.7 468.6 662.7 469.3 659.3 470.0 659.0 470.7 660.6 471.4 660.7 472.0 658.7 472.7 658.5 473.4 659.7 474.1 662.3 474.8 659.2 475.5 658.9 476.1 660.6 476.8 660.5 477.5 658.6 478.2 658.5 478.9 659.7 479.6 661.8 480.2 659.0 480.9 658.8 481.6 660.5 482.3 660.3 483.0 658.5 483.7 658.4 484.3 659.7 485.0 661.4 485.7 658.9 486.4 658.7 487.1 660.5 487.8 660.1 488.4 658.4 489.1 658.3 490.5 661.0 491.2 658.7 491.9 658.6 492.5 660.5 493.2 659.9 493.9 658.3 494.6 658.2 495.3 659.7 496.0 660.7 496.6 658.6 497.3 658.6 498.0 660.6 498.7 659.7 499.4 658.2 500.1 658.2 500.7 659.7 501.4 660.4 502.1 658.4 502.8 658.5 503.5 660.6 504.2 659.5 504.8 658.0 505.5 658.1 506.2 659.7 506.9 660.2 507.6 658.3 508.3 658.4 508.9 660.7 510.3 657.9 511.0 658.0 511.7 659.7 512.4 659.9 513.0 658.2 513.7 658.3 514.4 660.7 515.8 657.8 516.5 657.9 517.1 659.8 517.8 659.6 518.5 658.0 519.2 658.2 519.9 660.7 520.6 658.9 521.2 657.7 521.9 657.8 522.6 659.9 523.3 659.3 524.0 657.8 524.7 658.1 525.3 660.8 526.0 658.7 526.7 657.5 527.4 657.7 528.1 659.9 528.8 659.1 529.4 657.7 530.1 658.0 530.8 661.0 531.5 658.5 532.2 657.4 532.9 657.6 533.5 660.0 534.9 657.5 535.6 657.9 536.3 661.2 537.0 658.3 537.6 657.2 538.3 657.5 539.0 660.1 539.7 658.6 540.4 657.4 541.1 657.8 541.7 661.6 542.4 658.1 543.1 657.1 543.8 657.4 544.5 660.3 545.2 658.3 545.8 657.2 546.5 657.6 547.2 661.7 547.9 657.9 548.6 657.0 549.3 657.4 549.9 660.6 550.6 658.0 551.3 657.0 552.0 657.5 552.7 662.3 553.4 657.7 554.1 656.8 554.7 657.3 555.4 660.8 556.1 657.8 556.8 656.9 557.5 657.4 558.2 663.4 558.8 657.4 559.5 656.6 560.2 657.2 560.9 661.3 561.6 657.6 562.3 656.7 562.9 657.3 563.6 671.7 564.3 657.2 565.0 656.4 565.7 657.0 566.4 662.1 567.0 657.3 567.7 656.5 568.4 657.2 569.1 663.7 569.8 657.0 570.5 656.3 571.1 656.9 571.8 664.7 572.5 657.0 573.2 656.3 573.9 657.0 574.6 661.9 575.2 656.7 575.9 656.1 576.6 656.8 577.3 663.9 578.0 656.7 578.7 656.1 579.3 656.9 580.0 660.6 580.7 656.4 581.4 655.9 582.1 656.7 582.8 661.5 583.4 656.4 584.1 655.9 584.8 656.8 585.5 659.8 586.2 656.2 586.9 655.7 587.5 656.6 588.2 660.2 588.9 656.1 589.6 655.6 590.3 656.6 591.0 659.1 591.6 655.9 592.3 655.4 593.0 656.4 593.7 659.2 594.4 655.8 595.1 655.4 595.7 656.5 596.4 658.4 597.1 655.5 597.8 655.2 598.5 656.3 599.2 658.4 599.8 655.5 600.5 655.1 601.9 657.8 602.6 655.2 603.3 654.9 603.9 656.1 604.6 657.7 605.3 655.1 606.0 654.8 606.7 656.2 607.4 657.1 608.0 654.8 608.7 654.6 609.4 656.0 610.1 657.0 610.8 654.7 611.5 654.5 612.1 656.0 612.8 656.5 613.5 654.4 614.2 654.3 614.9 655.8 615.6 656.3 616.2 654.3 616.9 654.1 617.6 655.8 618.3 655.9 619.0 654.0 619.7 653.9 620.3 655.6 621.0 655.6 621.7 653.8 622.4 653.7 623.1 655.5 623.8 655.2 624.4 653.5 625.1 653.5 625.8 655.3 626.5 654.9 627.2 653.3 627.9 653.3 628.5 655.3 629.2 654.6 629.9 653.0 630.6 653.1 631.3 655.0 632.0 654.6 632.6 653.0 633.3 653.0 634.7 655.9 635.4 653.8 636.7 653.2 637.4 652.2 638.1 651.5 638.8 653.3 639.5 649.3 640.2 646.5 640.8 644.7 641.5 643.3 642.2 642.3 642.9 641.5 644.3 640.3 645.6 639.7 647.0 639.4 649.0 639.3 710.5 639.4 711.9 639.7 713.3 640.4 714.0 640.9 714.6 641.6 715.3 642.5 716.0 643.6 716.7 645.0 717.4 646.9 718.1 650.0 718.7 652.5 719.4 651.6 720.8 652.8 721.5 653.1 722.2 653.9 722.8 658.9 723.5 653.4 724.2 652.6 724.9 653.1 725.6 657.0 726.3 653.6 726.9 652.7 727.6 653.2 728.3 657.1 729.0 653.7 729.7 652.8 730.4 653.4 731.0 658.0 731.7 653.8 732.4 653.0 733.1 653.7 733.8 659.8 734.5 653.9 735.2 653.2 735.8 654.0 736.5 662.1 737.2 654.0 737.9 653.4 738.6 654.2 739.3 659.1 739.9 654.1 740.6 653.6 741.3 654.5 742.0 658.0 742.7 654.1 743.4 653.7 744.0 654.8 744.7 657.4 745.4 654.2 746.1 653.9 746.8 655.0 747.5 657.0 748.1 654.2 748.8 654.0 750.2 656.7 750.9 654.3 751.6 654.1 752.2 655.5 752.9 656.5 753.6 654.3 754.3 654.2 755.0 655.8 755.7 656.3 756.3 654.4 757.0 654.3 757.7 656.1 758.4 656.2 759.1 654.4 759.8 654.4 760.4 656.3 761.1 656.0 761.8 654.4 762.5 654.5 763.2 656.6 763.9 655.9 764.5 654.5 765.2 654.6 765.9 657.0 767.3 654.5 768.0 654.7 768.6 657.4 769.3 655.7 770.0 654.5 770.7 654.8 771.4 657.8 772.1 655.6 772.7 654.5 773.4 654.9 774.1 658.3 774.8 655.5 775.5 654.5 776.2 655.0 776.8 659.0 777.5 655.4 778.2 654.5 778.9 655.1 779.6 660.0 780.3 655.3 780.9 654.5 781.6 655.2 782.3 662.2 783.0 655.2 783.7 654.5 783.7 654.5" stroke="#bcbd22" stroke-width="2.08" fill="none" stroke-linecap="square" stroke-linejoin="round" clip-path="url(#c8)"/>
<path d="M84.5 702.5V753.5M154.5 702.5V753.5M224.5 702.5V753.5M294.5 702.5V753.5M364.5 702.5V753.5M434.5 702.5V753.5M504.5 702.5V753.5M574.5 702.5V753.5M644.5 702.5V753.5M714.5 702.5V753.5M784.5 702.5V753.5M49.5 753.5H819.5M49.5 739.5H819.5M49.5 725.5H819.5M49.5 712.5H819.5" stroke="#b0b0b0" stroke-width="1.11" fill="none" stroke-linecap="square" clip-path="url(#c9)"/>
<path d="M84.5 753.5v4.86M154.5 753.5v4.86M224.5 753.5v4.86M294.5 753.5v4.86M364.5 753.5v4.86M434.5 753.5v4.86M504.5 753.5v4.86M574.5 753.5v4.86M644.5 753.5v4.86M714.5 753.5v4.86M784.5 753.5v4.86M49.5 753.5h-4.86M49.5 739.5h-4.86M49.5 725.5h-4.86M49.5 712.5h-4.86" stroke="#000" stroke-width="1.11" fill="none"/>
<path d="M49.5 702.5H819.5V753.5H49.5Z" stroke="#000" stroke-width="1.11" fill="none" stroke-linecap="square"/>
<path d="M859.5 743.5L947.5 743.5Q949.5 743.5 949.5 740.5L949.5 726.5Q949.5 724.5 947.5 724.5L859.5 724.5Q857.5 724.5 857.5 726.5L857.5 740.5Q857.5 743.5 859.5 743.5Z" fill="#fff" fill-opacity="0.8" stroke="#ccc" stroke-width="1.39"/>
<path d="M83.9 740.8 84.6 732.5 85.2 730.1 85.9 729.0 86.6 728.7 87.3 729.0 88.0 730.1 88.7 732.5 89.3 739.7 90.0 732.4 90.7 730.0 91.4 729.0 92.1 728.7 92.8 729.0 93.4 730.1 94.1 732.7 94.8 744.0 95.5 732.4 96.2 730.0 96.9 729.0 97.5 728.7 98.2 729.1 98.9 730.2 99.6 732.7 100.3 740.4 101.0 732.3 101.6 730.0 102.3 729.0 103.0 728.7 103.7 729.1 104.4 730.2 105.1 732.9 105.7 739.7 106.4 732.3 107.1 730.0 107.8 729.0 108.5 728.7 109.2 729.1 109.8 730.2 110.5 732.9 111.2 740.9 111.9 732.3 112.6 730.0 113.3 729.0 113.9 728.7 114.6 729.1 115.3 730.3 116.0 733.0 116.7 741.9 117.4 732.2 118.0 729.9 118.7 729.0 119.4 728.7 120.1 729.1 120.8 730.3 121.5 733.0 122.1 743.6 122.8 732.1 123.5 729.9 124.2 729.0 124.9 728.7 125.6 729.1 126.2 730.3 126.9 733.1 127.6 741.5 128.3 732.1 129.0 729.9 129.7 728.9 130.3 728.7 131.0 729.1 131.7 730.3 132.4 733.1 133.1 739.8 133.8 732.0 134.4 729.8 135.1 728.9 135.8 728.7 136.5 729.1 137.2 730.4 137.9 733.2 138.5 739.9 139.2 731.9 139.9 729.8 140.6 728.9 141.3 728.7 142.0 729.1 142.6 730.4 143.3 733.4 144.0 742.5 144.7 731.9 145.4 729.8 146.1 728.9 146.7 728.7 147.4 729.2 148.1 730.4 148.8 733.4 149.5 739.4 150.2 731.8 150.8 729.8 151.5 728.9 152.2 728.7 152.9 729.2 153.6 730.5 154.3 733.6 154.9 741.9 155.6 731.8 156.3 729.8 157.0 728.9 157.7 728.7 158.4 729.2 159.0 730.5 159.7 733.7 160.4 741.4 161.1 731.8 161.8 729.7 162.5 728.9 163.1 728.7 163.8 729.2 164.5 730.5 165.2 733.7 165.9 739.4 166.6 731.7 167.2 729.7 167.9 728.9 168.6 728.7 169.3 729.2 170.0 730.6 170.7 733.9 171.3 742.4 172.0 731.7 172.7 729.7 173.4 728.9 174.1 728.7 174.8 729.2 175.4 730.6 176.1 734.2 176.8 740.7 177.5 731.7 178.2 729.7 178.9 728.8 179.5 728.7 180.2 729.2 180.9 730.6 181.6 734.1 182.3 738.6 183.0 731.5 183.6 729.6 184.3 728.8 185.0 728.7 185.7 729.2 186.4 730.6 187.1 734.2 187.7 738.4 188.4 731.5 189.1 729.6 189.8 728.8 190.5 728.7 191.2 729.3 191.8 730.7 192.5 734.6 193.2 741.2 193.9 731.5 194.6 729.6 195.3 728.8 196.0 728.7 196.6 729.3 197.3 730.8 198.7 739.4 199.4 731.5 200.1 729.6 200.7 728.8 201.4 728.7 202.1 729.3 202.8 730.8 203.5 735.2 204.2 746.0 204.8 731.4 205.5 729.6 206.2 728.8 206.9 728.7 207.6 729.3 208.3 730.8 208.9 734.9 209.6 738.1 210.3 731.3 211.0 729.5 211.7 728.8 212.4 728.7 213.0 729.3 213.7 730.9 214.4 735.3 215.1 739.0 215.8 731.3 216.5 729.5 217.1 728.8 217.8 728.7 218.5 729.3 219.2 730.9 219.9 735.7 220.6 739.3 221.2 731.3 221.9 729.5 222.6 728.8 223.3 728.7 224.0 729.3 224.7 731.0 225.3 736.3 226.0 740.5 226.7 731.3 227.4 729.5 228.1 728.8 228.8 728.7 229.4 729.4 230.1 731.0 230.8 736.7 231.5 739.3 232.2 731.2 232.9 729.5 233.5 728.7 234.2 728.7 234.9 729.4 235.6 731.1 236.3 737.6 237.0 740.8 237.6 731.2 238.3 729.4 239.0 728.7 239.7 728.7 240.4 729.4 241.1 731.1 241.7 738.0 242.4 738.8 243.1 731.1 243.8 729.4 244.5 728.7 245.2 728.7 245.8 729.4 246.5 731.1 247.2 738.6 247.9 738.1 248.6 731.1 249.3 729.4 249.9 728.7 250.6 728.7 251.3 729.4 252.0 731.2 252.7 739.6 253.4 740.0 254.0 731.1 254.7 729.4 255.4 728.7 256.1 728.7 256.8 729.4 257.5 731.3 258.1 738.0 258.8 739.4 259.5 731.0 260.2 729.3 260.9 728.7 261.6 728.7 262.2 729.5 262.9 731.3 263.6 737.3 264.3 739.2 265.0 731.0 265.7 729.3 266.3 728.7 267.0 728.7 267.7 729.5 268.4 731.4 269.1 736.5 269.8 739.0 270.4 731.0 271.1 729.3 271.8 728.7 272.5 728.7 273.2 729.5 273.9 731.4 274.5 736.4 275.2 737.8 275.9 730.9 276.6 729.3 277.3 728.7 278.0 728.7 278.6 729.5 279.3 731.5 280.0 736.0 280.7 737.8 281.4 730.9 282.1 729.3 282.7 728.6 283.4 728.7 284.1 729.5 284.8 731.6 285.5 735.4 286.2 738.3 286.8 730.8 287.5 729.2 288.2 728.6 288.9 728.7 289.6 729.5 290.3 731.7 290.9 735.0 291.6 739.1 292.3 730.8 293.0 729.2 293.7 728.6 294.4 728.7 295.0 729.6 295.7 731.8 296.4 734.7 297.1 738.7 297.8 730.8 298.5 729.2 299.1 728.6 299.8 728.7 300.5 729.6 301.9 734.4 302.6 739.2 303.2 730.8 303.9 729.2 304.6 728.6 305.3 728.7 306.0 729.6 307.3 734.3 308.0 738.4 308.7 730.7 309.4 729.2 310.1 728.6 310.8 728.7 311.4 729.6 312.8 734.0 313.5 738.9 314.2 730.7 314.9 729.1 315.5 728.6 316.2 728.7 316.9 729.7 317.6 732.1 318.3 733.9 319.0 738.3 319.6 730.6 320.3 729.1 321.0 728.6 321.7 728.7 322.4 729.7 323.1 732.2 323.7 733.8 324.4 738.0 325.1 730.6 325.8 729.1 326.5 728.6 327.2 728.7 327.8 729.7 328.5 732.3 329.2 733.6 329.9 737.9 330.6 730.6 331.3 729.1 331.9 728.6 332.6 728.7 333.3 729.7 334.0 732.4 334.7 733.5 335.4 737.6 336.0 730.5 336.7 729.0 337.4 728.5 338.1 728.7 338.8 729.7 339.5 732.5 340.1 733.3 340.8 737.7 341.5 730.5 342.2 729.0 342.9 728.5 343.6 728.7 344.2 729.8 344.9 732.7 345.6 733.2 346.3 737.5 347.0 730.5 347.7 729.0 348.3 728.5 349.0 728.7 349.7 729.8 350.4 732.8 351.1 733.1 351.8 737.3 352.4 730.4 353.1 729.0 353.8 728.5 354.5 728.7 355.2 729.8 355.9 733.0 356.5 733.0 357.2 737.3 357.9 730.4 358.6 729.0 359.3 728.5 360.0 728.7 360.6 729.9 361.3 733.2 362.0 732.9 362.7 737.1 363.4 730.4 364.1 728.9 364.7 728.5 365.4 728.7 366.1 729.9 366.8 733.3 367.5 732.8 368.2 736.3 368.8 730.3 369.5 728.9 370.2 728.5 370.9 728.7 371.6 729.9 372.3 733.5 372.9 732.7 373.6 736.8 374.3 730.3 375.0 728.9 375.7 728.5 376.4 728.8 377.1 729.9 377.7 733.9 378.4 732.6 379.1 736.3 379.8 730.2 380.5 728.8 381.2 728.4 381.8 728.7 382.5 729.9 383.2 733.9 383.9 732.6 384.6 735.8 385.3 730.2 385.9 728.8 386.6 728.4 387.3 728.8 388.0 730.0 388.7 734.7 389.4 732.4 390.0 736.6 390.7 730.2 391.4 728.8 392.1 728.4 392.8 728.7 393.5 730.0 394.1 734.9 394.8 732.3 395.5 736.0 396.2 730.1 396.9 728.8 397.6 728.4 398.2 728.8 398.9 730.1 399.6 735.6 400.3 732.2 401.0 736.0 401.7 730.1 402.3 728.8 403.0 728.4 403.7 728.8 404.4 730.1 405.1 737.1 405.8 732.1 406.4 736.2 407.1 730.1 407.8 728.7 408.5 728.4 409.2 728.8 409.9 730.1 410.5 741.0 411.2 732.0 411.9 736.1 412.6 730.0 413.3 728.7 414.0 728.4 414.6 728.8 415.3 730.2 416.0 737.9 416.7 731.9 417.4 736.1 418.1 730.0 418.7 728.7 419.4 728.4 420.1 728.8 420.8 730.2 421.5 735.9 422.2 731.8 422.8 735.9 423.5 729.9 424.2 728.6 424.9 728.3 425.6 728.8 426.3 730.3 426.9 735.5 427.6 731.8 428.3 735.6 429.0 729.9 429.7 728.6 430.4 728.3 431.0 728.8 431.7 730.3 432.4 734.5 433.1 731.7 433.8 735.9 434.5 729.9 435.1 728.6 435.8 728.3 436.5 728.8 437.2 730.4 437.9 734.0 438.6 731.6 439.2 735.7 439.9 729.8 440.6 728.6 441.3 728.3 442.0 728.8 442.7 730.4 443.3 733.7 444.0 731.5 444.7 735.6 445.4 729.8 446.1 728.5 446.8 728.3 447.4 728.8 448.1 730.5 448.8 733.4 449.5 731.5 450.2 735.4 450.9 729.7 451.5 728.5 452.2 728.3 452.9 728.8 453.6 730.6 454.3 733.0 455.0 731.4 455.6 735.3 456.3 729.7 457.0 728.5 457.7 728.2 458.4 728.8 459.1 730.6 459.7 732.9 460.4 731.3 461.1 735.0 461.8 729.6 462.5 728.5 463.2 728.2 463.8 728.8 465.2 732.6 465.9 731.2 466.6 735.0 467.3 729.6 467.9 728.4 468.6 728.2 469.3 728.8 470.0 730.7 470.7 732.3 471.4 731.2 472.0 735.0 472.7 729.6 473.4 728.4 474.1 728.2 474.8 728.8 475.5 730.8 476.1 732.1 476.8 731.1 477.5 734.8 478.2 729.5 478.9 728.4 479.6 728.2 480.2 728.8 480.9 730.9 481.6 731.9 482.3 731.0 483.0 734.8 483.7 729.5 484.3 728.3 485.0 728.2 485.7 728.8 486.4 731.0 487.1 731.7 487.8 730.9 488.4 734.8 489.1 729.4 489.8 728.3 490.5 728.1 491.2 728.8 491.9 731.1 492.5 731.5 493.2 730.8 493.9 734.7 494.6 729.4 495.3 728.3 496.0 728.1 496.6 728.8 497.3 731.2 498.0 731.4 498.7 730.8 499.4 734.4 500.1 729.3 500.7 728.2 501.4 728.1 502.1 728.8 502.8 731.3 503.5 731.3 504.2 730.7 504.8 734.3 505.5 729.3 506.2 728.2 506.9 728.1 507.6 728.8 508.3 731.5 509.6 730.6 510.3 734.2 511.0 729.2 511.7 728.2 512.4 728.1 513.0 728.8 513.7 731.7 514.4 730.9 515.1 730.6 515.8 734.1 516.5 729.2 517.1 728.1 517.8 728.0 518.5 728.9 519.2 731.8 519.9 730.8 520.6 730.5 521.2 734.0 521.9 729.1 522.6 728.1 523.3 728.0 524.0 728.9 524.7 732.0 525.3 730.7 526.0 730.4 526.7 733.9 527.4 729.1 528.1 728.1 528.8 728.0 529.4 728.9 530.1 732.3 530.8 730.5 531.5 730.4 532.2 733.7 532.9 729.0 533.5 728.0 534.2 728.0 534.9 728.9 535.6 732.5 536.3 730.4 537.0 730.3 537.6 733.6 538.3 729.0 539.0 728.0 539.7 728.0 540.4 728.9 541.1 733.0 541.7 730.3 542.4 730.2 543.1 733.6 543.8 728.9 544.5 727.9 545.2 727.9 545.8 728.9 546.5 733.5 547.2 730.1 547.9 730.1 548.6 733.5 549.3 728.9 549.9 727.9 550.6 727.9 551.3 728.9 552.0 734.3 552.7 730.0 553.4 730.0 554.1 733.4 554.7 728.8 555.4 727.9 556.1 727.9 556.8 728.9 557.5 735.5 558.2 729.9 558.8 730.0 559.5 733.2 560.2 728.8 560.9 727.8 561.6 727.9 562.3 728.9 562.9 738.5 563.6 729.7 564.3 729.9 565.0 733.0 565.7 728.7 566.4 727.8 567.0 727.8 567.7 729.0 568.4 735.7 569.1 729.6 569.8 729.8 570.5 733.0 571.1 728.6 571.8 727.7 572.5 727.8 573.2 729.0 573.9 734.1 574.6 729.5 575.2 729.7 575.9 732.8 576.6 728.6 577.3 727.7 578.0 727.8 578.7 729.0 579.3 733.3 580.0 729.4 580.7 729.7 581.4 732.6 582.1 728.5 582.8 727.6 583.4 727.7 584.1 729.0 584.8 732.7 585.5 729.2 586.2 729.6 586.9 732.5 587.5 728.4 588.2 727.5 588.9 727.7 589.6 729.0 590.3 732.1 591.0 729.1 591.6 729.5 592.3 732.4 593.0 728.3 593.7 727.5 594.4 727.7 595.1 729.1 595.7 731.6 596.4 729.0 597.1 729.4 597.8 732.2 598.5 728.3 599.2 727.4 599.8 727.6 600.5 729.1 601.2 731.2 601.9 728.8 602.6 729.3 603.3 732.1 603.9 728.2 604.6 727.4 605.3 727.6 606.7 730.9 607.4 728.7 608.0 729.2 608.7 731.9 609.4 728.1 610.1 727.3 610.8 727.5 611.5 729.2 612.1 730.5 612.8 728.6 613.5 729.1 614.2 731.8 614.9 728.0 615.6 727.2 616.2 727.5 616.9 729.2 617.6 730.2 618.3 728.4 619.0 729.0 619.7 731.6 620.3 727.9 621.0 727.1 621.7 727.4 622.4 729.3 623.1 729.9 623.8 728.3 624.4 728.9 625.1 731.4 625.8 727.8 626.5 727.1 627.2 727.4 627.9 729.3 628.5 729.6 629.2 728.1 629.9 728.8 630.6 731.2 631.3 727.7 632.0 727.0 632.6 727.3 633.3 729.4 634.0 729.3 634.7 728.0 635.4 728.7 636.1 731.0 636.7 727.6 637.4 726.9 638.1 727.3 638.8 729.5 639.5 729.1 640.2 727.8 640.8 728.5 641.5 730.8 642.2 727.4 642.9 726.8 643.6 727.2 644.3 729.6 644.9 728.8 645.6 727.6 646.3 728.4 647.0 730.6 647.7 727.3 648.4 726.7 649.0 727.1 649.7 729.8 651.1 727.5 651.8 728.3 652.5 730.4 653.1 727.2 653.8 726.6 654.5 727.1 655.2 730.0 655.9 728.2 656.6 727.3 657.2 728.1 657.9 730.1 658.6 727.0 659.3 726.4 660.0 727.0 660.7 730.2 661.3 727.9 662.0 727.1 662.7 728.0 663.4 729.8 664.1 726.8 664.8 726.3 665.4 726.9 666.1 730.6 666.8 727.6 667.5 726.8 668.2 727.8 668.9 729.5 669.5 726.6 670.2 726.1 670.9 726.8 671.6 731.2 672.3 727.3 673.0 726.6 673.6 727.6 674.3 729.2 675.0 726.4 675.7 725.9 676.4 726.6 677.1 732.4 677.7 727.0 678.4 726.3 679.1 727.4 679.8 728.9 680.5 726.1 681.2 725.7 681.8 726.5 682.5 736.2 683.2 726.6 683.9 726.0 684.6 727.1 685.3 728.5 685.9 725.8 686.6 725.4 687.3 726.3 688.0 731.3 688.7 726.2 689.4 725.7 690.7 728.0 691.4 725.5 692.1 725.1 692.8 726.1 693.5 729.7 694.1 725.7 694.8 725.3 696.2 727.5 696.9 725.1 697.6 724.8 698.2 725.8 698.9 728.7 699.6 725.3 700.3 724.9 701.7 727.3 702.3 724.9 703.0 724.6 703.7 725.5 704.4 732.7 705.1 725.9 705.8 725.4 706.4 725.7 707.1 725.4 707.8 724.4 708.5 724.5 709.2 723.3 709.9 719.7 710.5 717.6 711.2 716.1 711.9 714.9 712.6 714.0 713.3 713.3 714.6 712.3 716.0 711.8 717.4 711.6 720.1 711.6 783.7 711.6 783.7 711.6" stroke="#17becf" stroke-width="2.08" fill="none" stroke-linecap="square" stroke-linejoin="round" clip-path="url(#c9)"/>
<g>
<text x="13.3" y="108.4" font-size="11.11">1</text>
<text x="20.38" y="108.4" font-size="11.11">0</text>
<text x="26.66" y="104.19" font-size="8.4">−</text>
<text x="33.19" y="103.39" font-size="8.4">9</text>
<text x="13.3" y="94.69" font-size="11.11">1</text>
<text x="20.38" y="94.69" font-size="11.11">0</text>
<text x="26.66" y="90.48" font-size="8.4">−</text>
<text x="33.19" y="89.68" font-size="8.4">6</text>
<text x="13.43" y="80.98" font-size="11.11">1</text>
<text x="20.5" y="80.98" font-size="11.11">0</text>
<text x="26.79" y="76.77" font-size="8.4">−</text>
<text x="33.31" y="75.97" font-size="8.4">3</text>
<text x="19.83" y="67.27" font-size="11.11">1</text>
<text x="26.9" y="67.27" font-size="11.11">0</text>
<text x="33.19" y="62.26" font-size="8.4">0</text>
<text x="862.09" y="85.77" font-size="11.11" textLength="83" lengthAdjust="spacingAndGlyphs">Cutoff: 0.0, 0.1</text>
<text x="13.3" y="180.68" font-size="11.11">1</text>
<text x="20.38" y="180.68" font-size="11.11">0</text>
<text x="26.66" y="176.46" font-size="8.4">−</text>
<text x="33.19" y="175.66" font-size="8.4">9</text>
<text x="13.3" y="166.97" font-size="11.11">1</text>
<text x="20.38" y="166.97" font-size="11.11">0</text>
<text x="26.66" y="162.75" font-size="8.4">−</text>
<text x="33.19" y="161.95" font-size="8.4">6</text>
<text x="13.43" y="153.25" font-size="11.11">1</text>
<text x="20.5" y="153.25" font-size="11.11">0</text>
<text x="26.79" y="149.04" font-size="8.4">−</text>
<text x="33.31" y="148.24" font-size="8.4">3</text>
<text x="19.83" y="139.54" font-size="11.11">1</text>
<text x="26.9" y="139.54" font-size="11.11">0</text>
<text x="33.19" y="134.53" font-size="8.4">0</text>
<text x="862.09" y="158.05" font-size="11.11" textLength="83.12" lengthAdjust="spacingAndGlyphs">Cutoff: 0.1, 0.2</text>
<text x="13.3" y="252.95" font-size="11.11">1</text>
<text x="20.38" y="252.95" font-size="11.11">0</text>
<text x="26.66" y="248.74" font-size="8.4">−</text>
<text x="33.19" y="247.94" font-size="8.4">9</text>
<text x="13.3" y="239.24" font-size="11.11">1</text>
<text x="20.38" y="239.24" font-size="11.11">0</text>
<text x="26.66" y="235.03" font-size="8.4">−</text>
<text x="33.19" y="234.23" font-size="8.4">6</text>
<text x="13.43" y="225.53" font-size="11.11">1</text>
<text x="20.5" y="225.53" font-size="11.11">0</text>
<text x="26.79" y="221.32" font-size="8.4">−</text>
<text x="33.31" y="220.52" font-size="8.4">3</text>
<text x="19.83" y="211.82" font-size="11.11">1</text>
<text x="26.9" y="211.82" font-size="11.11">0</text>
<text x="33.19" y="206.81" font-size="8.4">0</text>
<text x="862.09" y="230.32" font-size="11.11" textLength="83.12" lengthAdjust="spacingAndGlyphs">Cutoff: 0.2, 0.3</text>
<text x="13.3" y="325.22" font-size="11.11">1</text>
<text x="20.38" y="325.22" font-size="11.11">0</text>
<text x="26.66" y="321.01" font-size="8.4">−</text>
<text x="33.19" y="320.21" font-size="8.4">9</text>
<text x="13.3" y="311.51" font-size="11.11">1</text>
<text x="20.38" y="311.51" font-size="11.11">0</text>
<text x="26.66" y="307.3" font-size="8.4">−</text>
<text x="33.19" y="306.5" font-size="8.4">6</text>
<text x="13.43" y="297.8" font-size="11.11">1</text>
<text x="20.5" y="297.8" font-size="11.11">0</text>
<text x="26.79" y="293.59" font-size="8.4">−</text>
<text x="33.31" y="292.79" font-size="8.4">3</text>
<text x="19.83" y="284.09" font-size="11.11">1</text>
<text x="26.9" y="284.09" font-size="11.11">0</text>
<text x="33.19" y="279.08" font-size="8.4">0</text>
<text x="862.09" y="302.59" font-size="11.11" textLength="83.12" lengthAdjust="spacingAndGlyphs">Cutoff: 0.3, 0.4</text>
<text x="13.3" y="397.49" font-size="11.11">1</text>
<text x="20.38" y="397.49" font-size="11.11">0</text>
<text x="26.66" y="393.28" font-size="8.4">−</text>
<text x="33.19" y="392.48" font-size="8.4">9</text>
<text x="13.3" y="383.78" font-size="11.11">1</text>
<text x="20.38" y="383.78" font-size="11.11">0</text>
<text x="26.66" y="379.57" font-size="8.4">−</text>
<text x="33.19" y="378.77" font-size="8.4">6</text>
<text x="13.43" y="370.07" font-size="11.11">1</text>
<text x="20.5" y="370.07" font-size="11.11">0</text>
<text x="26.79" y="365.86" font-size="8.4">−</text>
<text x="33.31" y="365.06" font-size="8.4">3</text>
<text x="19.83" y="356.36" font-size="11.11">1</text>
<text x="26.9" y="356.36" font-size="11.11">0</text>
<text x="33.19" y="351.35" font-size="8.4">0</text>
<text x="862.09" y="374.86" font-size="11.11" textLength="83.12" lengthAdjust="spacingAndGlyphs">Cutoff: 0.4, 0.5</text>
<text x="13.3" y="469.76" font-size="11.11">1</text>
<text x="20.38" y="469.76" font-size="11.11">0</text>
<text x="26.66" y="465.55" font-size="8.4">−</text>
<text x="33.19" y="464.75" font-size="8.4">9</text>
<text x="13.3" y="456.05" font-size="11.11">1</text>
<text x="20.38" y="456.05" font-size="11.11">0</text>
<text x="26.66" y="451.84" font-size="8.4">−</text>
<text x="33.19" y="451.04" font-size="8.4">6</text>
<text x="13.43" y="442.34" font-size="11.11">1</text>
<text x="20.5" y="442.34" font-size="11.11">0</text>
<text x="26.79" y="438.13" font-size="8.4">−</text>
<text x="33.31" y="437.33" font-size="8.4">3</text>
<text x="19.83" y="428.63" font-size="11.11">1</text>
<text x="26.9" y="428.63" font-size="11.11">0</text>
<text x="33.19" y="423.62" font-size="8.4">0</text>
<text x="862.09" y="447.13" font-size="11.11" textLength="83" lengthAdjust="spacingAndGlyphs">Cutoff: 0.5, 0.6</text>
<text x="13.3" y="542.04" font-size="11.11">1</text>
<text x="20.38" y="542.04" font-size="11.11">0</text>
<text x="26.66" y="537.83" font-size="8.4">−</text>
<text x="33.19" y="537.03" font-size="8.4">9</text>
<text x="13.3" y="528.33" font-size="11.11">1</text>
<text x="20.38" y="528.33" font-size="11.11">0</text>
<text x="26.66" y="524.12" font-size="8.4">−</text>
<text x="33.19" y="523.32" font-size="8.4">6</text>
<text x="13.43" y="514.62" font-size="11.11">1</text>
<text x="20.5" y="514.62" font-size="11.11">0</text>
<text x="26.79" y="510.4" font-size="8.4">−</text>
<text x="33.31" y="509.6" font-size="8.4">3</text>
<text x="19.83" y="500.9" font-size="11.11">1</text>
<text x="26.9" y="500.9" font-size="11.11">0</text>
<text x="33.19" y="495.89" font-size="8.4">0</text>
<text x="862.09" y="519.41" font-size="11.11" textLength="83.12" lengthAdjust="spacingAndGlyphs">Cutoff: 0.6, 0.7</text>
<text x="13.3" y="614.31" font-size="11.11">1</text>
<text x="20.38" y="614.31" font-size="11.11">0</text>
<text x="26.66" y="610.1" font-size="8.4">−</text>
<text x="33.19" y="609.3" font-size="8.4">9</text>
<text x="13.3" y="600.6" font-size="11.11">1</text>
<text x="20.38" y="600.6" font-size="11.11">0</text>
<text x="26.66" y="596.39" font-size="8.4">−</text>
<text x="33.19" y="595.59" font-size="8.4">6</text>
<text x="13.43" y="586.89" font-size="11.11">1</text>
<text x="20.5" y="586.89" font-size="11.11">0</text>
<text x="26.79" y="582.68" font-size="8.4">−</text>
<text x="33.31" y="581.88" font-size="8.4">3</text>
<text x="19.83" y="573.18" font-size="11.11">1</text>
<text x="26.9" y="573.18" font-size="11.11">0</text>
<text x="33.19" y="568.17" font-size="8.4">0</text>
<text x="862.09" y="591.68" font-size="11.11" textLength="83.25" lengthAdjust="spacingAndGlyphs">Cutoff: 0.7, 0.8</text>
<text x="13.3" y="686.58" font-size="11.11">1</text>
<text x="20.38" y="686.58" font-size="11.11">0</text>
<text x="26.66" y="682.37" font-size="8.4">−</text>
<text x="33.19" y="681.57" font-size="8.4">9</text>
<text x="13.3" y="672.87" font-size="11.11">1</text>
<text x="20.38" y="672.87" font-size="11.11">0</text>
<text x="26.66" y="668.66" font-size="8.4">−</text>
<text x="33.19" y="667.86" font-size="8.4">6</text>
<text x="13.43" y="659.16" font-size="11.11">1</text>
<text x="20.5" y="659.16" font-size="11.11">0</text>
<text x="26.79" y="654.95" font-size="8.4">−</text>
<text x="33.31" y="654.15" font-size="8.4">3</text>
<text x="19.83" y="645.45" font-size="11.11">1</text>
<text x="26.9" y="645.45" font-size="11.11">0</text>
<text x="33.19" y="640.44" font-size="8.4">0</text>
<text x="862.09" y="663.95" font-size="11.11" textLength="83.25" lengthAdjust="spacingAndGlyphs">Cutoff: 0.8, 0.9</text>
<text x="75.56" y="770.44" font-size="11.11" textLength="17.62" lengthAdjust="spacingAndGlyphs">0.0</text>
<text x="145.61" y="770.44" font-size="11.11" textLength="17.62" lengthAdjust="spacingAndGlyphs">0.1</text>
<text x="215.59" y="770.44" font-size="11.11" textLength="17.75" lengthAdjust="spacingAndGlyphs">0.2</text>
<text x="285.71" y="770.44" font-size="11.11" textLength="17.62" lengthAdjust="spacingAndGlyphs">0.3</text>
<text x="355.69" y="770.44" font-size="11.11" textLength="17.75" lengthAdjust="spacingAndGlyphs">0.4</text>
<text x="425.8" y="770.44" font-size="11.11" textLength="17.62" lengthAdjust="spacingAndGlyphs">0.5</text>
<text x="495.85" y="770.44" font-size="11.11" textLength="17.62" lengthAdjust="spacingAndGlyphs">0.6</text>
<text x="565.84" y="770.44" font-size="11.11" textLength="17.75" lengthAdjust="spacingAndGlyphs">0.7</text>
<text x="635.88" y="770.44" font-size="11.11" textLength="17.75" lengthAdjust="spacingAndGlyphs">0.8</text>
<text x="705.93" y="770.44" font-size="11.11" textLength="17.75" lengthAdjust="spacingAndGlyphs">0.9</text>
<text x="776.04" y="770.44" font-size="11.11" textLength="17.62" lengthAdjust="spacingAndGlyphs">1.0</text>
<text x="405.33" y="786" font-size="11.11" textLength="57.88" lengthAdjust="spacingAndGlyphs">Frequency</text>
<text x="13.3" y="758.85" font-size="11.11">1</text>
<text x="20.38" y="758.85" font-size="11.11">0</text>
<text x="26.66" y="754.64" font-size="8.4">−</text>
<text x="33.19" y="753.84" font-size="8.4">9</text>
<text x="13.3" y="745.14" font-size="11.11">1</text>
<text x="20.38" y="745.14" font-size="11.11">0</text>
<text x="26.66" y="740.93" font-size="8.4">−</text>
<text x="33.19" y="740.13" font-size="8.4">6</text>
<text x="13.43" y="731.43" font-size="11.11">1</text>
<text x="20.5" y="731.43" font-size="11.11">0</text>
<text x="26.79" y="727.22" font-size="8.4">−</text>
<text x="33.31" y="726.42" font-size="8.4">3</text>
<text x="19.83" y="717.72" font-size="11.11">1</text>
<text x="26.9" y="717.72" font-size="11.11">0</text>
<text x="33.19" y="712.71" font-size="8.4">0</text>
<text x="862.09" y="736.22" font-size="11.11" textLength="83.12" lengthAdjust="spacingAndGlyphs">Cutoff: 0.9, 1.0</text>
<text x="231.94" y="26" font-size="13.33" textLength="497.12" lengthAdjust="spacingAndGlyphs">Frequency response of sinc low-pass filter for different cut-off frequencies</text>
<text x="322.19" y="41" font-size="13.33" textLength="316.62" lengthAdjust="spacingAndGlyphs">(Frequencies are relative to Nyquist frequency)</text>
</g>
</svg>
</body></html>
